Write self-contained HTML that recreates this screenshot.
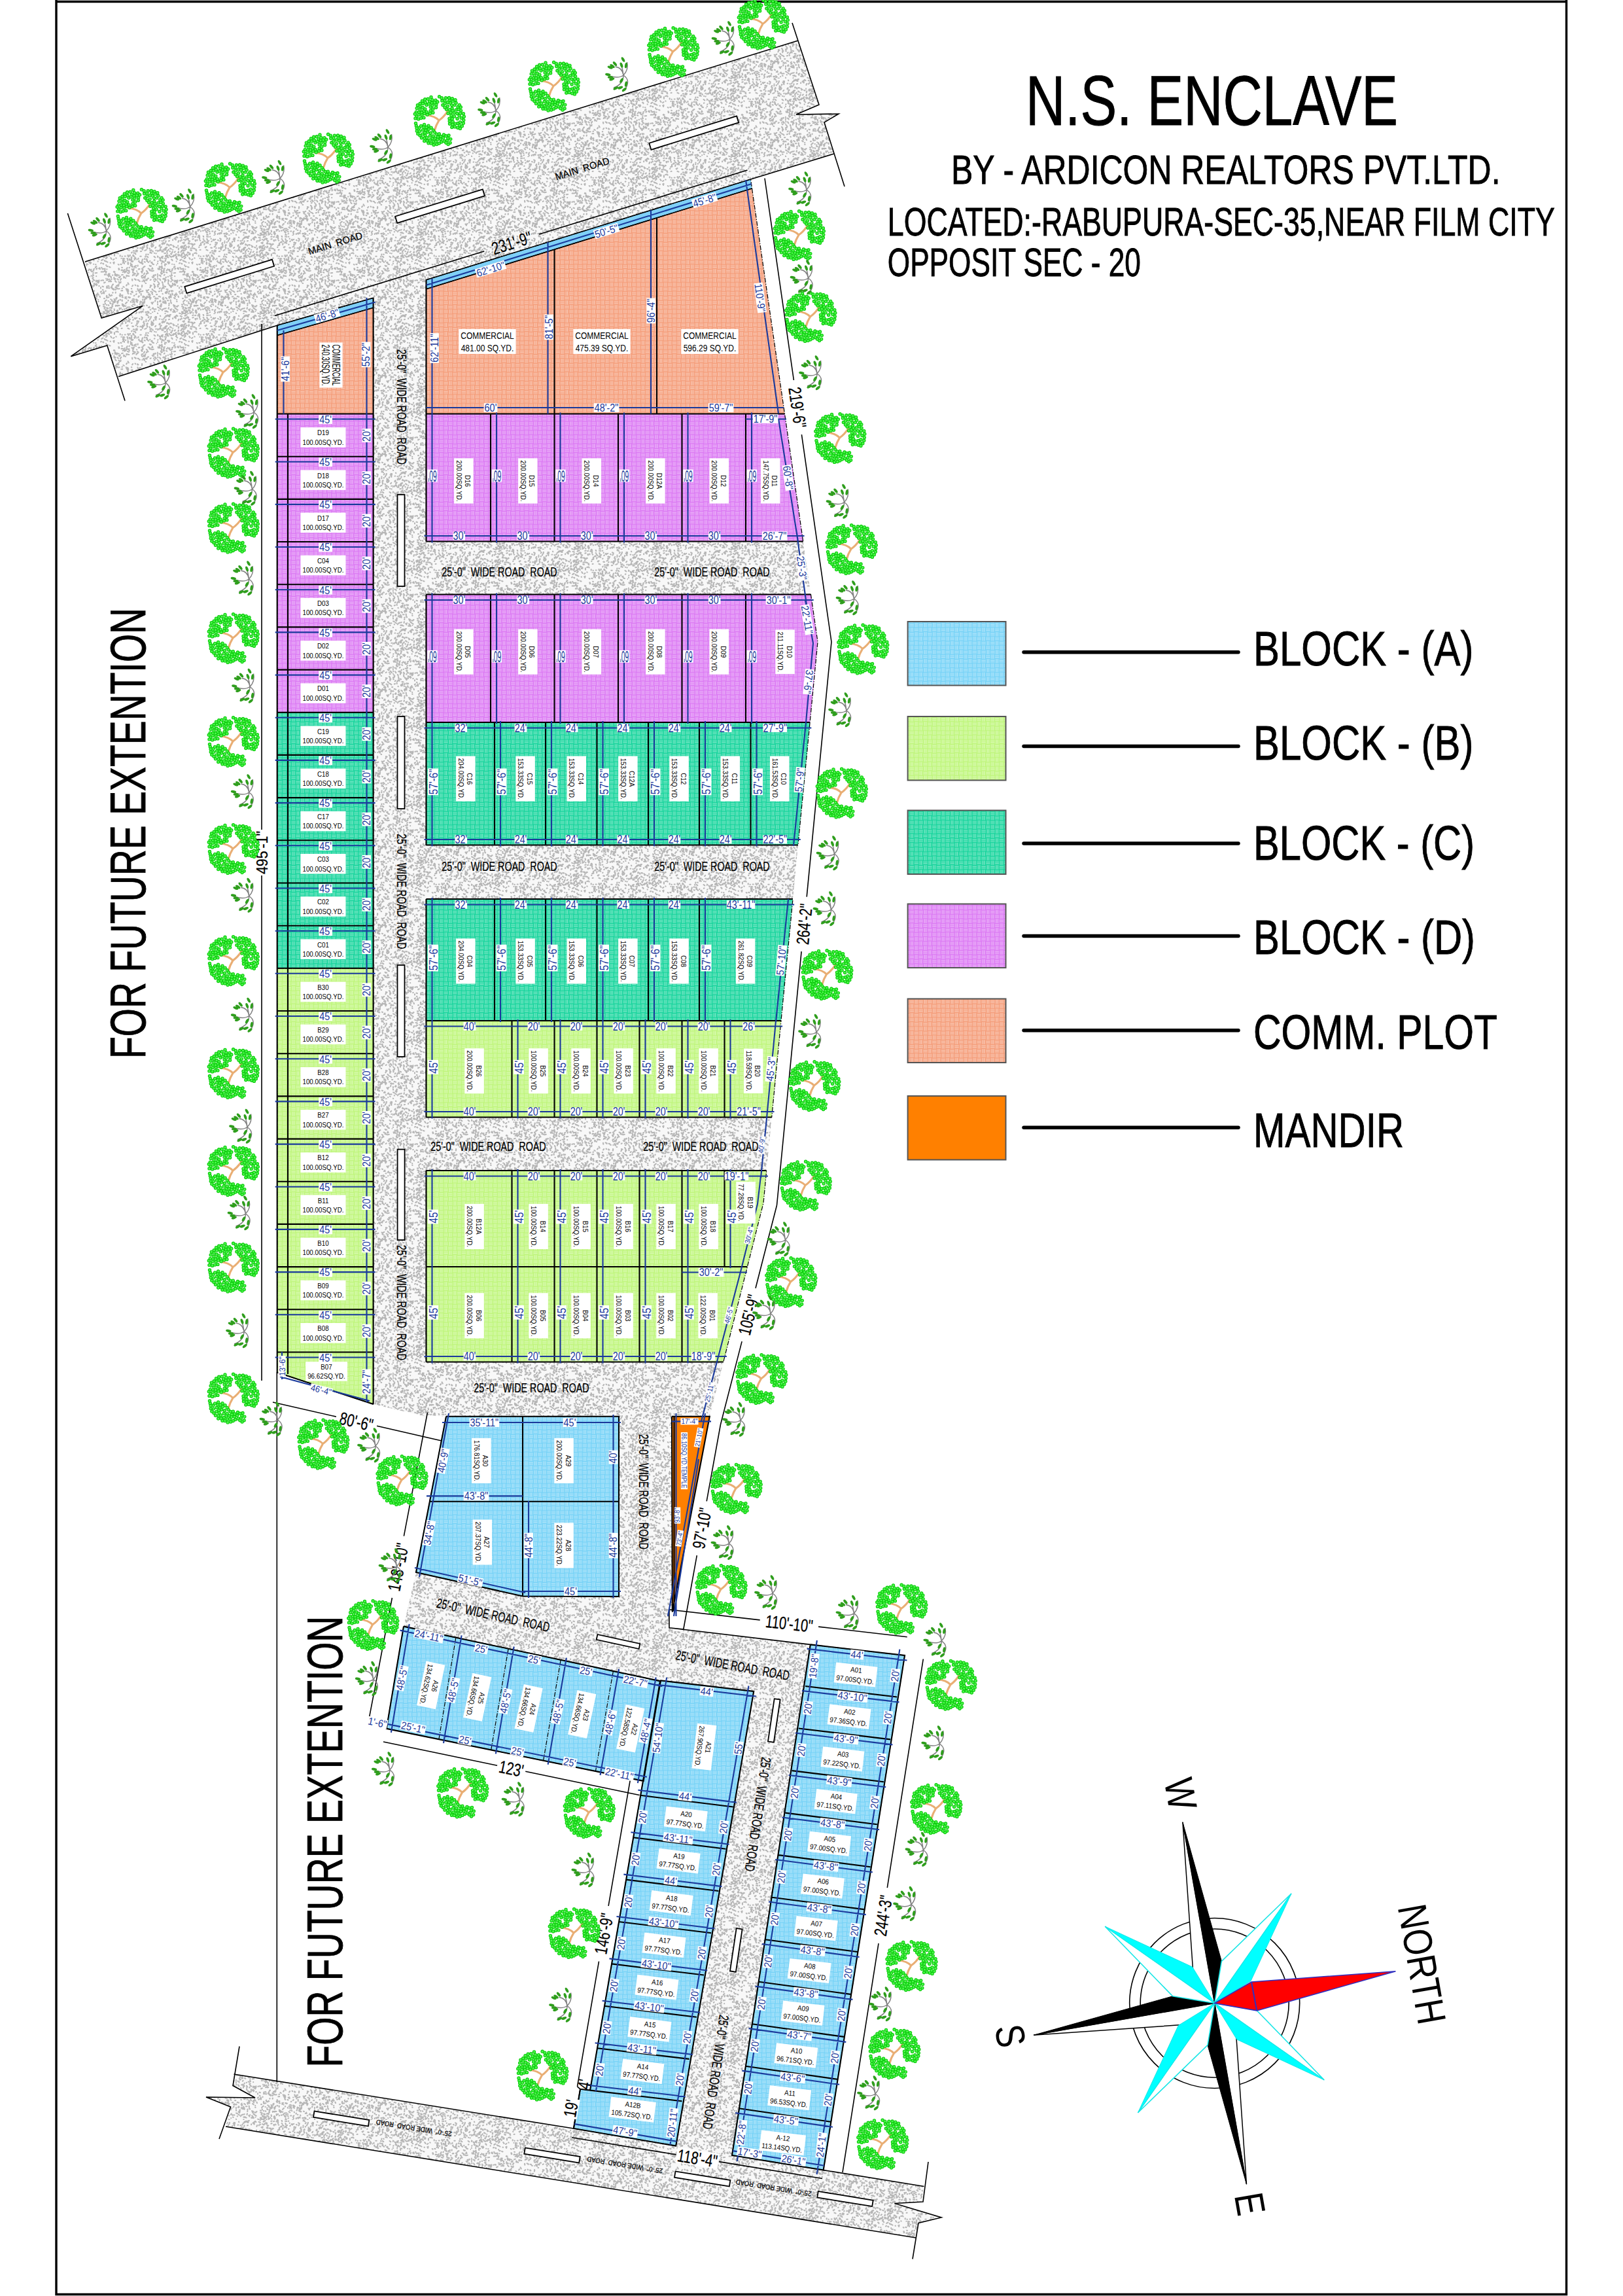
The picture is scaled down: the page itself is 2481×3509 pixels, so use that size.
<!DOCTYPE html>
<html><head><meta charset="utf-8"><title>N.S. ENCLAVE</title><style>html,body{margin:0;padding:0;background:#fff}svg{display:block}</style></head><body>
<svg width="2481" height="3509" viewBox="0 0 2481 3509" font-family="'Liberation Sans',sans-serif">
<style>.k{stroke:#000;stroke-width:2.1;fill:none}.t{stroke:#000;stroke-width:1.6;fill:none}.b{stroke:#1a3a9c;stroke-width:2.1;fill:none}.d{stroke:#000;stroke-width:1.2;fill:none;stroke-dasharray:7 2 1.5 2}text{white-space:pre}.bt{stroke:#000;stroke-width:.25}.lt{stroke:#000;stroke-width:.9}</style>
<defs>
<pattern id="rd" width="120" height="120" patternUnits="userSpaceOnUse"><rect width="120" height="120" fill="#f8f8f8"/><path d="M38.9 18.1l-0.1 0.2M64.3 43.9l1.2 0.2M4.5 52.0l0.2 0.0M50.9 99.2l0.5 0.2M75.3 113.7l-0.2 0.9M117.2 5.6l-0.6 0.3M17.3 14.1l1.1 1.6M21.7 69.8l-0.4 0.8M65.7 7.5l0.5 0.1M81.6 51.3l0.8 1.2M54.4 36.0l-1.3 1.0M29.3 68.9l-0.2 2.1M87.5 34.6l-0.3 0.0M50.2 90.9l1.0 0.5M4.7 80.2l-1.0 0.9M105.1 37.6l-0.8 1.2M69.6 54.7l-2.0 1.1M56.9 79.7l1.7 0.3M77.7 119.2l-0.6 0.4M46.3 80.2l1.1 0.1M20.2 14.1l1.8 0.3M15.5 29.7l0.7 2.0M9.7 53.9l-0.3 2.1M98.3 103.7l0.6 0.8M43.1 106.1l-0.4 0.0M21.1 27.8l0.9 0.8M70.7 31.5l1.0 0.0M44.3 68.0l-1.6 0.2M61.9 74.1l-0.1 0.1M107.9 93.6l-1.8 0.7M47.1 47.9l1.4 0.5M7.5 8.1l0.3 0.2M40.8 6.3l0.4 0.0M12.2 43.6l2.1 0.2M73.7 17.8l0.6 0.6M43.7 14.7l-2.1 1.1M55.9 58.1l0.2 0.1M41.1 31.8l-0.3 0.2M2.8 114.1l-0.0 0.4M65.2 3.2l-0.2 2.3M103.6 83.5l0.6 0.6M20.0 92.6l-0.2 1.9M39.6 26.8l-2.0 1.3M102.3 96.7l-1.5 1.0M27.2 62.1l0.0 0.1M3.4 33.5l1.1 1.2M114.8 53.7l-2.3 0.5M114.6 43.8l0.4 0.3M23.6 24.5l-0.8 2.0M100.9 57.5l-0.9 1.7M10.2 79.3l-1.8 0.5M90.0 57.4l1.6 1.0M39.9 96.1l-0.9 0.1M48.2 113.6l-0.3 0.3M15.2 18.1l-1.8 0.6M17.5 99.2l-1.6 0.1M42.0 65.8l0.0 0.0M116.5 78.0l-0.2 2.2M52.1 104.6l-0.4 0.3M30.2 35.2l1.0 1.0M31.1 50.3l2.0 0.9M42.5 55.0l-0.6 2.1M50.5 110.1l-0.0 1.3M62.8 2.2l0.1 0.4M0.5 95.9l1.0 0.6M87.0 66.8l0.6 1.1M66.7 94.1l1.3 0.4M29.8 33.2l-0.9 0.8M67.4 91.2l-1.0 0.3M73.5 60.7l-0.1 1.7M54.3 64.0l0.2 2.3M83.9 105.2l-0.6 0.1M67.1 113.2l-0.3 0.2M14.6 53.1l0.6 0.1M8.8 80.3l-1.7 1.4M18.5 85.9l-0.2 0.3M105.9 116.1l1.8 1.5M47.8 58.5l-2.0 0.1M19.4 51.8l-0.0 0.8M23.5 38.2l-0.0 0.0M66.5 52.9l0.8 0.0M74.9 61.5l2.3 0.5M94.6 116.6l0.6 0.2M4.8 93.5l0.2 0.2M50.7 109.4l-0.5 0.3M17.9 110.3l-0.4 1.6M10.7 6.9l-0.6 0.8M8.7 112.6l-0.8 1.8M10.0 102.7l2.0 0.4M54.5 40.7l-0.4 2.2M32.1 15.5l-0.0 0.6M13.1 19.4l0.5 0.1M37.4 36.6l-0.5 0.5M60.0 21.3l0.0 0.0M30.1 1.8l-0.9 1.0M22.7 57.0l-0.2 0.1M98.3 51.9l0.0 2.0M47.2 60.8l-1.3 2.0M41.1 99.9l-0.9 1.2M48.6 41.7l0.3 0.1M8.5 88.9l0.3 0.3M10.1 101.0l-1.5 0.6M33.8 29.1l0.7 0.9M18.9 53.5l1.6 1.7M116.7 65.6l1.7 1.6M37.1 42.8l0.9 0.0M57.0 60.3l1.0 0.7M0.6 31.7l0.9 0.3M5.0 2.7l0.3 0.5M70.3 63.5l-1.1 1.1M85.9 105.5l0.3 0.7M118.2 17.9l-1.0 1.2M5.3 100.2l-1.4 0.5M88.1 97.5l1.1 0.5M60.5 100.2l-1.6 1.1M70.1 107.1l-0.9 1.4M27.6 3.7l0.8 0.4M12.6 100.3l-0.3 1.5M75.1 81.7l0.0 0.0M95.7 89.8l-0.0 1.3M79.1 7.9l-0.4 0.4M8.9 31.9l-0.3 0.4M88.8 117.1l0.0 0.9M57.5 82.0l-1.1 1.0M77.1 9.3l0.5 0.3M89.2 36.5l-0.0 0.0M7.3 32.3l-0.9 1.4M81.1 34.9l-0.1 1.1M56.0 14.2l-0.5 0.2M117.4 112.4l1.1 0.1M98.4 116.2l0.1 0.6M25.2 113.5l1.1 0.9M17.0 62.9l-0.3 0.0M98.4 61.0l-1.6 0.6M27.8 107.7l0.0 0.1M0.4 59.0l0.1 0.7M16.9 41.3l1.1 1.7M0.2 90.1l-0.3 0.1M111.2 85.6l-0.7 0.2M44.7 47.1l-1.4 0.0M43.3 51.4l0.1 0.1M12.2 100.2l1.4 1.8M29.9 31.9l-0.0 0.5M44.8 114.7l-1.8 0.7M75.7 109.6l-1.3 0.2M86.3 5.9l-0.7 0.8M90.3 77.3l0.1 0.1M111.2 15.3l0.1 0.8M35.7 88.7l-0.6 0.0M78.7 36.1l-0.2 0.9M20.1 19.4l1.7 1.3M59.6 26.4l-2.3 0.7M54.0 16.8l0.2 0.1M41.0 10.9l0.5 0.4M68.4 106.5l-0.7 0.7M49.7 62.9l0.3 0.8M7.4 33.3l-0.3 0.0M60.4 75.6l-0.5 0.2M32.5 29.8l0.3 1.0M114.5 101.8l-0.0 0.0M3.9 85.1l-1.1 0.4M70.5 0.0l0.7 2.1M99.1 102.7l-0.6 0.1M13.1 18.5l-0.1 1.6M113.0 86.6l-0.8 1.6M54.9 66.2l1.9 0.2M27.9 110.4l-0.3 0.7M15.4 30.2l-0.7 1.5M13.5 8.4l-0.1 1.4M46.6 26.8l-0.0 0.0M36.2 55.3l-1.5 0.2M106.1 57.0l0.4 0.4M115.3 84.6l0.0 0.0M59.8 80.9l0.2 0.6M80.1 111.0l0.1 0.1M40.6 50.5l-0.3 0.4M95.6 88.7l-0.0 0.5M116.4 37.4l-0.5 0.3M26.6 91.3l1.4 1.8M59.5 22.5l0.8 0.6M79.8 113.9l0.8 0.4M25.6 116.9l0.1 0.1M7.2 47.2l-2.0 0.7M87.9 119.7l-0.8 0.2M22.3 112.3l-0.1 0.1M79.7 45.4l0.3 0.7M20.3 0.3l0.5 0.6M114.7 14.8l-0.5 0.1M42.8 98.6l-0.9 0.6M5.9 56.8l0.9 2.0M23.2 43.7l-0.1 0.0M49.3 97.4l-0.1 0.1M4.2 7.5l-0.6 0.2M89.7 107.8l0.3 0.6M114.9 74.0l1.2 1.3M38.0 33.1l1.8 0.0M110.0 76.1l-0.1 0.0M28.1 57.0l-2.3 0.3M46.4 30.1l0.3 1.2M111.4 22.0l-1.4 1.0M98.7 92.7l-0.3 0.7M38.3 43.4l-0.1 0.1M23.7 90.3l0.1 0.1M4.1 66.3l1.2 2.0M106.0 118.5l0.1 0.1M11.6 59.8l-0.7 0.8M28.1 50.0l-0.6 1.5M89.8 101.6l-0.1 0.3M100.9 35.3l-0.2 0.9M88.6 23.9l0.4 0.4M18.4 106.1l-0.2 0.8M47.5 119.1l-0.0 0.6M97.0 78.4l-0.2 0.0M57.0 98.3l-1.9 1.1M4.8 35.2l0.4 0.2M116.8 70.0l-0.9 0.2M103.9 53.9l1.3 1.4M113.5 12.7l-0.4 1.4M26.1 44.2l0.4 0.2M30.6 71.9l-0.2 0.4M1.4 39.3l-0.2 0.4M37.5 24.4l-1.1 0.8M7.6 12.2l0.4 1.2M76.7 10.9l1.5 0.8M49.2 34.0l1.3 1.9M37.5 68.0l0.4 0.9M103.7 119.6l0.2 0.4M87.4 24.4l2.2 0.0M50.9 98.4l0.6 2.0M55.3 19.5l1.3 0.1M76.9 109.2l1.4 0.4M44.5 60.5l0.6 0.3M62.5 111.1l1.1 0.4M96.6 116.0l0.2 0.2M113.2 117.1l0.0 0.1M111.1 46.5l-1.4 0.4M98.9 19.2l-0.4 0.3M48.5 101.6l-0.4 0.2M26.2 48.0l-0.1 0.9M14.8 29.6l-1.4 1.6M4.9 67.5l-0.1 0.1M100.6 14.1l-0.4 1.3M75.2 36.7l0.3 1.4M51.1 79.1l0.2 1.0M2.8 74.3l0.0 0.6M91.6 93.6l0.1 0.4M56.8 12.8l1.0 0.4M11.0 53.0l-0.0 0.1M76.4 9.9l-1.2 1.4M61.4 6.5l-0.0 0.9M114.1 16.3l-2.2 1.0M87.9 97.8l1.9 1.3M59.0 114.8l-0.4 0.1M94.6 111.7l0.8 0.2M90.7 19.1l-0.6 0.2M97.9 17.2l-0.0 2.2M25.0 31.5l-0.0 0.8M4.4 21.9l2.0 1.1M81.6 107.4l1.6 1.0M13.8 63.7l-0.4 0.8M104.8 66.6l-0.5 2.1M12.6 119.2l-0.4 0.9M95.7 31.8l-1.4 0.0M43.2 91.8l0.1 0.4M89.2 5.8l-0.5 0.3M76.7 118.1l-0.4 1.5M37.5 0.2l0.4 0.0M73.9 51.9l-0.1 2.1M15.8 27.3l-0.0 0.0M0.3 42.6l0.8 0.3M26.9 70.0l-0.1 0.5M74.9 57.0l2.0 0.9M29.2 17.9l1.5 0.5M104.6 93.9l0.2 0.6M1.4 77.4l-0.2 0.8M77.5 53.3l-1.7 0.3M29.8 108.4l1.3 0.2M48.7 28.5l1.8 0.3M1.5 66.1l-0.3 0.1M23.9 73.0l-0.0 1.5M97.6 21.0l0.4 0.6M5.8 106.7l-1.3 1.1M0.8 101.3l-0.8 0.8M89.0 54.3l0.2 0.2M27.9 4.7l0.9 1.6M83.4 101.4l-0.4 0.5M66.5 52.3l-1.0 0.8M31.8 77.0l-0.5 0.1M105.6 1.8l0.4 0.4M89.3 113.4l-0.5 0.6M105.6 39.4l1.6 1.5M75.7 83.1l-1.2 2.0M56.3 100.8l-1.2 1.7M52.5 87.0l-0.2 0.7M25.4 74.7l2.1 0.5M17.4 3.2l2.1 0.7M41.4 17.0l0.1 0.0M83.1 76.1l-1.0 1.4M7.9 70.9l0.8 1.8M98.3 107.0l2.0 0.4M109.7 113.3l0.5 0.2M13.4 4.1l-1.7 0.9M76.1 99.0l-0.3 0.6M12.0 11.7l-0.4 0.3M38.3 50.9l0.6 0.0M33.9 85.9l0.3 0.7M115.7 60.4l-1.3 0.7M3.7 49.6l0.4 1.8M41.6 84.6l-0.1 0.5M103.5 10.9l-0.3 0.2M0.2 24.2l-1.7 1.6M0.5 58.9l0.1 1.9M22.1 59.3l0.9 1.8M31.3 113.3l0.3 0.4M83.9 59.8l1.4 0.5M9.7 94.5l-1.1 1.5M75.4 42.7l0.3 0.9M106.8 10.3l-0.1 0.0M24.7 31.6l-1.1 0.4M45.5 106.1l0.8 0.7M63.8 90.5l-1.1 1.1M41.8 39.2l1.8 0.9M79.5 89.0l0.9 0.5M92.8 69.5l1.0 0.4M106.2 28.6l0.6 0.4M84.4 101.2l0.3 0.2M29.7 39.2l-0.0 0.4M39.4 22.7l-1.7 0.1M12.2 115.5l0.9 0.3M118.1 95.4l-0.7 0.8M23.5 76.6l0.5 0.2M46.6 4.1l0.6 1.8M83.2 60.1l-0.4 1.0M17.0 72.4l0.5 1.7M109.0 51.6l-0.4 1.7M50.5 27.4l-1.4 1.6M92.9 84.0l-1.5 0.7M77.0 54.5l0.8 1.3M11.7 50.3l-1.3 1.1M75.6 30.0l0.3 1.1M74.6 49.1l-1.2 1.9M22.0 78.5l-0.7 0.6M58.8 117.0l1.3 0.2M19.3 93.8l-1.2 0.2M12.1 68.9l-0.2 1.7M61.5 76.7l-1.1 0.6M49.2 113.8l1.3 1.0M47.1 91.5l2.2 0.9M42.7 6.8l0.6 0.7M1.6 50.2l0.4 1.6M42.3 31.8l1.4 1.2M112.8 63.2l1.5 1.2M47.0 25.4l1.7 0.7M97.1 76.1l0.1 1.3M27.1 115.7l0.7 1.4M98.2 97.9l0.1 0.7M65.8 15.0l-0.7 0.4M102.1 32.1l0.2 0.6M51.1 22.3l1.7 0.0M33.7 29.4l0.7 0.9M51.4 76.5l-0.4 0.8M111.4 102.5l2.0 0.4M108.7 94.1l1.8 0.9M76.0 1.8l2.3 0.1M78.7 30.0l0.3 0.1M28.0 93.2l0.2 0.3M108.5 95.0l1.8 1.1M73.0 93.8l-1.1 1.9M94.6 100.7l1.4 1.0M63.7 89.0l0.4 2.1M66.6 31.7l0.2 0.2M59.2 7.0l0.0 0.3M59.0 59.8l-0.3 2.1M0.8 100.9l0.1 1.3M79.8 100.9l0.4 0.9M115.3 9.0l-0.6 1.4M3.4 73.2l-1.2 1.9M39.7 117.8l-0.0 1.2M107.7 4.1l-0.9 1.2M40.6 103.4l0.5 1.0M63.1 92.5l0.8 0.6M50.7 66.5l-0.6 0.4M99.3 48.4l-0.0 0.7M60.8 117.0l-0.9 1.7M39.7 38.1l0.8 1.1M76.2 94.1l1.7 0.2M106.3 65.4l0.7 0.1M0.7 22.8l-1.4 0.4M79.0 94.7l-1.4 0.4M74.0 75.2l-0.8 1.2M81.7 25.5l-0.6 1.0M91.5 12.2l0.1 0.0M92.9 109.7l-0.4 0.8M98.7 94.4l-0.1 0.6M36.2 50.6l0.6 0.9M77.0 112.1l1.3 0.2M4.7 14.3l-1.1 0.8M110.2 53.6l0.9 0.0M71.0 112.5l-1.1 0.1M49.5 12.2l-0.2 0.5M18.2 1.9l1.6 0.0M14.6 116.0l2.0 0.6M15.5 2.1l-0.4 0.4M88.0 22.5l1.8 0.3M85.6 102.7l-0.1 0.2M75.4 85.1l0.3 2.2M30.5 115.7l-0.0 0.0M1.8 78.1l-0.2 0.1M37.3 87.5l1.8 1.0M58.4 7.2l0.6 1.3M52.6 81.2l1.7 0.8M43.6 77.4l-0.4 0.9M46.3 94.3l-1.9 0.3M68.0 35.1l2.3 0.4M84.4 99.3l0.7 1.3M117.3 99.8l-0.2 0.7M51.4 106.6l0.6 1.5M72.2 107.5l-0.6 0.4M0.2 31.6l0.3 1.4M97.9 106.5l2.0 0.3M97.4 104.1l-0.1 0.6M102.1 96.8l-1.2 1.8M41.6 10.2l-0.3 1.9M24.1 90.0l-0.5 0.1M72.8 81.3l0.1 0.5M30.6 90.1l-0.9 0.7M10.5 96.8l-0.4 0.4M69.6 107.6l-1.2 0.4M57.2 70.7l0.4 0.3M21.7 84.1l0.6 1.2M48.3 62.1l0.1 0.0M119.7 44.9l1.4 0.5M94.5 18.7l-0.2 0.8M62.3 2.5l2.4 0.3M103.9 58.4l-0.1 0.6M93.5 51.1l-1.8 0.3M98.3 115.6l0.1 0.1M24.1 21.7l0.1 0.0M66.9 104.5l0.3 2.3M109.2 7.7l-0.3 0.9M14.4 115.1l0.9 1.0M76.9 114.8l-0.5 0.8M53.8 19.2l-2.4 0.3M26.6 4.6l0.6 0.6M108.3 108.5l-0.1 0.1M94.4 85.2l-1.1 2.1M6.7 17.4l-1.6 1.6M81.2 35.9l-0.5 1.7M12.7 38.9l0.2 0.2M57.8 20.2l0.3 0.2M81.3 1.5l-0.3 0.4M4.3 111.3l1.7 1.4M104.0 106.6l1.0 0.5M11.6 111.5l-1.3 0.7M54.3 40.8l-1.0 0.6M75.4 17.1l0.1 0.1M85.6 66.4l1.9 0.9M32.0 49.4l0.6 0.3M100.7 40.1l1.0 0.6M38.2 108.4l2.2 0.8M6.8 107.4l-0.3 0.4M57.3 34.3l0.3 0.4M43.7 118.9l-2.2 0.0M11.7 34.7l-0.1 0.0M87.2 35.2l-0.0 0.0M96.8 40.9l0.0 0.0M99.9 63.2l0.9 0.6M109.4 26.2l-0.1 0.3M21.6 92.5l-0.3 0.4M9.5 10.5l-0.4 1.1M32.9 24.7l-0.6 1.6M97.4 70.0l0.1 0.1M87.9 49.0l-0.1 0.1M97.3 40.2l-1.8 1.0M59.2 1.9l-1.1 0.3M104.6 32.0l1.7 1.1M44.1 19.6l0.6 1.3M0.6 62.4l0.2 1.2M14.5 85.8l-1.7 1.1M38.5 85.3l0.7 1.7M7.3 104.7l-1.2 0.2M61.6 63.7l-0.0 0.0M116.1 26.8l0.2 0.1M30.1 98.1l0.2 0.0M83.9 23.4l1.4 0.1M69.2 62.7l-0.1 0.2M104.3 86.1l0.3 0.0M59.2 60.1l0.2 0.2M48.7 16.4l-0.6 2.0M17.7 68.7l-0.3 0.3M99.1 112.5l0.3 0.9M100.8 63.1l0.7 2.1M93.2 40.6l0.6 0.6M52.3 117.7l-1.8 1.3M97.8 101.7l1.2 0.2M114.9 112.1l0.7 0.7M75.9 43.7l-0.0 0.2M52.0 60.6l0.3 0.0M116.4 93.2l-1.5 0.3M97.1 106.1l-0.1 0.0M77.0 31.9l-0.3 0.6M65.1 110.9l-0.2 0.6M62.4 52.0l-0.7 0.1M36.6 77.7l1.3 0.5M114.7 61.7l0.7 0.8M64.1 17.8l0.3 0.1M35.2 48.8l0.4 0.5M10.5 65.6l-1.3 0.7M68.4 78.0l1.4 1.0M55.3 65.8l-0.4 1.1M37.3 29.1l0.9 0.8M46.0 70.3l0.8 0.0M103.4 28.6l-0.2 1.2M34.2 118.5l1.1 1.5M19.0 8.0l-1.0 0.4M7.4 46.5l0.3 1.7M13.1 27.0l-1.8 0.2M18.5 40.4l0.7 1.4M74.0 102.0l-1.1 0.7M88.7 89.2l-0.8 0.8M94.2 85.0l-0.3 0.1M104.5 0.5l-1.0 0.9M59.7 115.5l-0.2 1.0M94.0 104.7l-0.3 0.9M54.3 54.9l-0.5 0.5M46.9 66.6l0.3 0.7M94.4 101.9l0.0 1.1M22.1 36.5l1.2 0.6M69.8 10.6l-0.8 0.2M101.2 100.6l-0.5 0.1M51.2 109.3l0.1 0.0M67.8 59.7l-1.8 0.5M64.6 119.8l-0.1 1.2M82.2 46.7l0.6 1.3M42.1 113.7l-0.7 1.1M11.9 44.9l0.4 1.3M68.9 105.6l-1.2 0.1M52.8 75.0l-0.8 0.0M63.6 97.9l0.7 0.4M117.4 99.1l-0.0 0.3M107.3 82.8l-2.0 1.3M106.6 50.5l0.6 0.3M61.4 60.6l0.4 0.2M75.6 72.4l1.1 2.1M76.4 5.1l0.5 1.8M36.8 82.9l0.7 0.0M101.1 70.3l-0.2 0.4M59.7 66.4l1.0 1.2M63.8 119.7l-0.2 1.0M14.6 18.8l-0.2 0.2M12.0 20.5l-0.1 2.0M73.6 96.8l0.0 0.0M92.5 38.7l-0.5 0.7M20.3 32.0l2.1 0.7M69.9 41.9l0.1 0.9M6.6 106.9l-0.6 2.2M52.8 74.4l0.1 0.1M111.7 102.6l1.2 1.8M97.9 36.4l-0.7 2.2M59.5 114.0l0.7 0.6M86.2 26.6l1.2 1.7M58.1 95.1l0.3 0.3M43.0 22.4l-0.7 0.1M67.4 13.8l-0.1 0.9M48.4 7.9l1.8 0.7M42.1 29.4l0.6 0.4M28.5 4.2l-0.4 0.7M18.7 84.7l0.6 0.2M100.2 15.3l0.4 2.0M96.6 19.1l0.8 1.6M45.2 115.0l1.8 1.4M60.6 27.3l0.0 0.3M84.8 31.3l-1.3 0.4M44.2 29.6l-0.2 0.5M104.7 14.7l-0.1 1.3M32.4 92.6l0.6 1.5M68.1 37.3l0.1 0.2M21.2 102.1l0.8 1.3M13.1 67.4l0.5 1.1M35.6 7.9l0.3 0.5M15.1 86.0l0.6 0.8M109.1 93.0l-1.9 0.7M15.9 33.2l1.6 0.2M79.6 42.2l0.4 1.5M83.9 29.8l-0.7 0.4M75.5 21.8l2.0 0.8M88.1 85.5l0.1 0.0M19.4 23.8l0.5 0.7M4.7 37.3l-0.2 0.4M100.7 68.4l-0.4 0.5M52.2 82.1l0.0 0.0M100.1 93.2l0.1 0.1M102.5 72.9l0.6 0.1M13.3 95.0l1.7 1.3M89.9 10.3l-0.5 0.8M89.7 99.4l0.1 0.2M113.6 50.9l-1.6 0.4M88.6 99.6l-0.4 1.0M6.5 83.8l0.3 1.2M111.4 15.3l-0.1 0.1M84.3 96.7l0.9 1.0M116.3 76.5l-0.1 0.6M7.1 42.9l0.1 0.5M37.3 16.4l-1.0 1.3M28.5 29.0l-0.1 1.1M112.3 42.2l1.3 1.7M17.0 67.6l1.0 1.7M65.8 91.3l1.4 0.8M71.8 55.3l-1.5 1.3M13.7 34.7l0.2 0.4M7.2 33.7l1.4 1.0M53.8 13.6l0.6 1.0M43.6 20.2l0.0 0.0M119.1 90.1l1.7 0.4M117.6 67.6l1.1 0.4M52.1 22.8l-0.0 0.0M110.3 77.3l-0.9 2.1M78.3 30.2l0.2 0.2M3.3 92.9l-0.6 0.3M22.3 76.6l-2.0 1.0M20.2 94.2l-1.5 0.9M39.2 22.1l-0.7 0.4M44.2 66.1l0.8 1.8M28.7 5.0l-0.3 1.5M98.4 84.7l-2.2 0.7M59.3 59.9l0.6 0.3M69.7 9.6l-0.2 0.3M53.2 116.4l0.1 0.0M52.7 22.9l-0.0 0.0M100.9 102.6l-0.8 0.6M34.0 79.4l-0.0 1.0M40.6 52.6l-1.0 1.7M108.5 19.7l0.6 0.9M67.6 41.8l0.2 0.1M38.8 55.3l-2.2 0.2M103.9 116.9l-1.5 0.2M97.3 7.2l-0.8 1.2M35.6 68.5l-1.1 0.2M77.7 35.9l1.0 1.9M3.3 22.7l-0.6 0.9M10.2 79.3l0.5 1.3M50.0 63.6l-0.2 0.9M13.7 21.7l-1.2 0.4M13.5 103.5l0.2 0.2M63.7 30.2l0.0 1.3M27.2 68.7l1.2 0.4M70.6 9.6l0.1 0.2M52.7 103.6l-0.3 1.7M90.8 13.8l-1.7 0.1M12.3 99.6l0.1 0.4M115.2 67.6l-0.2 0.2M93.1 6.9l0.7 0.6M1.8 71.3l0.6 0.4M84.9 51.1l-1.4 0.5M104.7 67.6l-2.0 0.5M20.2 89.5l0.9 1.6M81.7 99.1l0.8 0.3M88.5 113.8l-0.1 0.1M72.5 12.0l-0.3 1.9M13.6 111.0l-0.3 0.5M23.2 53.6l-1.2 0.7M13.6 2.5l1.8 0.7M22.2 66.5l1.0 1.3M45.7 17.3l-1.2 0.5M82.7 97.0l-0.0 0.0M41.1 18.1l-0.0 2.1M96.1 4.3l1.7 1.1M81.5 47.1l0.0 0.4M101.4 47.2l-1.4 0.6M9.1 39.5l1.7 1.3M70.7 5.2l0.7 0.4M56.1 69.2l0.3 0.8M0.7 69.5l0.0 0.0M55.1 118.4l0.3 0.0M80.5 32.7l0.8 0.9M31.4 68.3l-0.2 2.3M119.1 4.1l-0.4 1.8M104.7 92.9l-0.6 1.4M43.5 33.8l-1.7 1.3M112.6 81.8l1.1 1.5M88.7 61.1l-0.3 0.8M66.1 48.7l0.8 0.2M38.8 118.6l0.1 0.9M29.2 28.2l0.1 0.3M0.9 104.5l0.2 1.1M68.2 36.3l0.1 0.1M36.2 37.0l-0.9 1.0M112.5 40.9l-1.4 0.3M9.6 21.4l-0.6 2.3M42.8 92.9l0.5 2.0M8.1 58.1l-0.6 0.2M30.9 2.8l0.6 0.3M84.5 26.2l0.1 0.5M72.3 103.7l-0.2 0.4M88.1 115.6l-0.1 0.2M97.1 105.1l0.2 0.3M22.6 64.4l-1.4 0.6M110.7 25.5l0.9 1.5M77.9 48.6l-0.4 0.7M6.9 49.7l1.5 0.2M40.1 59.3l-0.2 0.6M55.6 1.6l-1.3 0.3M118.5 6.7l-0.6 1.6M39.5 11.2l0.3 0.2M92.1 10.8l-0.8 0.6M64.6 70.6l-0.3 1.6M72.2 39.7l-0.4 0.4M85.4 91.6l-0.6 0.5M92.7 117.3l0.1 0.7M62.8 112.9l0.0 0.0M57.1 78.6l-0.7 0.6M118.7 27.4l-0.2 0.1M3.4 16.1l1.2 0.2M66.6 21.8l-0.9 0.2M17.9 21.3l-1.5 1.6M19.4 3.5l-0.4 0.4M117.9 59.9l-0.3 0.8M96.1 55.2l1.1 1.8M12.9 88.0l1.5 0.3M48.2 103.7l1.3 0.3M49.2 110.3l-1.5 0.3M26.9 30.2l0.7 0.8M27.8 24.4l-1.1 1.1M35.8 119.3l1.1 0.9M18.8 103.6l-0.6 0.3M90.2 98.7l0.5 0.6M58.3 106.9l1.4 0.8M71.7 54.4l-0.5 2.1M25.2 106.0l0.8 1.7M103.6 21.9l-2.2 1.0M35.7 2.9l2.2 0.8M1.1 109.4l1.6 0.8M11.7 20.2l-0.1 0.2M40.7 110.2l-1.3 1.6M117.6 3.9l1.4 1.3M82.7 4.5l-0.0 0.6M51.7 12.6l2.4 0.1M38.0 105.4l1.1 0.4M16.3 51.4l1.4 0.9M17.8 88.6l-0.0 0.3M42.4 59.6l-0.8 0.2M25.8 116.1l-1.6 0.6M32.8 21.3l0.1 0.1M5.2 61.1l0.4 1.3M43.5 1.3l-0.9 1.3M65.3 65.9l-1.3 1.9M104.9 86.1l0.2 0.7M50.3 116.8l0.3 0.9M49.2 17.2l-0.0 0.0M72.9 111.2l1.0 1.1M45.2 28.9l0.2 0.2M101.2 94.1l-0.1 0.0M83.3 38.9l-0.6 1.2M37.9 116.6l1.8 0.0M102.4 61.2l-0.7 2.3M28.1 75.5l-0.6 0.7M85.5 47.2l-0.1 1.5M81.3 38.7l-0.5 1.2M26.8 73.5l1.5 1.6M56.8 86.6l-0.1 1.1M26.5 17.1l-1.2 0.3M62.9 63.3l-0.5 0.3M20.7 98.6l0.2 1.5M99.3 107.3l-0.1 0.0M45.8 99.9l-0.2 0.2M18.5 30.2l0.8 0.3M96.4 62.6l0.0 0.2M47.5 119.6l-0.6 0.9M57.4 95.8l-0.3 0.2M81.6 44.0l-0.0 0.6M44.5 40.8l0.0 0.0M24.1 68.5l0.4 0.1M86.2 33.0l0.3 0.5M100.1 11.0l-0.9 1.9M24.2 50.8l-1.2 0.9M44.6 5.3l0.2 0.9M85.5 35.4l0.4 1.5M97.3 42.3l0.5 1.3M111.0 23.0l-1.7 0.2M44.7 79.9l0.1 0.1M90.7 45.5l-0.1 1.2M108.2 90.8l1.4 0.1M55.5 55.5l-0.9 0.5M56.8 106.8l0.2 1.2M61.4 99.0l-0.9 1.5M48.2 4.9l-0.7 1.1M92.3 92.4l0.5 0.2M9.3 98.1l0.2 0.1M90.4 67.7l1.6 0.3M85.3 57.9l1.6 0.3M50.2 70.1l-2.0 0.0M104.6 17.5l0.6 1.1M0.7 118.6l0.4 0.5M37.6 30.6l-1.2 0.6M61.3 50.4l0.7 0.1M104.0 96.2l-0.6 0.3M24.2 6.3l-0.1 0.9M55.7 58.7l-0.2 0.8M96.2 24.0l-1.3 0.3M6.1 37.7l-0.1 1.0M67.8 38.8l1.2 1.4M35.0 85.3l-1.2 0.8M54.6 112.2l0.4 2.1M6.9 52.0l-0.0 0.1M103.5 8.6l-0.1 0.4M110.7 67.3l-1.0 0.7M80.9 81.0l0.3 0.4M100.6 17.5l-0.5 0.1M12.1 11.4l-1.8 1.4M49.8 79.1l1.5 1.6M82.3 18.6l1.6 0.3M5.0 100.3l0.3 0.4M69.8 38.2l-0.1 0.4M109.4 38.9l-0.3 0.2M95.9 117.6l0.0 0.1M45.6 76.9l1.0 0.8M11.2 55.7l-0.7 0.8M81.5 13.7l-0.3 0.2M110.8 119.5l-1.2 0.2M34.9 41.8l-0.8 0.8M111.6 11.2l0.1 2.1M71.7 64.9l0.3 0.1M32.5 107.2l-0.5 0.3M111.0 3.9l-0.7 2.2M41.3 113.3l-0.1 0.1M40.0 54.0l1.3 1.2M21.5 94.5l0.1 0.1M67.1 11.5l-0.3 1.9M71.5 55.4l1.2 0.1M11.7 77.6l1.3 0.6M42.3 45.0l-0.2 0.3M20.4 113.0l1.0 1.7M104.8 57.6l0.2 0.1M105.5 14.0l0.0 1.3M14.1 56.1l1.1 0.6M60.8 44.0l0.8 0.6M24.4 15.3l1.5 1.4M60.2 106.9l2.3 0.1M58.6 94.9l-0.4 1.6M27.5 90.0l0.6 0.3M3.7 47.2l-0.0 0.7M106.9 10.1l-0.1 0.5M71.4 94.1l-0.1 0.1M29.5 71.9l-0.1 0.0M74.2 83.0l-0.7 0.5M97.3 55.4l-0.0 0.0M112.8 49.4l0.1 0.2M29.4 88.1l-0.2 0.3M41.3 16.8l0.4 0.3M39.7 117.1l-1.9 0.0M57.6 59.7l-1.7 1.4M90.2 76.4l1.2 0.9M101.5 94.4l1.6 0.5M41.9 19.5l-1.6 0.2M89.5 16.2l-1.9 1.2M108.6 89.4l-1.7 1.0M70.8 52.2l-1.6 1.0M104.5 35.9l-1.3 0.2M113.5 13.9l-1.9 0.2M30.2 100.6l0.4 0.3M54.9 28.4l0.1 2.2M82.2 85.2l0.6 1.8M95.2 81.9l-1.9 0.4M48.7 10.5l-0.9 1.8M40.8 71.4l-1.7 0.9M0.5 58.7l0.3 0.0M97.5 50.2l-0.4 1.0M40.3 25.6l0.9 1.8M74.3 35.1l0.6 0.2M84.1 53.0l-0.9 1.7M14.5 82.0l2.0 0.3M22.1 32.6l-0.9 0.1M26.9 106.8l-0.7 2.0M47.3 60.0l-1.2 0.2M118.6 22.7l-0.3 0.2M63.3 0.0l1.9 1.2M54.5 97.1l0.6 0.6M12.1 66.3l-1.1 0.5M45.2 111.4l-1.5 0.5M9.1 74.9l0.4 2.3M43.4 79.3l-0.4 0.8M62.7 81.2l-1.1 0.3M43.6 117.1l2.0 0.4M82.0 66.9l0.3 1.8M106.9 87.5l-0.1 0.1M39.0 16.4l-2.1 0.3M17.3 70.5l-0.0 0.1M47.1 89.7l-0.3 0.6M91.5 34.9l-0.1 1.0M117.4 77.9l-1.3 0.9M45.7 115.6l-1.0 1.3M33.3 19.4l-0.5 1.9M95.2 41.7l1.1 0.5M105.3 19.5l-0.3 0.3M37.4 6.4l0.5 0.7M116.0 115.5l0.6 0.4M113.2 23.7l0.6 0.9M13.0 31.2l0.3 0.9M115.6 32.0l1.7 1.3M54.0 100.5l-0.8 1.7M37.8 18.2l-0.8 0.8M67.0 80.5l-0.5 0.5M43.5 110.1l-0.1 0.7M75.6 31.2l-0.1 0.1M99.2 68.0l1.0 2.0M31.9 29.2l1.3 0.3M90.4 81.4l0.5 1.9M13.4 36.8l-1.0 2.1M76.1 83.0l-0.7 0.6M112.8 89.1l0.4 0.8M96.7 42.0l1.7 1.2M63.8 62.5l-1.1 1.9M16.0 40.6l1.0 0.2M60.3 102.2l-0.7 1.2M48.4 68.8l1.3 1.5M94.6 100.6l1.4 0.7M90.5 60.1l-2.0 0.7M89.2 98.5l-1.0 1.9M15.8 84.5l-0.9 1.2M33.0 8.1l-0.6 1.9M32.8 25.6l0.2 0.1M81.1 117.0l-0.7 0.5M83.9 8.7l-0.7 0.4M0.4 75.5l0.6 0.3M7.1 53.5l-0.3 1.9M4.8 99.3l0.5 0.2M75.5 40.8l0.7 1.2M26.1 95.2l1.6 1.2M97.0 64.4l1.9 0.2M3.4 60.6l0.0 0.1M75.6 86.9l-0.3 0.9M61.5 70.7l1.6 1.4M119.5 96.5l-0.8 0.1M118.4 8.6l0.0 0.3M54.5 81.9l-0.7 0.9M41.0 22.8l0.2 0.6M23.3 88.3l-0.1 1.1M23.7 84.4l0.5 0.4M67.2 84.1l-1.8 0.2M113.8 110.4l-1.1 1.3M7.5 24.7l2.1 0.1M86.6 75.6l0.6 0.6M19.6 75.9l-0.7 0.0M5.3 21.0l0.9 1.9M96.5 54.6l0.2 0.1M18.5 93.3l0.2 2.4M109.4 95.4l0.1 2.0M15.4 13.1l-0.2 1.2M25.1 30.2l2.2 0.1M85.2 113.4l-1.0 0.1M87.9 46.1l-1.7 1.1M16.1 1.5l1.1 0.9M45.5 1.1l-1.6 1.0M55.6 5.2l-1.2 0.4M8.5 38.8l-0.8 2.0M58.1 76.7l0.5 0.4M108.7 45.9l1.3 0.5M15.1 24.0l0.2 1.4M76.4 84.8l0.0 0.2M86.9 6.5l0.1 1.0M80.7 85.6l1.1 1.1M83.0 56.6l2.0 0.9M71.9 7.5l1.7 1.6M27.4 47.1l-1.6 1.2M76.1 89.0l0.2 0.0M117.1 96.3l0.1 0.0M28.9 111.7l1.2 1.0M111.6 76.6l-0.6 0.2M18.4 2.2l-0.2 0.2M116.8 85.2l1.6 1.1M19.5 61.5l1.8 0.6M106.8 110.0l2.0 0.0M66.7 98.6l-0.0 1.5M71.3 95.9l0.1 0.0M65.5 34.9l0.0 0.0" stroke="#b6b6b6" stroke-width="2.1" stroke-linecap="round" fill="none"/></pattern>
<pattern id="hw" width="13.70" height="13.70" patternUnits="userSpaceOnUse"><path d="M0.30 2.20h6.25M0.30 4.60h6.25M9.05 0.30v6.25M11.45 0.30v6.25M2.20 7.15v6.25M4.60 7.15v6.25M7.15 9.05h6.25M7.15 11.45h6.25" stroke="#fff" stroke-opacity="0.55" stroke-width="1" fill="none"/></pattern>
<g id="tr"><path d="M-8.4 15Q-6 6-1.5-1Q-8-8-21-9M-1.5-1Q6-6 12-15.5" stroke="#e9ae74" stroke-width="3.2" fill="none" stroke-linecap="round"/><g fill="#4cf64c" stroke="#0acc0a" stroke-width="1.1"><circle cx="-22.8" cy="-33.2" r="2.15"/><circle cx="-15.9" cy="-30.1" r="2.15"/><circle cx="-26.1" cy="-26.6" r="2.15"/><circle cx="-11.8" cy="-32.3" r="2.15"/><circle cx="-14.3" cy="-15.7" r="2.15"/><circle cx="-24.7" cy="-15.3" r="2.15"/><circle cx="-13.5" cy="-36.6" r="2.15"/><circle cx="-32.9" cy="-3.1" r="2.15"/><circle cx="-30.3" cy="-26.7" r="2.15"/><circle cx="-12.2" cy="-27.6" r="2.15"/><circle cx="-30.4" cy="-22.6" r="2.15"/><circle cx="-27.5" cy="-9.4" r="2.15"/><circle cx="-10.6" cy="-18.2" r="2.15"/><circle cx="-35.6" cy="-7.4" r="2.15"/><circle cx="-20.2" cy="-13.8" r="2.15"/><circle cx="-29.0" cy="-4.4" r="2.15"/><circle cx="-35.3" cy="-19.6" r="2.15"/><circle cx="-14.4" cy="-21.4" r="2.15"/><circle cx="-5.7" cy="-25.1" r="2.15"/><circle cx="-6.6" cy="-31.9" r="2.15"/><circle cx="-26.3" cy="-20.5" r="2.15"/><circle cx="-5.9" cy="-20.8" r="2.15"/><circle cx="-32.0" cy="-13.4" r="2.15"/><circle cx="-24.6" cy="-5.1" r="2.15"/><circle cx="-37.5" cy="-4.1" r="2.15"/><circle cx="-14.9" cy="-11.7" r="2.15"/><circle cx="-32.3" cy="-9.6" r="2.15"/><circle cx="-22.1" cy="-28.2" r="2.15"/><circle cx="-18.3" cy="-33.7" r="2.15"/><circle cx="-20.5" cy="-24.4" r="2.15"/><circle cx="-27.0" cy="-30.8" r="2.15"/><circle cx="-23.7" cy="-11.4" r="2.15"/><circle cx="-10.6" cy="-12.8" r="2.15"/><circle cx="-34.1" cy="-24.3" r="2.15"/><circle cx="-17.1" cy="-26.1" r="2.15"/><circle cx="-19.3" cy="-9.7" r="2.15"/><circle cx="-36.2" cy="-13.9" r="2.15"/><circle cx="-11.4" cy="-24.0" r="2.15"/><circle cx="-30.5" cy="-17.2" r="2.15"/><circle cx="-8.2" cy="-28.3" r="2.15"/><circle cx="-38.2" cy="-10.7" r="2.15"/><circle cx="-28.0" cy="-13.2" r="2.15"/><circle cx="-22.6" cy="-18.4" r="2.15"/><circle cx="-3.7" cy="-29.2" r="2.15"/><circle cx="22.4" cy="-24.4" r="2.15"/><circle cx="33.8" cy="7.7" r="2.15"/><circle cx="18.3" cy="9.5" r="2.15"/><circle cx="27.2" cy="3.5" r="2.15"/><circle cx="14.4" cy="-31.7" r="2.15"/><circle cx="19.3" cy="5.1" r="2.15"/><circle cx="14.7" cy="0.1" r="2.15"/><circle cx="30.9" cy="1.6" r="2.15"/><circle cx="29.6" cy="-8.2" r="2.15"/><circle cx="4.4" cy="-24.5" r="2.15"/><circle cx="24.6" cy="-27.7" r="2.15"/><circle cx="35.8" cy="-11.3" r="2.15"/><circle cx="11.9" cy="-28.6" r="2.15"/><circle cx="10.1" cy="-17.8" r="2.15"/><circle cx="27.2" cy="10.2" r="2.15"/><circle cx="24.7" cy="-17.1" r="2.15"/><circle cx="32.1" cy="-15.9" r="2.15"/><circle cx="17.9" cy="-24.4" r="2.15"/><circle cx="32.8" cy="-4.6" r="2.15"/><circle cx="18.8" cy="-34.4" r="2.15"/><circle cx="18.7" cy="-3.5" r="2.15"/><circle cx="17.3" cy="-8.6" r="2.15"/><circle cx="11.9" cy="-22.8" r="2.15"/><circle cx="12.5" cy="-11.8" r="2.15"/><circle cx="19.7" cy="-30.2" r="2.15"/><circle cx="28.4" cy="-17.8" r="2.15"/><circle cx="7.5" cy="-20.8" r="2.15"/><circle cx="26.3" cy="-11.5" r="2.15"/><circle cx="36.8" cy="-6.8" r="2.15"/><circle cx="18.6" cy="-19.5" r="2.15"/><circle cx="8.9" cy="-35.2" r="2.15"/><circle cx="21.6" cy="-12.4" r="2.15"/><circle cx="2.8" cy="-35.3" r="2.15"/><circle cx="36.3" cy="-1.4" r="2.15"/><circle cx="26.6" cy="-3.5" r="2.15"/><circle cx="35.8" cy="3.3" r="2.15"/><circle cx="16.4" cy="-13.1" r="2.15"/><circle cx="27.5" cy="-21.6" r="2.15"/><circle cx="7.5" cy="-26.8" r="2.15"/><circle cx="14.5" cy="-3.8" r="2.15"/><circle cx="22.8" cy="8.9" r="2.15"/><circle cx="19.7" cy="0.9" r="2.15"/><circle cx="22.0" cy="-7.1" r="2.15"/><circle cx="15.9" cy="-27.7" r="2.15"/><circle cx="3.3" cy="-31.0" r="2.15"/><circle cx="23.5" cy="4.1" r="2.15"/><circle cx="31.8" cy="-21.3" r="2.15"/><circle cx="23.5" cy="-32.3" r="2.15"/><circle cx="7.4" cy="-31.7" r="2.15"/><circle cx="15.0" cy="4.3" r="2.15"/><circle cx="29.9" cy="6.7" r="2.15"/><circle cx="29.7" cy="-24.6" r="2.15"/><circle cx="31.2" cy="-11.8" r="2.15"/><circle cx="14.6" cy="-17.3" r="2.15"/><circle cx="30.9" cy="11.4" r="2.15"/><circle cx="14.0" cy="-35.5" r="2.15"/><circle cx="19.6" cy="-15.9" r="2.15"/><circle cx="-0.9" cy="-37.2" r="2.15"/><circle cx="-23.7" cy="26.2" r="2.15"/><circle cx="-21.6" cy="14.3" r="2.15"/><circle cx="10.9" cy="29.7" r="2.15"/><circle cx="-16.8" cy="12.3" r="2.15"/><circle cx="-9.4" cy="36.4" r="2.15"/><circle cx="0.9" cy="27.5" r="2.15"/><circle cx="-15.3" cy="22.8" r="2.15"/><circle cx="5.9" cy="21.0" r="2.15"/><circle cx="-24.5" cy="9.4" r="2.15"/><circle cx="-19.5" cy="30.3" r="2.15"/><circle cx="12.3" cy="26.0" r="2.15"/><circle cx="-10.0" cy="31.4" r="2.15"/><circle cx="2.3" cy="32.0" r="2.15"/><circle cx="-35.2" cy="15.2" r="2.15"/><circle cx="-14.0" cy="18.3" r="2.15"/><circle cx="6.6" cy="30.7" r="2.15"/><circle cx="-26.2" cy="13.8" r="2.15"/><circle cx="-31.5" cy="10.3" r="2.15"/><circle cx="-6.1" cy="31.2" r="2.15"/><circle cx="-26.6" cy="19.9" r="2.15"/><circle cx="-30.6" cy="22.0" r="2.15"/><circle cx="16.3" cy="27.6" r="2.15"/><circle cx="-7.3" cy="26.3" r="2.15"/><circle cx="-36.2" cy="7.2" r="2.15"/><circle cx="-17.5" cy="7.2" r="2.15"/><circle cx="-11.5" cy="26.6" r="2.15"/><circle cx="15.6" cy="33.2" r="2.15"/><circle cx="-1.2" cy="34.0" r="2.15"/><circle cx="-1.2" cy="19.7" r="2.15"/><circle cx="12.6" cy="35.6" r="2.15"/><circle cx="-10.3" cy="13.9" r="2.15"/><circle cx="-17.5" cy="33.8" r="2.15"/><circle cx="-31.2" cy="15.6" r="2.15"/><circle cx="-23.9" cy="5.4" r="2.15"/><circle cx="-18.8" cy="17.0" r="2.15"/><circle cx="1.2" cy="23.5" r="2.15"/><circle cx="-22.5" cy="21.8" r="2.15"/><circle cx="-28.0" cy="25.8" r="2.15"/><circle cx="-8.2" cy="17.1" r="2.15"/><circle cx="-22.9" cy="17.8" r="2.15"/><circle cx="-15.1" cy="29.0" r="2.15"/><circle cx="5.1" cy="25.8" r="2.15"/><circle cx="-3.1" cy="24.3" r="2.15"/><circle cx="-20.7" cy="9.5" r="2.15"/><circle cx="-3.5" cy="28.1" r="2.15"/><circle cx="-10.3" cy="22.9" r="2.15"/><circle cx="13.5" cy="22.0" r="2.15"/><circle cx="-5.3" cy="20.0" r="2.15"/><circle cx="-23.8" cy="30.6" r="2.15"/><circle cx="-19.9" cy="25.4" r="2.15"/><circle cx="-13.6" cy="34.1" r="2.15"/><circle cx="-35.4" cy="10.9" r="2.15"/><circle cx="-13.4" cy="10.2" r="2.15"/><circle cx="-33.7" cy="19.6" r="2.15"/><circle cx="9.4" cy="33.2" r="2.15"/><circle cx="-28.9" cy="7.4" r="2.15"/><circle cx="-4.8" cy="35.6" r="2.15"/><circle cx="9.4" cy="22.8" r="2.15"/><circle cx="-37.0" cy="3.5" r="2.15"/></g></g>
<g id="pl"><path d="M8 0Q6-12-4.5-13M8 0Q16-8 13.5-20M8 0Q0 6-16.5 0M8 0Q20 8 10 22M8 0Q8 14-7 19M8 0Q7-8 5-15" stroke="#808080" stroke-width="1.5" fill="none"/><g fill="#2f9e1d"><ellipse cx="-12.3" cy="-12.0" rx="4.2" ry="2" transform="rotate(200 -12.3 -12.0)"/><ellipse cx="-5.0" cy="-17.5" rx="4.2" ry="2" transform="rotate(230 -5.0 -17.5)"/><ellipse cx="5.0" cy="-15.5" rx="4.2" ry="2" transform="rotate(250 5.0 -15.5)"/><ellipse cx="7.5" cy="-24.0" rx="4.2" ry="2" transform="rotate(240 7.5 -24.0)"/><ellipse cx="12.0" cy="-15.0" rx="4.2" ry="2" transform="rotate(280 12.0 -15.0)"/><ellipse cx="-15.7" cy="-1.0" rx="4.2" ry="2" transform="rotate(190 -15.7 -1.0)"/><ellipse cx="-9.7" cy="6.0" rx="4.2" ry="2" transform="rotate(160 -9.7 6.0)"/><ellipse cx="5.0" cy="8.0" rx="4.2" ry="2" transform="rotate(120 5.0 8.0)"/><ellipse cx="-3.7" cy="19.8" rx="4.2" ry="2" transform="rotate(150 -3.7 19.8)"/><ellipse cx="12.0" cy="13.5" rx="4.2" ry="2" transform="rotate(100 12.0 13.5)"/><ellipse cx="9.3" cy="22.0" rx="4.2" ry="2" transform="rotate(140 9.3 22.0)"/><ellipse cx="3.2" cy="19.0" rx="4.2" ry="2" transform="rotate(160 3.2 19.0)"/><ellipse cx="-9.0" cy="-14.0" rx="4.2" ry="2" transform="rotate(215 -9.0 -14.0)"/><ellipse cx="-12.0" cy="3.0" rx="4.2" ry="2" transform="rotate(175 -12.0 3.0)"/></g></g>
</defs>
<rect width="2481" height="3509" fill="#fff"/>
<path d="M86 0V3506.5H2394.5V0M86 2.5H2394.5" stroke="#000" stroke-width="3.4" fill="none"/>
<path fill="url(#rd)" d="M130 400L1220 62L1252 160L1217 175L1282 174L1260 187L1275 235L1147.5 274L652.8 427.4L570.5 455.3L424.7 497L181 575.5L163.8 528L108.3 544.7L218 467.6L155.2 486ZM570.6 452.3L651.5 424.8L651.5 2165L570.6 2146ZM650.5 827.5L1227.7 827.5L1239.5 908.5L650.5 908.5ZM650.5 1291.5L1219.9 1291.5L1212 1374L650.5 1374ZM650.5 1707.5L1179.7 1707.5L1171.8 1789L650.5 1789ZM570.6 2081.5L1105.8 2081.5L1084.8 2164.7L682 2164.7L652.6 2163L570.6 2146ZM946 2160L1027 2160L1027.8 2463.5L1023 2463L1023 2487.8L1238.8 2513.4L1117 3306L1031 3292L1152.2 2585L1009.5 2568.8L617 2485.6L636 2403L799 2439.5L946 2440ZM357.5 3170L1412.5 3341.5L1411 3365L1367.5 3367.5L1439 3389L1404 3397.5L1400 3420L345 3250L352.5 3220L315 3205L390 3206L356 3187.5Z"/>
<polygon points="423.7,632.5 423.7,512.5 570.6,470.3 570.6,632.5" fill="#f5a17f"/>
<polygon points="423.7,512.5 423.7,497.3 570.6,455.3 570.6,470.3" fill="#7fd0f7"/>
<polygon points="423.7,632.5 570.6,632.5 570.6,1088.8 423.7,1088.8" fill="#dd7ff4"/>
<polygon points="423.7,1088.8 570.6,1088.8 570.6,1479.8 423.7,1479.8" fill="#20d6a0"/>
<polygon points="423.7,1479.8 570.6,1479.8 570.6,2146 423.7,2097.5" fill="#c1f680"/>
<polygon points="651.5,632.5 651.5,441.8 1149.5,288 1199.5,632.5" fill="#f5a17f"/>
<polygon points="651.5,441.8 651.5,427.8 1147.5,274 1149.5,288" fill="#7fd0f7"/>
<polygon points="651.5,632.5 1199.5,632.5 1227.7,827.5 651.5,827.5" fill="#dd7ff4"/>
<polygon points="651.5,908.5 1239.5,908.5 1250,981 1238.1,1104 651.5,1104" fill="#dd7ff4"/>
<polygon points="651.5,1104 1238.1,1104 1219.9,1291.5 651.5,1291.5" fill="#20d6a0"/>
<polygon points="651.5,1374 1212,1374 1194,1560 651.5,1560" fill="#20d6a0"/>
<polygon points="651.5,1560 1194,1560 1179.7,1707.5 651.5,1707.5" fill="#c1f680"/>
<polygon points="651.5,1789 1171.8,1789 1167,1838.5 1105.8,2081.5 651.5,2081.5" fill="#c1f680"/>
<polygon points="1027,2164.7 1084.8,2164.7 1027.8,2463.5" fill="#ff8000"/>
<polygon points="682,2164.7 946,2164.7 946,2440 799,2439.5 636,2403" fill="#7cd4f7"/>
<polygon points="617,2485.6 1009.8,2569.4 983.6,2721.9 590.8,2641.8" fill="#7cd4f7"/>
<polygon points="1009.3,2568.3 1152.2,2585 1033.2,3279.6 876.9,3253 887,3192.8 902,3194.6" fill="#7cd4f7"/>
<polygon points="1238.8,2513.4 1383,2530 1258.7,3316.6 1119,3294" fill="#7cd4f7"/>
<path fill="url(#hw)" d="M423.7 632.5L423.7 512.5L570.6 470.3L570.6 632.5ZM423.7 632.5L570.6 632.5L570.6 1088.8L423.7 1088.8ZM423.7 1088.8L570.6 1088.8L570.6 1479.8L423.7 1479.8ZM423.7 1479.8L570.6 1479.8L570.6 2146L423.7 2097.5ZM651.5 632.5L651.5 441.8L1149.5 288L1199.5 632.5ZM651.5 632.5L1199.5 632.5L1227.7 827.5L651.5 827.5ZM651.5 908.5L1239.5 908.5L1250 981L1238.1 1104L651.5 1104ZM651.5 1104L1238.1 1104L1219.9 1291.5L651.5 1291.5ZM651.5 1374L1212 1374L1194 1560L651.5 1560ZM651.5 1560L1194 1560L1179.7 1707.5L651.5 1707.5ZM651.5 1789L1171.8 1789L1167 1838.5L1105.8 2081.5L651.5 2081.5ZM682 2164.7L946 2164.7L946 2440L799 2439.5L636 2403ZM617 2485.6L1009.8 2569.4L983.6 2721.9L590.8 2641.8ZM1009.3 2568.3L1152.2 2585L1033.2 3279.6L876.9 3253L887 3192.8L902 3194.6ZM1238.8 2513.4L1383 2530L1258.7 3316.6L1119 3294Z"/>
<path class="d" d="M423.7 632.5L423.7 512.5L570.6 470.3L570.6 632.5L423.7 632.5M423.7 512.5L423.7 497.3L570.6 455.3L570.6 470.3L423.7 512.5M423.7 632.5L570.6 632.5L570.6 1088.8L423.7 1088.8L423.7 632.5M423.7 1088.8L570.6 1088.8L570.6 1479.8L423.7 1479.8L423.7 1088.8M423.7 1479.8L570.6 1479.8L570.6 2146L423.7 2097.5L423.7 1479.8M651.5 632.5L651.5 441.8L1149.5 288L1199.5 632.5L651.5 632.5M651.5 441.8L651.5 427.8L1147.5 274L1149.5 288L651.5 441.8M651.5 632.5L1199.5 632.5L1227.7 827.5L651.5 827.5L651.5 632.5M651.5 908.5L1239.5 908.5L1250 981L1238.1 1104L651.5 1104L651.5 908.5M651.5 1104L1238.1 1104L1219.9 1291.5L651.5 1291.5L651.5 1104M651.5 1374L1212 1374L1194 1560L651.5 1560L651.5 1374M651.5 1560L1194 1560L1179.7 1707.5L651.5 1707.5L651.5 1560M651.5 1789L1171.8 1789L1167 1838.5L1105.8 2081.5L651.5 2081.5L651.5 1789M682 2164.7L946 2164.7L946 2440L799 2439.5L636 2403L682 2164.7M617 2485.6L1009.8 2569.4L983.6 2721.9L590.8 2641.8L617 2485.6M1009.3 2568.3L1152.2 2585L1033.2 3279.6L876.9 3253L887 3192.8L902 3194.6L1009.3 2568.3M1238.8 2513.4L1383 2530L1258.7 3316.6L1119 3294L1238.8 2513.4M696.9 2502.6L670.9 2658.1M777.1 2519.7L750.7 2674.4M857.2 2536.9L830.6 2690.7M937.4 2554L910.4 2707"/>
<path class="t" d="M103.4 326L155.2 486L218 467.6L108.3 544.7L163.8 528L191 612.5M1211 35L1252 160L1217 175L1282 174L1260 187L1291 285M130 400L1220 62M181 575.5L424.7 497L570.6 455.3M651.5 427.8L1147.5 274L1275 235M366 3127.5L356 3187.5L390 3206L315 3205L352.5 3220L335 3269M1419 3304L1411 3365L1367.5 3367.5L1439 3389L1404 3397.5L1395 3452.5M357.5 3170L876.9 3253M1258.7 3316.6L1412.5 3341.5M345 3250L1400 3420M423.7 512.5L570.6 470.3M423.7 497.3L570.6 455.3M651.5 441.8L1149.5 288M651.5 427.8L1147.5 274M420 482.5L740 384M824 358L1142.5 260M1169 272.5L1213.4 581M1225.4 664.2L1271 981M1271 981L1233.2 1370.6M1225.1 1454.2L1187.5 1842M1187.5 1842L1155 1968.7M1134.1 2050.1L1101.5 2177M1101.5 2177L1080.2 2294.4M1065.3 2377.1L1044.8 2490M400 495L400 1268M400 1338L400 2110M423.3 2097L423.3 3182M417 2143L513.8 2165.1M576.1 2179.3L674 2201.7M653.5 2158.5L617.4 2347.7M599.4 2442L562.8 2633.6M586 2662L760.1 2698.2M803.2 2707.2L977.5 2743.5M963.6 2718.8L930.1 2912.9M915.5 2997.7L882.5 3188.8M1411.3 2535.5L1356.3 2885.2M1343 2970.1L1288 3320M874 3266.7L1033.6 3292.9M1098.8 3303.6L1257 3329.5M1023 2460L1161.7 2475.9M1251.1 2486.1L1386.7 2501.7M1023 2460L1023 2487.8L1044.8 2490M1023 2487.8L1238.8 2513.4M882.5 3188.8L887 3192.8M887 3192.8L876.9 3253"/>
<path class="k" d="M423.7 497.3L423.7 2097.5M570.6 455.3L570.6 2146M440 632.5L440 2100M423.7 632.5L570.6 632.5M423.7 697.7L570.6 697.7M423.7 762.9L570.6 762.9M423.7 828L570.6 828M423.7 893.2L570.6 893.2M423.7 958.4L570.6 958.4M423.7 1023.6L570.6 1023.6M423.7 1088.8L570.6 1088.8M423.7 1153.9L570.6 1153.9M423.7 1219.1L570.6 1219.1M423.7 1284.3L570.6 1284.3M423.7 1349.5L570.6 1349.5M423.7 1414.7L570.6 1414.7M423.7 1479.8L570.6 1479.8M423.7 1545L570.6 1545M423.7 1610.2L570.6 1610.2M423.7 1675.4L570.6 1675.4M423.7 1740.6L570.6 1740.6M423.7 1805.7L570.6 1805.7M423.7 1870.9L570.6 1870.9M423.7 1936.1L570.6 1936.1M423.7 2001.3L570.6 2001.3M423.7 2066.5L570.6 2066.5M423.7 2097.5L570.6 2146M651.5 427.8L651.5 632.5M651.5 632.5L1199.5 632.5M847.5 381L847.5 632.5M1004 332.5L1004 632.5M651.5 632.5L1199.5 632.5M651.5 827.5L1227.7 827.5M651.5 632.5L651.5 827.5M750 632.5L750 827.5M847.5 632.5L847.5 827.5M945 632.5L945 827.5M1042.5 632.5L1042.5 827.5M1140 632.5L1140 827.5M651.5 908.5L1239.5 908.5M651.5 1104L1238.1 1104M651.5 908.5L651.5 1104M750 908.5L750 1104M847.5 908.5L847.5 1104M945 908.5L945 1104M1042.5 908.5L1042.5 1104M1140 908.5L1140 1104M651.5 1104L1238.1 1104M651.5 1291.5L1219.9 1291.5M651.5 1104L651.5 1291.5M756 1104L756 1291.5M834 1104L834 1291.5M912.5 1104L912.5 1291.5M991 1104L991 1291.5M1069 1104L1069 1291.5M1147.5 1104L1147.5 1291.5M651.5 1374L1212 1374M651.5 1560L1194 1560M651.5 1374L651.5 1560M756 1374L756 1560M834 1374L834 1560M912.5 1374L912.5 1560M991 1374L991 1560M1069 1374L1069 1560M651.5 1560L1194 1560M651.5 1707.5L1179.7 1707.5M651.5 1560L651.5 1707.5M782.5 1560L782.5 1707.5M847.5 1560L847.5 1707.5M912.5 1560L912.5 1707.5M977.5 1560L977.5 1707.5M1042.5 1560L1042.5 1707.5M1107.5 1560L1107.5 1707.5M651.5 1789L1171.8 1789M651.5 1936L1142.4 1936M651.5 1789L651.5 1936M782.5 1789L782.5 1936M847.5 1789L847.5 1936M912.5 1789L912.5 1936M977.5 1789L977.5 1936M1042.5 1789L1042.5 1936M1107.5 1789L1107.5 1936M651.5 1936L1142.4 1936M651.5 2081.5L1105.8 2081.5M651.5 1936L651.5 2081.5M782.5 1936L782.5 2081.5M847.5 1936L847.5 2081.5M912.5 1936L912.5 2081.5M977.5 1936L977.5 2081.5M1042.5 1936L1042.5 2081.5M682 2164.7L946 2164.7L946 2440L799 2439.5L636 2403L682 2164.7M657 2294.7L946 2294.7M799 2164.7L799 2440M617 2485.6L1009.8 2569.4L983.6 2721.9L590.8 2641.8L617 2485.6M1009.3 2568.3L1152.2 2585L1033.2 3279.6L876.9 3253L887 3192.8L902 3194.6L1009.3 2568.3M978.7 2743.8L1120.7 2761.5M978.7 2743.8L1120.7 2761.5M967.7 2808.2L1109.5 2825.7M956.8 2872.6L1098.4 2890M945.8 2937L1087.2 2954.2M934.9 3001.4L1076 3018.5M923.9 3065.8L1064.9 3082.7M912.9 3130.2L1053.7 3146.9M902 3194.6L1042.5 3211.2M1238.8 2513.4L1383 2530L1258.7 3316.6L1119 3294L1238.8 2513.4M1231 2577L1371.2 2593.5M1220.8 2641.5L1361.1 2658.4M1210.7 2706.1L1350.9 2723.3M1200.5 2770.6L1340.8 2788.3M1190.4 2835.1L1330.6 2853.2M1180.2 2899.7L1320.5 2918.1M1170 2964.2L1310.4 2983M1159.9 3028.7L1300.2 3047.9M1149.7 3093.2L1290.1 3112.9M1139.6 3157.8L1279.9 3177.8M1129.4 3222.3L1269.8 3242.7M1027 2164.7L1084.8 2164.7L1027.8 2463.5L1027 2164.7M1030.5 2164.7L1030.5 2463"/>
<path class="b" d="M560.5 455L560.5 2143M433.5 505L433.5 632.5M420.7 640.5L573.6 640.5M420.7 705.7L573.6 705.7M420.7 770.9L573.6 770.9M420.7 836L573.6 836M420.7 901.2L573.6 901.2M420.7 966.4L573.6 966.4M420.7 1031.6L573.6 1031.6M420.7 1096.8L573.6 1096.8M420.7 1161.9L573.6 1161.9M420.7 1227.1L573.6 1227.1M420.7 1292.3L573.6 1292.3M420.7 1357.5L573.6 1357.5M420.7 1422.7L573.6 1422.7M420.7 1487.8L573.6 1487.8M420.7 1553L573.6 1553M420.7 1618.2L573.6 1618.2M420.7 1683.4L573.6 1683.4M420.7 1748.6L573.6 1748.6M420.7 1813.7L573.6 1813.7M420.7 1878.9L573.6 1878.9M420.7 1944.1L573.6 1944.1M420.7 2009.3L573.6 2009.3M420.7 2074.5L573.6 2074.5M428 2104L565 2141M431 2066L431 2108M423.7 505L573.6 461.8M651.5 435.8L1149 281M660.5 425.8L660.5 632.5M837.5 370.1L837.5 632.5M995 321.3L995 632.5M1140 275L1190 632M651.5 623L1198.1 623M660.5 630.5L660.5 829.5M759 630.5L759 829.5M856.5 630.5L856.5 829.5M954 630.5L954 829.5M1051.5 630.5L1051.5 829.5M1149 630.5L1149 829.5M648.5 819L1229.5 819M1140 640.5L1202 640.5M1190 640L1220 828M1218 815L1233 925M660.5 906.5L660.5 1106M759 906.5L759 1106M856.5 906.5L856.5 1106M954 906.5L954 1106M1051.5 906.5L1051.5 1106M1149 906.5L1149 1106M648.5 917L1243.7 917M1231 917L1243 983L1232 1104M660.5 1102L660.5 1293.5M765 1102L765 1293.5M843 1102L843 1293.5M921.5 1102L921.5 1293.5M1000 1102L1000 1293.5M1078 1102L1078 1293.5M1156.5 1102L1156.5 1293.5M648.5 1112.5L1240.3 1112.5M648.5 1283L1223.8 1283M1232 1104L1213 1293M660.5 1372L660.5 1562M765 1372L765 1562M843 1372L843 1562M921.5 1372L921.5 1562M1000 1372L1000 1562M1078 1372L1078 1562M648.5 1382.5L1214.1 1382.5M1205 1374L1186 1562M660.5 1558L660.5 1709.5M791.5 1558L791.5 1709.5M856.5 1558L856.5 1709.5M921.5 1558L921.5 1709.5M986.5 1558L986.5 1709.5M1051.5 1558L1051.5 1709.5M1116.5 1558L1116.5 1709.5M648.5 1568.5L1196.1 1568.5M648.5 1699L1183.5 1699M1186 1560L1172 1709M1172 1709L1163 1800M660.5 1787L660.5 1938M791.5 1787L791.5 1938M856.5 1787L856.5 1938M921.5 1787L921.5 1938M986.5 1787L986.5 1938M1051.5 1787L1051.5 1938M1116.5 1787L1116.5 1938M648.5 1797.5L1174 1797.5M1163 1797L1158 1840L1133 1940M660.5 1934L660.5 2083.5M791.5 1934L791.5 2083.5M856.5 1934L856.5 2083.5M921.5 1934L921.5 2083.5M986.5 1934L986.5 2083.5M1051.5 1934L1051.5 2083.5M648.5 2073L1110.9 2073M1042.5 1944.5L1142 1944.5M1133 1940L1095 2085M1095 2085L1072 2172M676 2174L949 2174M686 2160L641 2410M652 2286.4L799 2286.4M808 2294L808 2442M937.5 2162L937.5 2442M799 2432L949 2432M634 2396L803 2434M705.6 2499.3L678 2664.1M785.7 2516.5L757.8 2680.4M865.9 2533.6L837.6 2696.7M946.1 2550.8L917.5 2713M625.7 2482.2L597.9 2647.8M1002.7 2563.5L974.9 2725.1M611.6 2491.6L1012.3 2577.1M588.3 2634.1L988.9 2715.8M1004.2 2574.8L1155.7 2592.5M1019.2 2563.6L910.9 3196.1M1144.5 2576.5L1024.3 3278.1M975.4 2735.8L1125.9 2754.6M964.4 2800.2L1114.7 2818.8M953.4 2864.6L1103.5 2883.1M942.5 2929L1092.3 2947.3M931.5 2993.4L1081.2 3011.5M920.6 3057.8L1070 3075.8M909.6 3122.3L1058.8 3140M898.6 3186.7L1047.6 3204.2M878.1 3246.1L1034.4 3272.7M1233.7 2519.9L1386.5 2537.5M1126.7 3303.2L1248.9 2507M1375.4 2520.7L1248.6 3323.1M1225.9 2584L1374.5 2601.4M1215.7 2648.5L1364.4 2666.4M1205.6 2713L1354.2 2731.3M1195.4 2777.5L1344.1 2796.2M1185.2 2842L1333.9 2861.2M1175 2906.5L1323.7 2926.1M1164.8 2971L1313.6 2991M1154.7 3035.6L1303.4 3055.9M1144.5 3100.1L1293.3 3120.9M1134.3 3164.6L1283.1 3185.8M1124.1 3229.1L1272.9 3250.7M1120.1 3287.1L1259.8 3309.7M1033.5 2160L1033.5 2470M1027 2172.4L1087 2172.4M1078 2160L1021 2470M1068 2230L1030 2470"/>
<rect x="280.7" y="417.2" width="140" height="10.5" transform="rotate(-17.2 350.7 422.5)" fill="#fff" stroke="#000" stroke-width="1.8"/>
<rect x="602.5" y="309.8" width="140" height="10.5" transform="rotate(-17.2 672.5 315)" fill="#fff" stroke="#000" stroke-width="1.8"/>
<rect x="990.7" y="197.8" width="140" height="10.5" transform="rotate(-17.2 1060.7 203)" fill="#fff" stroke="#000" stroke-width="1.8"/>
<rect x="543" y="820.5" width="140" height="11" transform="rotate(90 613 826)" fill="#fff" stroke="#000" stroke-width="1.8"/>
<rect x="542.5" y="1160" width="141" height="11" transform="rotate(90 613 1165.5)" fill="#fff" stroke="#000" stroke-width="1.8"/>
<rect x="543" y="1539.5" width="140" height="11" transform="rotate(90 613 1545)" fill="#fff" stroke="#000" stroke-width="1.8"/>
<rect x="543.8" y="1820.2" width="138.5" height="11" transform="rotate(90 613 1825.8)" fill="#fff" stroke="#000" stroke-width="1.8"/>
<rect x="911.8" y="2505" width="66.5" height="8" transform="rotate(12.3 945 2509)" fill="#fff" stroke="#000" stroke-width="1.8"/>
<rect x="1150.3" y="2625" width="66" height="9" transform="rotate(98.5 1183.3 2629.5)" fill="#fff" stroke="#000" stroke-width="1.8"/>
<rect x="1092.3" y="2975.9" width="66" height="9" transform="rotate(98.5 1125.3 2980.4)" fill="#fff" stroke="#000" stroke-width="1.8"/>
<rect x="479.2" y="3233.2" width="85" height="9.5" transform="rotate(9.2 521.7 3238)" fill="#fff" stroke="#000" stroke-width="1.8"/>
<rect x="801.5" y="3289.2" width="85" height="9.5" transform="rotate(9.2 844 3294)" fill="#fff" stroke="#000" stroke-width="1.8"/>
<rect x="1031.2" y="3325.2" width="85" height="9.5" transform="rotate(9.2 1073.7 3330)" fill="#fff" stroke="#000" stroke-width="1.8"/>
<rect x="1249.5" y="3355.8" width="85" height="9.5" transform="rotate(9.2 1292 3360.5)" fill="#fff" stroke="#000" stroke-width="1.8"/>
<g transform="translate(494 668.5)"><rect x="-34.6" y="-15.3" width="69.1" height="30.5" fill="#fff"/><text transform="scale(0.890 1)" y="-3.2" font-size="11" text-anchor="middle">D19</text><text transform="scale(0.890 1)" y="11.3" font-size="11" text-anchor="middle">100.00SQ.YD.</text></g>
<g transform="translate(497.6 641)"><rect x="-10.4" y="-6.8" width="20.8" height="13.7" fill="#fff"/><text transform="scale(0.900 1)" y="5.8" font-size="16" fill="#1a3a9c" text-anchor="middle">45'</text></g>
<g transform="translate(560.3 665.5) rotate(-90)"><rect x="-10.4" y="-6.8" width="20.8" height="13.7" fill="#fff"/><text transform="scale(0.900 1)" y="5.8" font-size="16" fill="#1a3a9c" text-anchor="middle">20'</text></g>
<g transform="translate(494 733.7)"><rect x="-34.6" y="-15.3" width="69.1" height="30.5" fill="#fff"/><text transform="scale(0.890 1)" y="-3.2" font-size="11" text-anchor="middle">D18</text><text transform="scale(0.890 1)" y="11.3" font-size="11" text-anchor="middle">100.00SQ.YD.</text></g>
<g transform="translate(497.6 706.2)"><rect x="-10.4" y="-6.8" width="20.8" height="13.7" fill="#fff"/><text transform="scale(0.900 1)" y="5.8" font-size="16" fill="#1a3a9c" text-anchor="middle">45'</text></g>
<g transform="translate(560.3 730.7) rotate(-90)"><rect x="-10.4" y="-6.8" width="20.8" height="13.7" fill="#fff"/><text transform="scale(0.900 1)" y="5.8" font-size="16" fill="#1a3a9c" text-anchor="middle">20'</text></g>
<g transform="translate(494 798.9)"><rect x="-34.6" y="-15.3" width="69.1" height="30.5" fill="#fff"/><text transform="scale(0.890 1)" y="-3.2" font-size="11" text-anchor="middle">D17</text><text transform="scale(0.890 1)" y="11.3" font-size="11" text-anchor="middle">100.00SQ.YD.</text></g>
<g transform="translate(497.6 771.4)"><rect x="-10.4" y="-6.8" width="20.8" height="13.7" fill="#fff"/><text transform="scale(0.900 1)" y="5.8" font-size="16" fill="#1a3a9c" text-anchor="middle">45'</text></g>
<g transform="translate(560.3 795.9) rotate(-90)"><rect x="-10.4" y="-6.8" width="20.8" height="13.7" fill="#fff"/><text transform="scale(0.900 1)" y="5.8" font-size="16" fill="#1a3a9c" text-anchor="middle">20'</text></g>
<g transform="translate(494 864)"><rect x="-34.6" y="-15.3" width="69.1" height="30.5" fill="#fff"/><text transform="scale(0.890 1)" y="-3.2" font-size="11" text-anchor="middle">C04</text><text transform="scale(0.890 1)" y="11.3" font-size="11" text-anchor="middle">100.00SQ.YD.</text></g>
<g transform="translate(497.6 836.5)"><rect x="-10.4" y="-6.8" width="20.8" height="13.7" fill="#fff"/><text transform="scale(0.900 1)" y="5.8" font-size="16" fill="#1a3a9c" text-anchor="middle">45'</text></g>
<g transform="translate(560.3 861) rotate(-90)"><rect x="-10.4" y="-6.8" width="20.8" height="13.7" fill="#fff"/><text transform="scale(0.900 1)" y="5.8" font-size="16" fill="#1a3a9c" text-anchor="middle">20'</text></g>
<g transform="translate(494 929.2)"><rect x="-34.6" y="-15.3" width="69.1" height="30.5" fill="#fff"/><text transform="scale(0.890 1)" y="-3.2" font-size="11" text-anchor="middle">D03</text><text transform="scale(0.890 1)" y="11.3" font-size="11" text-anchor="middle">100.00SQ.YD.</text></g>
<g transform="translate(497.6 901.7)"><rect x="-10.4" y="-6.8" width="20.8" height="13.7" fill="#fff"/><text transform="scale(0.900 1)" y="5.8" font-size="16" fill="#1a3a9c" text-anchor="middle">45'</text></g>
<g transform="translate(560.3 926.2) rotate(-90)"><rect x="-10.4" y="-6.8" width="20.8" height="13.7" fill="#fff"/><text transform="scale(0.900 1)" y="5.8" font-size="16" fill="#1a3a9c" text-anchor="middle">20'</text></g>
<g transform="translate(494 994.4)"><rect x="-34.6" y="-15.3" width="69.1" height="30.5" fill="#fff"/><text transform="scale(0.890 1)" y="-3.2" font-size="11" text-anchor="middle">D02</text><text transform="scale(0.890 1)" y="11.3" font-size="11" text-anchor="middle">100.00SQ.YD.</text></g>
<g transform="translate(497.6 966.9)"><rect x="-10.4" y="-6.8" width="20.8" height="13.7" fill="#fff"/><text transform="scale(0.900 1)" y="5.8" font-size="16" fill="#1a3a9c" text-anchor="middle">45'</text></g>
<g transform="translate(560.3 991.4) rotate(-90)"><rect x="-10.4" y="-6.8" width="20.8" height="13.7" fill="#fff"/><text transform="scale(0.900 1)" y="5.8" font-size="16" fill="#1a3a9c" text-anchor="middle">20'</text></g>
<g transform="translate(494 1059.6)"><rect x="-34.6" y="-15.3" width="69.1" height="30.5" fill="#fff"/><text transform="scale(0.890 1)" y="-3.2" font-size="11" text-anchor="middle">D01</text><text transform="scale(0.890 1)" y="11.3" font-size="11" text-anchor="middle">100.00SQ.YD.</text></g>
<g transform="translate(497.6 1032.1)"><rect x="-10.4" y="-6.8" width="20.8" height="13.7" fill="#fff"/><text transform="scale(0.900 1)" y="5.8" font-size="16" fill="#1a3a9c" text-anchor="middle">45'</text></g>
<g transform="translate(560.3 1056.6) rotate(-90)"><rect x="-10.4" y="-6.8" width="20.8" height="13.7" fill="#fff"/><text transform="scale(0.900 1)" y="5.8" font-size="16" fill="#1a3a9c" text-anchor="middle">20'</text></g>
<g transform="translate(494 1124.8)"><rect x="-34.6" y="-15.3" width="69.1" height="30.5" fill="#fff"/><text transform="scale(0.890 1)" y="-3.2" font-size="11" text-anchor="middle">C19</text><text transform="scale(0.890 1)" y="11.3" font-size="11" text-anchor="middle">100.00SQ.YD.</text></g>
<g transform="translate(497.6 1097.3)"><rect x="-10.4" y="-6.8" width="20.8" height="13.7" fill="#fff"/><text transform="scale(0.900 1)" y="5.8" font-size="16" fill="#1a3a9c" text-anchor="middle">45'</text></g>
<g transform="translate(560.3 1121.8) rotate(-90)"><rect x="-10.4" y="-6.8" width="20.8" height="13.7" fill="#fff"/><text transform="scale(0.900 1)" y="5.8" font-size="16" fill="#1a3a9c" text-anchor="middle">20'</text></g>
<g transform="translate(494 1189.9)"><rect x="-34.6" y="-15.3" width="69.1" height="30.5" fill="#fff"/><text transform="scale(0.890 1)" y="-3.2" font-size="11" text-anchor="middle">C18</text><text transform="scale(0.890 1)" y="11.3" font-size="11" text-anchor="middle">100.00SQ.YD.</text></g>
<g transform="translate(497.6 1162.4)"><rect x="-10.4" y="-6.8" width="20.8" height="13.7" fill="#fff"/><text transform="scale(0.900 1)" y="5.8" font-size="16" fill="#1a3a9c" text-anchor="middle">45'</text></g>
<g transform="translate(560.3 1186.9) rotate(-90)"><rect x="-10.4" y="-6.8" width="20.8" height="13.7" fill="#fff"/><text transform="scale(0.900 1)" y="5.8" font-size="16" fill="#1a3a9c" text-anchor="middle">20'</text></g>
<g transform="translate(494 1255.1)"><rect x="-34.6" y="-15.3" width="69.1" height="30.5" fill="#fff"/><text transform="scale(0.890 1)" y="-3.2" font-size="11" text-anchor="middle">C17</text><text transform="scale(0.890 1)" y="11.3" font-size="11" text-anchor="middle">100.00SQ.YD.</text></g>
<g transform="translate(497.6 1227.6)"><rect x="-10.4" y="-6.8" width="20.8" height="13.7" fill="#fff"/><text transform="scale(0.900 1)" y="5.8" font-size="16" fill="#1a3a9c" text-anchor="middle">45'</text></g>
<g transform="translate(560.3 1252.1) rotate(-90)"><rect x="-10.4" y="-6.8" width="20.8" height="13.7" fill="#fff"/><text transform="scale(0.900 1)" y="5.8" font-size="16" fill="#1a3a9c" text-anchor="middle">20'</text></g>
<g transform="translate(494 1320.3)"><rect x="-34.6" y="-15.3" width="69.1" height="30.5" fill="#fff"/><text transform="scale(0.890 1)" y="-3.2" font-size="11" text-anchor="middle">C03</text><text transform="scale(0.890 1)" y="11.3" font-size="11" text-anchor="middle">100.00SQ.YD.</text></g>
<g transform="translate(497.6 1292.8)"><rect x="-10.4" y="-6.8" width="20.8" height="13.7" fill="#fff"/><text transform="scale(0.900 1)" y="5.8" font-size="16" fill="#1a3a9c" text-anchor="middle">45'</text></g>
<g transform="translate(560.3 1317.3) rotate(-90)"><rect x="-10.4" y="-6.8" width="20.8" height="13.7" fill="#fff"/><text transform="scale(0.900 1)" y="5.8" font-size="16" fill="#1a3a9c" text-anchor="middle">20'</text></g>
<g transform="translate(494 1385.5)"><rect x="-34.6" y="-15.3" width="69.1" height="30.5" fill="#fff"/><text transform="scale(0.890 1)" y="-3.2" font-size="11" text-anchor="middle">C02</text><text transform="scale(0.890 1)" y="11.3" font-size="11" text-anchor="middle">100.00SQ.YD.</text></g>
<g transform="translate(497.6 1358)"><rect x="-10.4" y="-6.8" width="20.8" height="13.7" fill="#fff"/><text transform="scale(0.900 1)" y="5.8" font-size="16" fill="#1a3a9c" text-anchor="middle">45'</text></g>
<g transform="translate(560.3 1382.5) rotate(-90)"><rect x="-10.4" y="-6.8" width="20.8" height="13.7" fill="#fff"/><text transform="scale(0.900 1)" y="5.8" font-size="16" fill="#1a3a9c" text-anchor="middle">20'</text></g>
<g transform="translate(494 1450.7)"><rect x="-34.6" y="-15.3" width="69.1" height="30.5" fill="#fff"/><text transform="scale(0.890 1)" y="-3.2" font-size="11" text-anchor="middle">C01</text><text transform="scale(0.890 1)" y="11.3" font-size="11" text-anchor="middle">100.00SQ.YD.</text></g>
<g transform="translate(497.6 1423.2)"><rect x="-10.4" y="-6.8" width="20.8" height="13.7" fill="#fff"/><text transform="scale(0.900 1)" y="5.8" font-size="16" fill="#1a3a9c" text-anchor="middle">45'</text></g>
<g transform="translate(560.3 1447.7) rotate(-90)"><rect x="-10.4" y="-6.8" width="20.8" height="13.7" fill="#fff"/><text transform="scale(0.900 1)" y="5.8" font-size="16" fill="#1a3a9c" text-anchor="middle">20'</text></g>
<g transform="translate(494 1515.8)"><rect x="-34.6" y="-15.3" width="69.1" height="30.5" fill="#fff"/><text transform="scale(0.890 1)" y="-3.2" font-size="11" text-anchor="middle">B30</text><text transform="scale(0.890 1)" y="11.3" font-size="11" text-anchor="middle">100.00SQ.YD.</text></g>
<g transform="translate(497.6 1488.3)"><rect x="-10.4" y="-6.8" width="20.8" height="13.7" fill="#fff"/><text transform="scale(0.900 1)" y="5.8" font-size="16" fill="#1a3a9c" text-anchor="middle">45'</text></g>
<g transform="translate(560.3 1512.8) rotate(-90)"><rect x="-10.4" y="-6.8" width="20.8" height="13.7" fill="#fff"/><text transform="scale(0.900 1)" y="5.8" font-size="16" fill="#1a3a9c" text-anchor="middle">20'</text></g>
<g transform="translate(494 1581)"><rect x="-34.6" y="-15.3" width="69.1" height="30.5" fill="#fff"/><text transform="scale(0.890 1)" y="-3.2" font-size="11" text-anchor="middle">B29</text><text transform="scale(0.890 1)" y="11.3" font-size="11" text-anchor="middle">100.00SQ.YD.</text></g>
<g transform="translate(497.6 1553.5)"><rect x="-10.4" y="-6.8" width="20.8" height="13.7" fill="#fff"/><text transform="scale(0.900 1)" y="5.8" font-size="16" fill="#1a3a9c" text-anchor="middle">45'</text></g>
<g transform="translate(560.3 1578) rotate(-90)"><rect x="-10.4" y="-6.8" width="20.8" height="13.7" fill="#fff"/><text transform="scale(0.900 1)" y="5.8" font-size="16" fill="#1a3a9c" text-anchor="middle">20'</text></g>
<g transform="translate(494 1646.2)"><rect x="-34.6" y="-15.3" width="69.1" height="30.5" fill="#fff"/><text transform="scale(0.890 1)" y="-3.2" font-size="11" text-anchor="middle">B28</text><text transform="scale(0.890 1)" y="11.3" font-size="11" text-anchor="middle">100.00SQ.YD.</text></g>
<g transform="translate(497.6 1618.7)"><rect x="-10.4" y="-6.8" width="20.8" height="13.7" fill="#fff"/><text transform="scale(0.900 1)" y="5.8" font-size="16" fill="#1a3a9c" text-anchor="middle">45'</text></g>
<g transform="translate(560.3 1643.2) rotate(-90)"><rect x="-10.4" y="-6.8" width="20.8" height="13.7" fill="#fff"/><text transform="scale(0.900 1)" y="5.8" font-size="16" fill="#1a3a9c" text-anchor="middle">20'</text></g>
<g transform="translate(494 1711.4)"><rect x="-34.6" y="-15.3" width="69.1" height="30.5" fill="#fff"/><text transform="scale(0.890 1)" y="-3.2" font-size="11" text-anchor="middle">B27</text><text transform="scale(0.890 1)" y="11.3" font-size="11" text-anchor="middle">100.00SQ.YD.</text></g>
<g transform="translate(497.6 1683.9)"><rect x="-10.4" y="-6.8" width="20.8" height="13.7" fill="#fff"/><text transform="scale(0.900 1)" y="5.8" font-size="16" fill="#1a3a9c" text-anchor="middle">45'</text></g>
<g transform="translate(560.3 1708.4) rotate(-90)"><rect x="-10.4" y="-6.8" width="20.8" height="13.7" fill="#fff"/><text transform="scale(0.900 1)" y="5.8" font-size="16" fill="#1a3a9c" text-anchor="middle">20'</text></g>
<g transform="translate(494 1776.6)"><rect x="-34.6" y="-15.3" width="69.1" height="30.5" fill="#fff"/><text transform="scale(0.890 1)" y="-3.2" font-size="11" text-anchor="middle">B12</text><text transform="scale(0.890 1)" y="11.3" font-size="11" text-anchor="middle">100.00SQ.YD.</text></g>
<g transform="translate(497.6 1749.1)"><rect x="-10.4" y="-6.8" width="20.8" height="13.7" fill="#fff"/><text transform="scale(0.900 1)" y="5.8" font-size="16" fill="#1a3a9c" text-anchor="middle">45'</text></g>
<g transform="translate(560.3 1773.6) rotate(-90)"><rect x="-10.4" y="-6.8" width="20.8" height="13.7" fill="#fff"/><text transform="scale(0.900 1)" y="5.8" font-size="16" fill="#1a3a9c" text-anchor="middle">20'</text></g>
<g transform="translate(494 1841.7)"><rect x="-34.6" y="-15.3" width="69.1" height="30.5" fill="#fff"/><text transform="scale(0.890 1)" y="-3.2" font-size="11" text-anchor="middle">B11</text><text transform="scale(0.890 1)" y="11.3" font-size="11" text-anchor="middle">100.00SQ.YD.</text></g>
<g transform="translate(497.6 1814.2)"><rect x="-10.4" y="-6.8" width="20.8" height="13.7" fill="#fff"/><text transform="scale(0.900 1)" y="5.8" font-size="16" fill="#1a3a9c" text-anchor="middle">45'</text></g>
<g transform="translate(560.3 1838.7) rotate(-90)"><rect x="-10.4" y="-6.8" width="20.8" height="13.7" fill="#fff"/><text transform="scale(0.900 1)" y="5.8" font-size="16" fill="#1a3a9c" text-anchor="middle">20'</text></g>
<g transform="translate(494 1906.9)"><rect x="-34.6" y="-15.3" width="69.1" height="30.5" fill="#fff"/><text transform="scale(0.890 1)" y="-3.2" font-size="11" text-anchor="middle">B10</text><text transform="scale(0.890 1)" y="11.3" font-size="11" text-anchor="middle">100.00SQ.YD.</text></g>
<g transform="translate(497.6 1879.4)"><rect x="-10.4" y="-6.8" width="20.8" height="13.7" fill="#fff"/><text transform="scale(0.900 1)" y="5.8" font-size="16" fill="#1a3a9c" text-anchor="middle">45'</text></g>
<g transform="translate(560.3 1903.9) rotate(-90)"><rect x="-10.4" y="-6.8" width="20.8" height="13.7" fill="#fff"/><text transform="scale(0.900 1)" y="5.8" font-size="16" fill="#1a3a9c" text-anchor="middle">20'</text></g>
<g transform="translate(494 1972.1)"><rect x="-34.6" y="-15.3" width="69.1" height="30.5" fill="#fff"/><text transform="scale(0.890 1)" y="-3.2" font-size="11" text-anchor="middle">B09</text><text transform="scale(0.890 1)" y="11.3" font-size="11" text-anchor="middle">100.00SQ.YD.</text></g>
<g transform="translate(497.6 1944.6)"><rect x="-10.4" y="-6.8" width="20.8" height="13.7" fill="#fff"/><text transform="scale(0.900 1)" y="5.8" font-size="16" fill="#1a3a9c" text-anchor="middle">45'</text></g>
<g transform="translate(560.3 1969.1) rotate(-90)"><rect x="-10.4" y="-6.8" width="20.8" height="13.7" fill="#fff"/><text transform="scale(0.900 1)" y="5.8" font-size="16" fill="#1a3a9c" text-anchor="middle">20'</text></g>
<g transform="translate(494 2037.3)"><rect x="-34.6" y="-15.3" width="69.1" height="30.5" fill="#fff"/><text transform="scale(0.890 1)" y="-3.2" font-size="11" text-anchor="middle">B08</text><text transform="scale(0.890 1)" y="11.3" font-size="11" text-anchor="middle">100.00SQ.YD.</text></g>
<g transform="translate(497.6 2009.8)"><rect x="-10.4" y="-6.8" width="20.8" height="13.7" fill="#fff"/><text transform="scale(0.900 1)" y="5.8" font-size="16" fill="#1a3a9c" text-anchor="middle">45'</text></g>
<g transform="translate(560.3 2034.3) rotate(-90)"><rect x="-10.4" y="-6.8" width="20.8" height="13.7" fill="#fff"/><text transform="scale(0.900 1)" y="5.8" font-size="16" fill="#1a3a9c" text-anchor="middle">20'</text></g>
<g transform="translate(497.6 2075)"><rect x="-10.4" y="-6.8" width="20.8" height="13.7" fill="#fff"/><text transform="scale(0.900 1)" y="5.8" font-size="16" fill="#1a3a9c" text-anchor="middle">45'</text></g>
<g transform="translate(499 2096)"><rect x="-31.8" y="-14.8" width="63.7" height="29.5" fill="#fff"/><text transform="scale(0.890 1)" y="-2.7" font-size="11" text-anchor="middle">B07</text><text transform="scale(0.890 1)" y="10.8" font-size="11" text-anchor="middle">96.62SQ.YD.</text></g>
<g transform="translate(560.3 2112) rotate(-90)"><rect x="-19.3" y="-6.8" width="38.7" height="13.7" fill="#fff"/><text transform="scale(0.900 1)" y="5.8" font-size="16" fill="#1a3a9c" text-anchor="middle">24'-7&quot;</text></g>
<g transform="translate(491 2124) rotate(14)"><rect x="-17" y="-6.1" width="34.1" height="12.2" fill="#fff"/><text transform="scale(0.900 1)" y="5.1" font-size="14" fill="#1a3a9c" text-anchor="middle">46'-4&quot;</text></g>
<g transform="translate(431 2088) rotate(-90)"><rect x="-15.9" y="-5.7" width="31.8" height="11.5" fill="#fff"/><text transform="scale(0.900 1)" y="4.7" font-size="13" fill="#1a3a9c" text-anchor="middle">13'-6&quot;</text></g>
<g transform="translate(506 558) rotate(90)"><rect x="-34.5" y="-17.6" width="69" height="35.2" fill="#fff"/><text transform="scale(0.563 1)" y="-1.6" font-size="16.5" text-anchor="middle">COMMERCIAL</text><text transform="scale(0.592 1)" y="13.6" font-size="16.5" text-anchor="middle">240.30SQ.YD.</text></g>
<g transform="translate(436 564) rotate(-90)"><rect x="-19.3" y="-6.8" width="38.7" height="13.7" fill="#fff"/><text transform="scale(0.900 1)" y="5.8" font-size="16" fill="#1a3a9c" text-anchor="middle">41'-6&quot;</text></g>
<g transform="translate(559.5 542) rotate(-90)"><rect x="-19.3" y="-6.8" width="38.7" height="13.7" fill="#fff"/><text transform="scale(0.900 1)" y="5.8" font-size="16" fill="#1a3a9c" text-anchor="middle">55'-2&quot;</text></g>
<g transform="translate(500 482) rotate(-17.2)"><rect x="-19.3" y="-6.8" width="38.7" height="13.7" fill="#fff"/><text transform="scale(0.900 1)" y="5.8" font-size="16" fill="#1a3a9c" text-anchor="middle">46'-8&quot;</text></g>
<g transform="translate(745 522)"><rect x="-43.7" y="-19" width="87.3" height="37.9" fill="#fff"/><text transform="scale(0.800 1)" y="-4" font-size="15" text-anchor="middle">COMMERCIAL</text><text transform="scale(0.800 1)" y="15" font-size="15" text-anchor="middle">481.00 SQ.YD.</text></g>
<g transform="translate(920 522)"><rect x="-43.7" y="-19" width="87.3" height="37.9" fill="#fff"/><text transform="scale(0.800 1)" y="-4" font-size="15" text-anchor="middle">COMMERCIAL</text><text transform="scale(0.800 1)" y="15" font-size="15" text-anchor="middle">475.39 SQ.YD.</text></g>
<g transform="translate(1085 522)"><rect x="-43.7" y="-19" width="87.3" height="37.9" fill="#fff"/><text transform="scale(0.800 1)" y="-4" font-size="15" text-anchor="middle">COMMERCIAL</text><text transform="scale(0.800 1)" y="15" font-size="15" text-anchor="middle">596.29 SQ.YD.</text></g>
<g transform="translate(750 411) rotate(-17.2)"><rect x="-23.3" y="-6.8" width="46.7" height="13.7" fill="#fff"/><text transform="scale(0.900 1)" y="5.8" font-size="16" fill="#1a3a9c" text-anchor="middle">62'-10&quot;</text></g>
<g transform="translate(927 353) rotate(-17.2)"><rect x="-19.3" y="-6.8" width="38.7" height="13.7" fill="#fff"/><text transform="scale(0.900 1)" y="5.8" font-size="16" fill="#1a3a9c" text-anchor="middle">50'-5&quot;</text></g>
<g transform="translate(1077 306) rotate(-17.2)"><rect x="-19.3" y="-6.8" width="38.7" height="13.7" fill="#fff"/><text transform="scale(0.900 1)" y="5.8" font-size="16" fill="#1a3a9c" text-anchor="middle">45'-8&quot;</text></g>
<g transform="translate(839 500) rotate(-90)"><rect x="-19.3" y="-6.8" width="38.7" height="13.7" fill="#fff"/><text transform="scale(0.900 1)" y="5.8" font-size="16" fill="#1a3a9c" text-anchor="middle">81'-5&quot;</text></g>
<g transform="translate(995 475) rotate(-90)"><rect x="-19.3" y="-6.8" width="38.7" height="13.7" fill="#fff"/><text transform="scale(0.900 1)" y="5.8" font-size="16" fill="#1a3a9c" text-anchor="middle">96'-4&quot;</text></g>
<g transform="translate(1162 455) rotate(82)"><rect x="-22.8" y="-6.8" width="45.6" height="13.7" fill="#fff"/><text transform="scale(0.900 1)" y="5.8" font-size="16" fill="#1a3a9c" text-anchor="middle">110'-9&quot;</text></g>
<g transform="translate(664 532) rotate(-90)"><rect x="-22.8" y="-6.8" width="45.6" height="13.7" fill="#fff"/><text transform="scale(0.900 1)" y="5.8" font-size="16" fill="#1a3a9c" text-anchor="middle">62'-11&quot;</text></g>
<g transform="translate(750 623)"><rect x="-10.4" y="-6.8" width="20.8" height="13.7" fill="#fff"/><text transform="scale(0.900 1)" y="5.8" font-size="16" fill="#1a3a9c" text-anchor="middle">60'</text></g>
<g transform="translate(927 623)"><rect x="-19.3" y="-6.8" width="38.7" height="13.7" fill="#fff"/><text transform="scale(0.900 1)" y="5.8" font-size="16" fill="#1a3a9c" text-anchor="middle">48'-2&quot;</text></g>
<g transform="translate(1102 623)"><rect x="-19.3" y="-6.8" width="38.7" height="13.7" fill="#fff"/><text transform="scale(0.900 1)" y="5.8" font-size="16" fill="#1a3a9c" text-anchor="middle">59'-7&quot;</text></g>
<g transform="translate(782 371) rotate(-17.2)"><text transform="scale(0.750 1)" y="9.8" font-size="27" fill="#000" text-anchor="middle">231'-9&quot;</text></g>
<g transform="translate(708.8 735) rotate(90)"><rect x="-34.6" y="-14.8" width="69.1" height="29.5" fill="#fff"/><text transform="scale(0.890 1)" y="-2.7" font-size="11" text-anchor="middle">D16</text><text transform="scale(0.890 1)" y="10.8" font-size="11" text-anchor="middle">200.00SQ.YD.</text></g>
<g transform="translate(701.8 819)"><rect x="-9.4" y="-6.4" width="18.7" height="12.8" fill="#fff"/><text transform="scale(0.820 1)" y="6.4" font-size="17.5" fill="#1a3a9c" text-anchor="middle">30'</text></g>
<g transform="translate(661 727) rotate(180)"><rect x="-7.7" y="-9.4" width="15.5" height="18.8" fill="#fff"/><text transform="scale(0.450 1)" y="8.4" font-size="23" fill="#1a3a9c" text-anchor="middle">60'</text></g>
<g transform="translate(806.8 735) rotate(90)"><rect x="-34.6" y="-14.8" width="69.1" height="29.5" fill="#fff"/><text transform="scale(0.890 1)" y="-2.7" font-size="11" text-anchor="middle">D15</text><text transform="scale(0.890 1)" y="10.8" font-size="11" text-anchor="middle">200.00SQ.YD.</text></g>
<g transform="translate(799.8 819)"><rect x="-9.4" y="-6.4" width="18.7" height="12.8" fill="#fff"/><text transform="scale(0.820 1)" y="6.4" font-size="17.5" fill="#1a3a9c" text-anchor="middle">30'</text></g>
<g transform="translate(759.5 727) rotate(180)"><rect x="-7.7" y="-9.4" width="15.5" height="18.8" fill="#fff"/><text transform="scale(0.450 1)" y="8.4" font-size="23" fill="#1a3a9c" text-anchor="middle">60'</text></g>
<g transform="translate(904.2 735) rotate(90)"><rect x="-34.6" y="-14.8" width="69.1" height="29.5" fill="#fff"/><text transform="scale(0.890 1)" y="-2.7" font-size="11" text-anchor="middle">D14</text><text transform="scale(0.890 1)" y="10.8" font-size="11" text-anchor="middle">200.00SQ.YD.</text></g>
<g transform="translate(897.2 819)"><rect x="-9.4" y="-6.4" width="18.7" height="12.8" fill="#fff"/><text transform="scale(0.820 1)" y="6.4" font-size="17.5" fill="#1a3a9c" text-anchor="middle">30'</text></g>
<g transform="translate(857 727) rotate(180)"><rect x="-7.7" y="-9.4" width="15.5" height="18.8" fill="#fff"/><text transform="scale(0.450 1)" y="8.4" font-size="23" fill="#1a3a9c" text-anchor="middle">60'</text></g>
<g transform="translate(1001.8 735) rotate(90)"><rect x="-34.6" y="-14.8" width="69.1" height="29.5" fill="#fff"/><text transform="scale(0.890 1)" y="-2.7" font-size="11" text-anchor="middle">D12A</text><text transform="scale(0.890 1)" y="10.8" font-size="11" text-anchor="middle">200.00SQ.YD.</text></g>
<g transform="translate(994.8 819)"><rect x="-9.4" y="-6.4" width="18.7" height="12.8" fill="#fff"/><text transform="scale(0.820 1)" y="6.4" font-size="17.5" fill="#1a3a9c" text-anchor="middle">30'</text></g>
<g transform="translate(954.5 727) rotate(180)"><rect x="-7.7" y="-9.4" width="15.5" height="18.8" fill="#fff"/><text transform="scale(0.450 1)" y="8.4" font-size="23" fill="#1a3a9c" text-anchor="middle">60'</text></g>
<g transform="translate(1099.2 735) rotate(90)"><rect x="-34.6" y="-14.8" width="69.1" height="29.5" fill="#fff"/><text transform="scale(0.890 1)" y="-2.7" font-size="11" text-anchor="middle">D12</text><text transform="scale(0.890 1)" y="10.8" font-size="11" text-anchor="middle">200.00SQ.YD.</text></g>
<g transform="translate(1092.2 819)"><rect x="-9.4" y="-6.4" width="18.7" height="12.8" fill="#fff"/><text transform="scale(0.820 1)" y="6.4" font-size="17.5" fill="#1a3a9c" text-anchor="middle">30'</text></g>
<g transform="translate(1052 727) rotate(180)"><rect x="-7.7" y="-9.4" width="15.5" height="18.8" fill="#fff"/><text transform="scale(0.450 1)" y="8.4" font-size="23" fill="#1a3a9c" text-anchor="middle">60'</text></g>
<g transform="translate(1177.7 735) rotate(90)"><rect x="-34.6" y="-14.8" width="69.1" height="29.5" fill="#fff"/><text transform="scale(0.890 1)" y="-2.7" font-size="11" text-anchor="middle">D11</text><text transform="scale(0.890 1)" y="10.8" font-size="11" text-anchor="middle">147.75SQ.YD.</text></g>
<g transform="translate(1149.5 727) rotate(180)"><rect x="-7.7" y="-9.4" width="15.5" height="18.8" fill="#fff"/><text transform="scale(0.450 1)" y="8.4" font-size="23" fill="#1a3a9c" text-anchor="middle">60'</text></g>
<g transform="translate(1170 640)"><rect x="-19.3" y="-6.8" width="38.7" height="13.7" fill="#fff"/><text transform="scale(0.900 1)" y="5.8" font-size="16" fill="#1a3a9c" text-anchor="middle">17'-9&quot;</text></g>
<g transform="translate(1184 819)"><rect x="-19.3" y="-6.8" width="38.7" height="13.7" fill="#fff"/><text transform="scale(0.900 1)" y="5.8" font-size="16" fill="#1a3a9c" text-anchor="middle">26'-7&quot;</text></g>
<g transform="translate(1205 730) rotate(82)"><rect x="-19.3" y="-6.8" width="38.7" height="13.7" fill="#fff"/><text transform="scale(0.900 1)" y="5.8" font-size="16" fill="#1a3a9c" text-anchor="middle">60'-8&quot;</text></g>
<g transform="translate(1226 868) rotate(82)"><rect x="-19.3" y="-6.8" width="38.7" height="13.7" fill="#fff"/><text transform="scale(0.900 1)" y="5.8" font-size="16" fill="#1a3a9c" text-anchor="middle">25'-3&quot;</text></g>
<g transform="translate(708.8 996.2) rotate(90)"><rect x="-34.6" y="-14.8" width="69.1" height="29.5" fill="#fff"/><text transform="scale(0.890 1)" y="-2.7" font-size="11" text-anchor="middle">D05</text><text transform="scale(0.890 1)" y="10.8" font-size="11" text-anchor="middle">200.00SQ.YD.</text></g>
<g transform="translate(701.8 917)"><rect x="-9.4" y="-6.4" width="18.7" height="12.8" fill="#fff"/><text transform="scale(0.820 1)" y="6.4" font-size="17.5" fill="#1a3a9c" text-anchor="middle">30'</text></g>
<g transform="translate(661 1003.2) rotate(180)"><rect x="-7.7" y="-9.4" width="15.5" height="18.8" fill="#fff"/><text transform="scale(0.450 1)" y="8.4" font-size="23" fill="#1a3a9c" text-anchor="middle">60'</text></g>
<g transform="translate(806.8 996.2) rotate(90)"><rect x="-34.6" y="-14.8" width="69.1" height="29.5" fill="#fff"/><text transform="scale(0.890 1)" y="-2.7" font-size="11" text-anchor="middle">D06</text><text transform="scale(0.890 1)" y="10.8" font-size="11" text-anchor="middle">200.00SQ.YD.</text></g>
<g transform="translate(799.8 917)"><rect x="-9.4" y="-6.4" width="18.7" height="12.8" fill="#fff"/><text transform="scale(0.820 1)" y="6.4" font-size="17.5" fill="#1a3a9c" text-anchor="middle">30'</text></g>
<g transform="translate(759.5 1003.2) rotate(180)"><rect x="-7.7" y="-9.4" width="15.5" height="18.8" fill="#fff"/><text transform="scale(0.450 1)" y="8.4" font-size="23" fill="#1a3a9c" text-anchor="middle">60'</text></g>
<g transform="translate(904.2 996.2) rotate(90)"><rect x="-34.6" y="-14.8" width="69.1" height="29.5" fill="#fff"/><text transform="scale(0.890 1)" y="-2.7" font-size="11" text-anchor="middle">D07</text><text transform="scale(0.890 1)" y="10.8" font-size="11" text-anchor="middle">200.00SQ.YD.</text></g>
<g transform="translate(897.2 917)"><rect x="-9.4" y="-6.4" width="18.7" height="12.8" fill="#fff"/><text transform="scale(0.820 1)" y="6.4" font-size="17.5" fill="#1a3a9c" text-anchor="middle">30'</text></g>
<g transform="translate(857 1003.2) rotate(180)"><rect x="-7.7" y="-9.4" width="15.5" height="18.8" fill="#fff"/><text transform="scale(0.450 1)" y="8.4" font-size="23" fill="#1a3a9c" text-anchor="middle">60'</text></g>
<g transform="translate(1001.8 996.2) rotate(90)"><rect x="-34.6" y="-14.8" width="69.1" height="29.5" fill="#fff"/><text transform="scale(0.890 1)" y="-2.7" font-size="11" text-anchor="middle">D08</text><text transform="scale(0.890 1)" y="10.8" font-size="11" text-anchor="middle">200.00SQ.YD.</text></g>
<g transform="translate(994.8 917)"><rect x="-9.4" y="-6.4" width="18.7" height="12.8" fill="#fff"/><text transform="scale(0.820 1)" y="6.4" font-size="17.5" fill="#1a3a9c" text-anchor="middle">30'</text></g>
<g transform="translate(954.5 1003.2) rotate(180)"><rect x="-7.7" y="-9.4" width="15.5" height="18.8" fill="#fff"/><text transform="scale(0.450 1)" y="8.4" font-size="23" fill="#1a3a9c" text-anchor="middle">60'</text></g>
<g transform="translate(1099.2 996.2) rotate(90)"><rect x="-34.6" y="-14.8" width="69.1" height="29.5" fill="#fff"/><text transform="scale(0.890 1)" y="-2.7" font-size="11" text-anchor="middle">D09</text><text transform="scale(0.890 1)" y="10.8" font-size="11" text-anchor="middle">200.00SQ.YD.</text></g>
<g transform="translate(1092.2 917)"><rect x="-9.4" y="-6.4" width="18.7" height="12.8" fill="#fff"/><text transform="scale(0.820 1)" y="6.4" font-size="17.5" fill="#1a3a9c" text-anchor="middle">30'</text></g>
<g transform="translate(1052 1003.2) rotate(180)"><rect x="-7.7" y="-9.4" width="15.5" height="18.8" fill="#fff"/><text transform="scale(0.450 1)" y="8.4" font-size="23" fill="#1a3a9c" text-anchor="middle">60'</text></g>
<g transform="translate(1200 996.2) rotate(90)"><rect x="-33.8" y="-14.8" width="67.7" height="29.5" fill="#fff"/><text transform="scale(0.890 1)" y="-2.7" font-size="11" text-anchor="middle">D10</text><text transform="scale(0.890 1)" y="10.8" font-size="11" text-anchor="middle">211.11SQ.YD.</text></g>
<g transform="translate(1149.5 1003.2) rotate(180)"><rect x="-7.7" y="-9.4" width="15.5" height="18.8" fill="#fff"/><text transform="scale(0.450 1)" y="8.4" font-size="23" fill="#1a3a9c" text-anchor="middle">60'</text></g>
<g transform="translate(1190 917)"><rect x="-19.3" y="-6.8" width="38.7" height="13.7" fill="#fff"/><text transform="scale(0.900 1)" y="5.8" font-size="16" fill="#1a3a9c" text-anchor="middle">30'-1&quot;</text></g>
<g transform="translate(1234 947) rotate(80)"><rect x="-22.8" y="-6.8" width="45.6" height="13.7" fill="#fff"/><text transform="scale(0.900 1)" y="5.8" font-size="16" fill="#1a3a9c" text-anchor="middle">22'-11&quot;</text></g>
<g transform="translate(1236 1042) rotate(96)"><rect x="-19.3" y="-6.8" width="38.7" height="13.7" fill="#fff"/><text transform="scale(0.900 1)" y="5.8" font-size="16" fill="#1a3a9c" text-anchor="middle">37'-6&quot;</text></g>
<g transform="translate(711.8 1190.2) rotate(90)"><rect x="-34.6" y="-14.8" width="69.1" height="29.5" fill="#fff"/><text transform="scale(0.890 1)" y="-2.7" font-size="11" text-anchor="middle">C16</text><text transform="scale(0.890 1)" y="10.8" font-size="11" text-anchor="middle">204.00SQ.YD.</text></g>
<g transform="translate(704.8 1112.5)"><rect x="-9.4" y="-6.4" width="18.7" height="12.8" fill="#fff"/><text transform="scale(0.820 1)" y="6.4" font-size="17.5" fill="#1a3a9c" text-anchor="middle">32'</text></g>
<g transform="translate(704.8 1283)"><rect x="-9.4" y="-6.4" width="18.7" height="12.8" fill="#fff"/><text transform="scale(0.820 1)" y="6.4" font-size="17.5" fill="#1a3a9c" text-anchor="middle">32'</text></g>
<g transform="translate(662 1194.8) rotate(-90)"><rect x="-20.4" y="-7.9" width="40.7" height="15.9" fill="#fff"/><text transform="scale(0.800 1)" y="6.9" font-size="19" fill="#1a3a9c" text-anchor="middle">57'-6&quot;</text></g>
<g transform="translate(803 1190.2) rotate(90)"><rect x="-34.6" y="-14.8" width="69.1" height="29.5" fill="#fff"/><text transform="scale(0.890 1)" y="-2.7" font-size="11" text-anchor="middle">C15</text><text transform="scale(0.890 1)" y="10.8" font-size="11" text-anchor="middle">153.33SQ.YD.</text></g>
<g transform="translate(796 1112.5)"><rect x="-9.4" y="-6.4" width="18.7" height="12.8" fill="#fff"/><text transform="scale(0.820 1)" y="6.4" font-size="17.5" fill="#1a3a9c" text-anchor="middle">24'</text></g>
<g transform="translate(796 1283)"><rect x="-9.4" y="-6.4" width="18.7" height="12.8" fill="#fff"/><text transform="scale(0.820 1)" y="6.4" font-size="17.5" fill="#1a3a9c" text-anchor="middle">24'</text></g>
<g transform="translate(766.5 1194.8) rotate(-90)"><rect x="-20.4" y="-7.9" width="40.7" height="15.9" fill="#fff"/><text transform="scale(0.800 1)" y="6.9" font-size="19" fill="#1a3a9c" text-anchor="middle">57'-6&quot;</text></g>
<g transform="translate(881.2 1190.2) rotate(90)"><rect x="-34.6" y="-14.8" width="69.1" height="29.5" fill="#fff"/><text transform="scale(0.890 1)" y="-2.7" font-size="11" text-anchor="middle">C14</text><text transform="scale(0.890 1)" y="10.8" font-size="11" text-anchor="middle">153.33SQ.YD.</text></g>
<g transform="translate(874.2 1112.5)"><rect x="-9.4" y="-6.4" width="18.7" height="12.8" fill="#fff"/><text transform="scale(0.820 1)" y="6.4" font-size="17.5" fill="#1a3a9c" text-anchor="middle">24'</text></g>
<g transform="translate(874.2 1283)"><rect x="-9.4" y="-6.4" width="18.7" height="12.8" fill="#fff"/><text transform="scale(0.820 1)" y="6.4" font-size="17.5" fill="#1a3a9c" text-anchor="middle">24'</text></g>
<g transform="translate(844.5 1194.8) rotate(-90)"><rect x="-20.4" y="-7.9" width="40.7" height="15.9" fill="#fff"/><text transform="scale(0.800 1)" y="6.9" font-size="19" fill="#1a3a9c" text-anchor="middle">57'-6&quot;</text></g>
<g transform="translate(959.8 1190.2) rotate(90)"><rect x="-34.6" y="-14.8" width="69.1" height="29.5" fill="#fff"/><text transform="scale(0.890 1)" y="-2.7" font-size="11" text-anchor="middle">C12A</text><text transform="scale(0.890 1)" y="10.8" font-size="11" text-anchor="middle">153.33SQ.YD.</text></g>
<g transform="translate(952.8 1112.5)"><rect x="-9.4" y="-6.4" width="18.7" height="12.8" fill="#fff"/><text transform="scale(0.820 1)" y="6.4" font-size="17.5" fill="#1a3a9c" text-anchor="middle">24'</text></g>
<g transform="translate(952.8 1283)"><rect x="-9.4" y="-6.4" width="18.7" height="12.8" fill="#fff"/><text transform="scale(0.820 1)" y="6.4" font-size="17.5" fill="#1a3a9c" text-anchor="middle">24'</text></g>
<g transform="translate(923 1194.8) rotate(-90)"><rect x="-20.4" y="-7.9" width="40.7" height="15.9" fill="#fff"/><text transform="scale(0.800 1)" y="6.9" font-size="19" fill="#1a3a9c" text-anchor="middle">57'-6&quot;</text></g>
<g transform="translate(1038 1190.2) rotate(90)"><rect x="-34.6" y="-14.8" width="69.1" height="29.5" fill="#fff"/><text transform="scale(0.890 1)" y="-2.7" font-size="11" text-anchor="middle">C12</text><text transform="scale(0.890 1)" y="10.8" font-size="11" text-anchor="middle">153.33SQ.YD.</text></g>
<g transform="translate(1031 1112.5)"><rect x="-9.4" y="-6.4" width="18.7" height="12.8" fill="#fff"/><text transform="scale(0.820 1)" y="6.4" font-size="17.5" fill="#1a3a9c" text-anchor="middle">24'</text></g>
<g transform="translate(1031 1283)"><rect x="-9.4" y="-6.4" width="18.7" height="12.8" fill="#fff"/><text transform="scale(0.820 1)" y="6.4" font-size="17.5" fill="#1a3a9c" text-anchor="middle">24'</text></g>
<g transform="translate(1001.5 1194.8) rotate(-90)"><rect x="-20.4" y="-7.9" width="40.7" height="15.9" fill="#fff"/><text transform="scale(0.800 1)" y="6.9" font-size="19" fill="#1a3a9c" text-anchor="middle">57'-6&quot;</text></g>
<g transform="translate(1116.2 1190.2) rotate(90)"><rect x="-34.6" y="-14.8" width="69.1" height="29.5" fill="#fff"/><text transform="scale(0.890 1)" y="-2.7" font-size="11" text-anchor="middle">C11</text><text transform="scale(0.890 1)" y="10.8" font-size="11" text-anchor="middle">153.33SQ.YD.</text></g>
<g transform="translate(1109.2 1112.5)"><rect x="-9.4" y="-6.4" width="18.7" height="12.8" fill="#fff"/><text transform="scale(0.820 1)" y="6.4" font-size="17.5" fill="#1a3a9c" text-anchor="middle">24'</text></g>
<g transform="translate(1109.2 1283)"><rect x="-9.4" y="-6.4" width="18.7" height="12.8" fill="#fff"/><text transform="scale(0.820 1)" y="6.4" font-size="17.5" fill="#1a3a9c" text-anchor="middle">24'</text></g>
<g transform="translate(1079.5 1194.8) rotate(-90)"><rect x="-20.4" y="-7.9" width="40.7" height="15.9" fill="#fff"/><text transform="scale(0.800 1)" y="6.9" font-size="19" fill="#1a3a9c" text-anchor="middle">57'-6&quot;</text></g>
<g transform="translate(1191.7 1190.2) rotate(90)"><rect x="-34.6" y="-14.8" width="69.1" height="29.5" fill="#fff"/><text transform="scale(0.890 1)" y="-2.7" font-size="11" text-anchor="middle">C10</text><text transform="scale(0.890 1)" y="10.8" font-size="11" text-anchor="middle">161.53SQ.YD.</text></g>
<g transform="translate(1184.7 1112.5)"><rect x="-18.3" y="-6.4" width="36.6" height="12.8" fill="#fff"/><text transform="scale(0.820 1)" y="6.4" font-size="17.5" fill="#1a3a9c" text-anchor="middle">27'-9&quot;</text></g>
<g transform="translate(1184.7 1283)"><rect x="-18.3" y="-6.4" width="36.6" height="12.8" fill="#fff"/><text transform="scale(0.820 1)" y="6.4" font-size="17.5" fill="#1a3a9c" text-anchor="middle">22'-5&quot;</text></g>
<g transform="translate(1158 1194.8) rotate(-90)"><rect x="-20.4" y="-7.9" width="40.7" height="15.9" fill="#fff"/><text transform="scale(0.800 1)" y="6.9" font-size="19" fill="#1a3a9c" text-anchor="middle">57'-6&quot;</text></g>
<g transform="translate(1222 1192) rotate(-84.5)"><rect x="-19.3" y="-6.8" width="38.7" height="13.7" fill="#fff"/><text transform="scale(0.900 1)" y="5.8" font-size="16" fill="#1a3a9c" text-anchor="middle">57'-9&quot;</text></g>
<g transform="translate(711.8 1469) rotate(90)"><rect x="-34.6" y="-14.8" width="69.1" height="29.5" fill="#fff"/><text transform="scale(0.890 1)" y="-2.7" font-size="11" text-anchor="middle">C04</text><text transform="scale(0.890 1)" y="10.8" font-size="11" text-anchor="middle">204.00SQ.YD.</text></g>
<g transform="translate(704.8 1382.5)"><rect x="-9.4" y="-6.4" width="18.7" height="12.8" fill="#fff"/><text transform="scale(0.820 1)" y="6.4" font-size="17.5" fill="#1a3a9c" text-anchor="middle">32'</text></g>
<g transform="translate(662 1464) rotate(-90)"><rect x="-20.4" y="-7.9" width="40.7" height="15.9" fill="#fff"/><text transform="scale(0.800 1)" y="6.9" font-size="19" fill="#1a3a9c" text-anchor="middle">57'-6&quot;</text></g>
<g transform="translate(803 1469) rotate(90)"><rect x="-34.6" y="-14.8" width="69.1" height="29.5" fill="#fff"/><text transform="scale(0.890 1)" y="-2.7" font-size="11" text-anchor="middle">C05</text><text transform="scale(0.890 1)" y="10.8" font-size="11" text-anchor="middle">153.33SQ.YD.</text></g>
<g transform="translate(796 1382.5)"><rect x="-9.4" y="-6.4" width="18.7" height="12.8" fill="#fff"/><text transform="scale(0.820 1)" y="6.4" font-size="17.5" fill="#1a3a9c" text-anchor="middle">24'</text></g>
<g transform="translate(766.5 1464) rotate(-90)"><rect x="-20.4" y="-7.9" width="40.7" height="15.9" fill="#fff"/><text transform="scale(0.800 1)" y="6.9" font-size="19" fill="#1a3a9c" text-anchor="middle">57'-6&quot;</text></g>
<g transform="translate(881.2 1469) rotate(90)"><rect x="-34.6" y="-14.8" width="69.1" height="29.5" fill="#fff"/><text transform="scale(0.890 1)" y="-2.7" font-size="11" text-anchor="middle">C06</text><text transform="scale(0.890 1)" y="10.8" font-size="11" text-anchor="middle">153.33SQ.YD.</text></g>
<g transform="translate(874.2 1382.5)"><rect x="-9.4" y="-6.4" width="18.7" height="12.8" fill="#fff"/><text transform="scale(0.820 1)" y="6.4" font-size="17.5" fill="#1a3a9c" text-anchor="middle">24'</text></g>
<g transform="translate(844.5 1464) rotate(-90)"><rect x="-20.4" y="-7.9" width="40.7" height="15.9" fill="#fff"/><text transform="scale(0.800 1)" y="6.9" font-size="19" fill="#1a3a9c" text-anchor="middle">57'-6&quot;</text></g>
<g transform="translate(959.8 1469) rotate(90)"><rect x="-34.6" y="-14.8" width="69.1" height="29.5" fill="#fff"/><text transform="scale(0.890 1)" y="-2.7" font-size="11" text-anchor="middle">C07</text><text transform="scale(0.890 1)" y="10.8" font-size="11" text-anchor="middle">153.33SQ.YD.</text></g>
<g transform="translate(952.8 1382.5)"><rect x="-9.4" y="-6.4" width="18.7" height="12.8" fill="#fff"/><text transform="scale(0.820 1)" y="6.4" font-size="17.5" fill="#1a3a9c" text-anchor="middle">24'</text></g>
<g transform="translate(923 1464) rotate(-90)"><rect x="-20.4" y="-7.9" width="40.7" height="15.9" fill="#fff"/><text transform="scale(0.800 1)" y="6.9" font-size="19" fill="#1a3a9c" text-anchor="middle">57'-6&quot;</text></g>
<g transform="translate(1038 1469) rotate(90)"><rect x="-34.6" y="-14.8" width="69.1" height="29.5" fill="#fff"/><text transform="scale(0.890 1)" y="-2.7" font-size="11" text-anchor="middle">C08</text><text transform="scale(0.890 1)" y="10.8" font-size="11" text-anchor="middle">153.33SQ.YD.</text></g>
<g transform="translate(1031 1382.5)"><rect x="-9.4" y="-6.4" width="18.7" height="12.8" fill="#fff"/><text transform="scale(0.820 1)" y="6.4" font-size="17.5" fill="#1a3a9c" text-anchor="middle">24'</text></g>
<g transform="translate(1001.5 1464) rotate(-90)"><rect x="-20.4" y="-7.9" width="40.7" height="15.9" fill="#fff"/><text transform="scale(0.800 1)" y="6.9" font-size="19" fill="#1a3a9c" text-anchor="middle">57'-6&quot;</text></g>
<g transform="translate(1139.5 1469) rotate(90)"><rect x="-34.6" y="-14.8" width="69.1" height="29.5" fill="#fff"/><text transform="scale(0.890 1)" y="-2.7" font-size="11" text-anchor="middle">C09</text><text transform="scale(0.890 1)" y="10.8" font-size="11" text-anchor="middle">261.82SQ.YD.</text></g>
<g transform="translate(1132.5 1382.5)"><rect x="-21.7" y="-6.4" width="43.5" height="12.8" fill="#fff"/><text transform="scale(0.820 1)" y="6.4" font-size="17.5" fill="#1a3a9c" text-anchor="middle">43'-11&quot;</text></g>
<g transform="translate(1079.5 1464) rotate(-90)"><rect x="-20.4" y="-7.9" width="40.7" height="15.9" fill="#fff"/><text transform="scale(0.800 1)" y="6.9" font-size="19" fill="#1a3a9c" text-anchor="middle">57'-6&quot;</text></g>
<g transform="translate(1194 1468) rotate(-84.5)"><rect x="-23.3" y="-6.8" width="46.7" height="13.7" fill="#fff"/><text transform="scale(0.900 1)" y="5.8" font-size="16" fill="#1a3a9c" text-anchor="middle">57'-10&quot;</text></g>
<g transform="translate(725 1636.8) rotate(90)"><rect x="-34.6" y="-14.8" width="69.1" height="29.5" fill="#fff"/><text transform="scale(0.890 1)" y="-2.7" font-size="11" text-anchor="middle">B26</text><text transform="scale(0.890 1)" y="10.8" font-size="11" text-anchor="middle">200.00SQ.YD.</text></g>
<g transform="translate(718 1568.5)"><rect x="-9.4" y="-6.4" width="18.7" height="12.8" fill="#fff"/><text transform="scale(0.820 1)" y="6.4" font-size="17.5" fill="#1a3a9c" text-anchor="middle">40'</text></g>
<g transform="translate(718 1699)"><rect x="-9.4" y="-6.4" width="18.7" height="12.8" fill="#fff"/><text transform="scale(0.820 1)" y="6.4" font-size="17.5" fill="#1a3a9c" text-anchor="middle">40'</text></g>
<g transform="translate(662 1630.8) rotate(-90)"><rect x="-10.9" y="-7.9" width="21.8" height="15.9" fill="#fff"/><text transform="scale(0.800 1)" y="6.9" font-size="19" fill="#1a3a9c" text-anchor="middle">45'</text></g>
<g transform="translate(823 1636.8) rotate(90)"><rect x="-34.6" y="-14.8" width="69.1" height="29.5" fill="#fff"/><text transform="scale(0.890 1)" y="-2.7" font-size="11" text-anchor="middle">B25</text><text transform="scale(0.890 1)" y="10.8" font-size="11" text-anchor="middle">100.00SQ.YD.</text></g>
<g transform="translate(816 1568.5)"><rect x="-9.4" y="-6.4" width="18.7" height="12.8" fill="#fff"/><text transform="scale(0.820 1)" y="6.4" font-size="17.5" fill="#1a3a9c" text-anchor="middle">20'</text></g>
<g transform="translate(816 1699)"><rect x="-9.4" y="-6.4" width="18.7" height="12.8" fill="#fff"/><text transform="scale(0.820 1)" y="6.4" font-size="17.5" fill="#1a3a9c" text-anchor="middle">20'</text></g>
<g transform="translate(793 1630.8) rotate(-90)"><rect x="-10.9" y="-7.9" width="21.8" height="15.9" fill="#fff"/><text transform="scale(0.800 1)" y="6.9" font-size="19" fill="#1a3a9c" text-anchor="middle">45'</text></g>
<g transform="translate(888 1636.8) rotate(90)"><rect x="-34.6" y="-14.8" width="69.1" height="29.5" fill="#fff"/><text transform="scale(0.890 1)" y="-2.7" font-size="11" text-anchor="middle">B24</text><text transform="scale(0.890 1)" y="10.8" font-size="11" text-anchor="middle">100.00SQ.YD.</text></g>
<g transform="translate(881 1568.5)"><rect x="-9.4" y="-6.4" width="18.7" height="12.8" fill="#fff"/><text transform="scale(0.820 1)" y="6.4" font-size="17.5" fill="#1a3a9c" text-anchor="middle">20'</text></g>
<g transform="translate(881 1699)"><rect x="-9.4" y="-6.4" width="18.7" height="12.8" fill="#fff"/><text transform="scale(0.820 1)" y="6.4" font-size="17.5" fill="#1a3a9c" text-anchor="middle">20'</text></g>
<g transform="translate(858 1630.8) rotate(-90)"><rect x="-10.9" y="-7.9" width="21.8" height="15.9" fill="#fff"/><text transform="scale(0.800 1)" y="6.9" font-size="19" fill="#1a3a9c" text-anchor="middle">45'</text></g>
<g transform="translate(953 1636.8) rotate(90)"><rect x="-34.6" y="-14.8" width="69.1" height="29.5" fill="#fff"/><text transform="scale(0.890 1)" y="-2.7" font-size="11" text-anchor="middle">B23</text><text transform="scale(0.890 1)" y="10.8" font-size="11" text-anchor="middle">100.00SQ.YD.</text></g>
<g transform="translate(946 1568.5)"><rect x="-9.4" y="-6.4" width="18.7" height="12.8" fill="#fff"/><text transform="scale(0.820 1)" y="6.4" font-size="17.5" fill="#1a3a9c" text-anchor="middle">20'</text></g>
<g transform="translate(946 1699)"><rect x="-9.4" y="-6.4" width="18.7" height="12.8" fill="#fff"/><text transform="scale(0.820 1)" y="6.4" font-size="17.5" fill="#1a3a9c" text-anchor="middle">20'</text></g>
<g transform="translate(923 1630.8) rotate(-90)"><rect x="-10.9" y="-7.9" width="21.8" height="15.9" fill="#fff"/><text transform="scale(0.800 1)" y="6.9" font-size="19" fill="#1a3a9c" text-anchor="middle">45'</text></g>
<g transform="translate(1018 1636.8) rotate(90)"><rect x="-34.6" y="-14.8" width="69.1" height="29.5" fill="#fff"/><text transform="scale(0.890 1)" y="-2.7" font-size="11" text-anchor="middle">B22</text><text transform="scale(0.890 1)" y="10.8" font-size="11" text-anchor="middle">100.00SQ.YD.</text></g>
<g transform="translate(1011 1568.5)"><rect x="-9.4" y="-6.4" width="18.7" height="12.8" fill="#fff"/><text transform="scale(0.820 1)" y="6.4" font-size="17.5" fill="#1a3a9c" text-anchor="middle">20'</text></g>
<g transform="translate(1011 1699)"><rect x="-9.4" y="-6.4" width="18.7" height="12.8" fill="#fff"/><text transform="scale(0.820 1)" y="6.4" font-size="17.5" fill="#1a3a9c" text-anchor="middle">20'</text></g>
<g transform="translate(988 1630.8) rotate(-90)"><rect x="-10.9" y="-7.9" width="21.8" height="15.9" fill="#fff"/><text transform="scale(0.800 1)" y="6.9" font-size="19" fill="#1a3a9c" text-anchor="middle">45'</text></g>
<g transform="translate(1083 1636.8) rotate(90)"><rect x="-34.6" y="-14.8" width="69.1" height="29.5" fill="#fff"/><text transform="scale(0.890 1)" y="-2.7" font-size="11" text-anchor="middle">B21</text><text transform="scale(0.890 1)" y="10.8" font-size="11" text-anchor="middle">100.00SQ.YD.</text></g>
<g transform="translate(1076 1568.5)"><rect x="-9.4" y="-6.4" width="18.7" height="12.8" fill="#fff"/><text transform="scale(0.820 1)" y="6.4" font-size="17.5" fill="#1a3a9c" text-anchor="middle">20'</text></g>
<g transform="translate(1076 1699)"><rect x="-9.4" y="-6.4" width="18.7" height="12.8" fill="#fff"/><text transform="scale(0.820 1)" y="6.4" font-size="17.5" fill="#1a3a9c" text-anchor="middle">20'</text></g>
<g transform="translate(1053 1630.8) rotate(-90)"><rect x="-10.9" y="-7.9" width="21.8" height="15.9" fill="#fff"/><text transform="scale(0.800 1)" y="6.9" font-size="19" fill="#1a3a9c" text-anchor="middle">45'</text></g>
<g transform="translate(1151.6 1636.8) rotate(90)"><rect x="-34.2" y="-14.8" width="68.4" height="29.5" fill="#fff"/><text transform="scale(0.890 1)" y="-2.7" font-size="11" text-anchor="middle">B20</text><text transform="scale(0.890 1)" y="10.8" font-size="11" text-anchor="middle">118.59SQ.YD.</text></g>
<g transform="translate(1144.6 1568.5)"><rect x="-9.4" y="-6.4" width="18.7" height="12.8" fill="#fff"/><text transform="scale(0.820 1)" y="6.4" font-size="17.5" fill="#1a3a9c" text-anchor="middle">26'</text></g>
<g transform="translate(1144.6 1699)"><rect x="-18.3" y="-6.4" width="36.6" height="12.8" fill="#fff"/><text transform="scale(0.820 1)" y="6.4" font-size="17.5" fill="#1a3a9c" text-anchor="middle">21'-5&quot;</text></g>
<g transform="translate(1118 1630.8) rotate(-90)"><rect x="-10.9" y="-7.9" width="21.8" height="15.9" fill="#fff"/><text transform="scale(0.800 1)" y="6.9" font-size="19" fill="#1a3a9c" text-anchor="middle">45'</text></g>
<g transform="translate(1178 1634) rotate(-84.5)"><rect x="-19.3" y="-6.8" width="38.7" height="13.7" fill="#fff"/><text transform="scale(0.900 1)" y="5.8" font-size="16" fill="#1a3a9c" text-anchor="middle">45'-3&quot;</text></g>
<g transform="translate(1164 1750) rotate(-84.5)"><rect x="-13.6" y="-5" width="27.2" height="10" fill="#fff"/><text transform="scale(0.900 1)" y="4" font-size="11" fill="#1a3a9c" text-anchor="middle">40'-9&quot;</text></g>
<g transform="translate(725 1874.5) rotate(90)"><rect x="-34.6" y="-14.8" width="69.1" height="29.5" fill="#fff"/><text transform="scale(0.890 1)" y="-2.7" font-size="11" text-anchor="middle">B12A</text><text transform="scale(0.890 1)" y="10.8" font-size="11" text-anchor="middle">200.00SQ.YD.</text></g>
<g transform="translate(718 1797.5)"><rect x="-9.4" y="-6.4" width="18.7" height="12.8" fill="#fff"/><text transform="scale(0.820 1)" y="6.4" font-size="17.5" fill="#1a3a9c" text-anchor="middle">40'</text></g>
<g transform="translate(662 1859.5) rotate(-90)"><rect x="-10.9" y="-7.9" width="21.8" height="15.9" fill="#fff"/><text transform="scale(0.800 1)" y="6.9" font-size="19" fill="#1a3a9c" text-anchor="middle">45'</text></g>
<g transform="translate(823 1874.5) rotate(90)"><rect x="-34.6" y="-14.8" width="69.1" height="29.5" fill="#fff"/><text transform="scale(0.890 1)" y="-2.7" font-size="11" text-anchor="middle">B14</text><text transform="scale(0.890 1)" y="10.8" font-size="11" text-anchor="middle">100.00SQ.YD.</text></g>
<g transform="translate(816 1797.5)"><rect x="-9.4" y="-6.4" width="18.7" height="12.8" fill="#fff"/><text transform="scale(0.820 1)" y="6.4" font-size="17.5" fill="#1a3a9c" text-anchor="middle">20'</text></g>
<g transform="translate(793 1859.5) rotate(-90)"><rect x="-10.9" y="-7.9" width="21.8" height="15.9" fill="#fff"/><text transform="scale(0.800 1)" y="6.9" font-size="19" fill="#1a3a9c" text-anchor="middle">45'</text></g>
<g transform="translate(888 1874.5) rotate(90)"><rect x="-34.6" y="-14.8" width="69.1" height="29.5" fill="#fff"/><text transform="scale(0.890 1)" y="-2.7" font-size="11" text-anchor="middle">B15</text><text transform="scale(0.890 1)" y="10.8" font-size="11" text-anchor="middle">100.00SQ.YD.</text></g>
<g transform="translate(881 1797.5)"><rect x="-9.4" y="-6.4" width="18.7" height="12.8" fill="#fff"/><text transform="scale(0.820 1)" y="6.4" font-size="17.5" fill="#1a3a9c" text-anchor="middle">20'</text></g>
<g transform="translate(858 1859.5) rotate(-90)"><rect x="-10.9" y="-7.9" width="21.8" height="15.9" fill="#fff"/><text transform="scale(0.800 1)" y="6.9" font-size="19" fill="#1a3a9c" text-anchor="middle">45'</text></g>
<g transform="translate(953 1874.5) rotate(90)"><rect x="-34.6" y="-14.8" width="69.1" height="29.5" fill="#fff"/><text transform="scale(0.890 1)" y="-2.7" font-size="11" text-anchor="middle">B16</text><text transform="scale(0.890 1)" y="10.8" font-size="11" text-anchor="middle">100.00SQ.YD.</text></g>
<g transform="translate(946 1797.5)"><rect x="-9.4" y="-6.4" width="18.7" height="12.8" fill="#fff"/><text transform="scale(0.820 1)" y="6.4" font-size="17.5" fill="#1a3a9c" text-anchor="middle">20'</text></g>
<g transform="translate(923 1859.5) rotate(-90)"><rect x="-10.9" y="-7.9" width="21.8" height="15.9" fill="#fff"/><text transform="scale(0.800 1)" y="6.9" font-size="19" fill="#1a3a9c" text-anchor="middle">45'</text></g>
<g transform="translate(1018 1874.5) rotate(90)"><rect x="-34.6" y="-14.8" width="69.1" height="29.5" fill="#fff"/><text transform="scale(0.890 1)" y="-2.7" font-size="11" text-anchor="middle">B17</text><text transform="scale(0.890 1)" y="10.8" font-size="11" text-anchor="middle">100.00SQ.YD.</text></g>
<g transform="translate(1011 1797.5)"><rect x="-9.4" y="-6.4" width="18.7" height="12.8" fill="#fff"/><text transform="scale(0.820 1)" y="6.4" font-size="17.5" fill="#1a3a9c" text-anchor="middle">20'</text></g>
<g transform="translate(988 1859.5) rotate(-90)"><rect x="-10.9" y="-7.9" width="21.8" height="15.9" fill="#fff"/><text transform="scale(0.800 1)" y="6.9" font-size="19" fill="#1a3a9c" text-anchor="middle">45'</text></g>
<g transform="translate(1083 1874.5) rotate(90)"><rect x="-34.6" y="-14.8" width="69.1" height="29.5" fill="#fff"/><text transform="scale(0.890 1)" y="-2.7" font-size="11" text-anchor="middle">B18</text><text transform="scale(0.890 1)" y="10.8" font-size="11" text-anchor="middle">100.00SQ.YD.</text></g>
<g transform="translate(1076 1797.5)"><rect x="-9.4" y="-6.4" width="18.7" height="12.8" fill="#fff"/><text transform="scale(0.820 1)" y="6.4" font-size="17.5" fill="#1a3a9c" text-anchor="middle">20'</text></g>
<g transform="translate(1053 1859.5) rotate(-90)"><rect x="-10.9" y="-7.9" width="21.8" height="15.9" fill="#fff"/><text transform="scale(0.800 1)" y="6.9" font-size="19" fill="#1a3a9c" text-anchor="middle">45'</text></g>
<g transform="translate(1140 1838) rotate(90)"><rect x="-31.8" y="-14.8" width="63.7" height="29.5" fill="#fff"/><text transform="scale(0.890 1)" y="-2.7" font-size="11" text-anchor="middle">B19</text><text transform="scale(0.890 1)" y="10.8" font-size="11" text-anchor="middle">77.28SQ.YD.</text></g>
<g transform="translate(1126 1797.5)"><rect x="-18.3" y="-6.4" width="36.6" height="12.8" fill="#fff"/><text transform="scale(0.820 1)" y="6.4" font-size="17.5" fill="#1a3a9c" text-anchor="middle">19'-1&quot;</text></g>
<g transform="translate(1118 1859.5) rotate(-90)"><rect x="-10.9" y="-7.9" width="21.8" height="15.9" fill="#fff"/><text transform="scale(0.800 1)" y="6.9" font-size="19" fill="#1a3a9c" text-anchor="middle">45'</text></g>
<g transform="translate(1145 1888) rotate(-76)"><rect x="-13.6" y="-5" width="27.2" height="10" fill="#fff"/><text transform="scale(0.900 1)" y="4" font-size="11" fill="#1a3a9c" text-anchor="middle">30'-4&quot;</text></g>
<g transform="translate(725 2010.8) rotate(90)"><rect x="-34.6" y="-14.8" width="69.1" height="29.5" fill="#fff"/><text transform="scale(0.890 1)" y="-2.7" font-size="11" text-anchor="middle">B06</text><text transform="scale(0.890 1)" y="10.8" font-size="11" text-anchor="middle">200.00SQ.YD.</text></g>
<g transform="translate(718 2073)"><rect x="-9.4" y="-6.4" width="18.7" height="12.8" fill="#fff"/><text transform="scale(0.820 1)" y="6.4" font-size="17.5" fill="#1a3a9c" text-anchor="middle">40'</text></g>
<g transform="translate(662 2005.8) rotate(-90)"><rect x="-10.9" y="-7.9" width="21.8" height="15.9" fill="#fff"/><text transform="scale(0.800 1)" y="6.9" font-size="19" fill="#1a3a9c" text-anchor="middle">45'</text></g>
<g transform="translate(823 2010.8) rotate(90)"><rect x="-34.6" y="-14.8" width="69.1" height="29.5" fill="#fff"/><text transform="scale(0.890 1)" y="-2.7" font-size="11" text-anchor="middle">B05</text><text transform="scale(0.890 1)" y="10.8" font-size="11" text-anchor="middle">100.00SQ.YD.</text></g>
<g transform="translate(816 2073)"><rect x="-9.4" y="-6.4" width="18.7" height="12.8" fill="#fff"/><text transform="scale(0.820 1)" y="6.4" font-size="17.5" fill="#1a3a9c" text-anchor="middle">20'</text></g>
<g transform="translate(793 2005.8) rotate(-90)"><rect x="-10.9" y="-7.9" width="21.8" height="15.9" fill="#fff"/><text transform="scale(0.800 1)" y="6.9" font-size="19" fill="#1a3a9c" text-anchor="middle">45'</text></g>
<g transform="translate(888 2010.8) rotate(90)"><rect x="-34.6" y="-14.8" width="69.1" height="29.5" fill="#fff"/><text transform="scale(0.890 1)" y="-2.7" font-size="11" text-anchor="middle">B04</text><text transform="scale(0.890 1)" y="10.8" font-size="11" text-anchor="middle">100.00SQ.YD.</text></g>
<g transform="translate(881 2073)"><rect x="-9.4" y="-6.4" width="18.7" height="12.8" fill="#fff"/><text transform="scale(0.820 1)" y="6.4" font-size="17.5" fill="#1a3a9c" text-anchor="middle">20'</text></g>
<g transform="translate(858 2005.8) rotate(-90)"><rect x="-10.9" y="-7.9" width="21.8" height="15.9" fill="#fff"/><text transform="scale(0.800 1)" y="6.9" font-size="19" fill="#1a3a9c" text-anchor="middle">45'</text></g>
<g transform="translate(953 2010.8) rotate(90)"><rect x="-34.6" y="-14.8" width="69.1" height="29.5" fill="#fff"/><text transform="scale(0.890 1)" y="-2.7" font-size="11" text-anchor="middle">B03</text><text transform="scale(0.890 1)" y="10.8" font-size="11" text-anchor="middle">100.00SQ.YD.</text></g>
<g transform="translate(946 2073)"><rect x="-9.4" y="-6.4" width="18.7" height="12.8" fill="#fff"/><text transform="scale(0.820 1)" y="6.4" font-size="17.5" fill="#1a3a9c" text-anchor="middle">20'</text></g>
<g transform="translate(923 2005.8) rotate(-90)"><rect x="-10.9" y="-7.9" width="21.8" height="15.9" fill="#fff"/><text transform="scale(0.800 1)" y="6.9" font-size="19" fill="#1a3a9c" text-anchor="middle">45'</text></g>
<g transform="translate(1018 2010.8) rotate(90)"><rect x="-34.6" y="-14.8" width="69.1" height="29.5" fill="#fff"/><text transform="scale(0.890 1)" y="-2.7" font-size="11" text-anchor="middle">B02</text><text transform="scale(0.890 1)" y="10.8" font-size="11" text-anchor="middle">100.00SQ.YD.</text></g>
<g transform="translate(1011 2073)"><rect x="-9.4" y="-6.4" width="18.7" height="12.8" fill="#fff"/><text transform="scale(0.820 1)" y="6.4" font-size="17.5" fill="#1a3a9c" text-anchor="middle">20'</text></g>
<g transform="translate(988 2005.8) rotate(-90)"><rect x="-10.9" y="-7.9" width="21.8" height="15.9" fill="#fff"/><text transform="scale(0.800 1)" y="6.9" font-size="19" fill="#1a3a9c" text-anchor="middle">45'</text></g>
<g transform="translate(1082.1 2010.8) rotate(90)"><rect x="-34.6" y="-14.8" width="69.1" height="29.5" fill="#fff"/><text transform="scale(0.890 1)" y="-2.7" font-size="11" text-anchor="middle">B01</text><text transform="scale(0.890 1)" y="10.8" font-size="11" text-anchor="middle">122.00SQ.YD.</text></g>
<g transform="translate(1075.1 2073)"><rect x="-18.3" y="-6.4" width="36.6" height="12.8" fill="#fff"/><text transform="scale(0.820 1)" y="6.4" font-size="17.5" fill="#1a3a9c" text-anchor="middle">18'-9&quot;</text></g>
<g transform="translate(1053 2005.8) rotate(-90)"><rect x="-10.9" y="-7.9" width="21.8" height="15.9" fill="#fff"/><text transform="scale(0.800 1)" y="6.9" font-size="19" fill="#1a3a9c" text-anchor="middle">45'</text></g>
<g transform="translate(1087 1944.5)"><rect x="-19.3" y="-6.8" width="38.7" height="13.7" fill="#fff"/><text transform="scale(0.900 1)" y="5.8" font-size="16" fill="#1a3a9c" text-anchor="middle">30'-2&quot;</text></g>
<g transform="translate(1114 2010) rotate(-76)"><rect x="-13.6" y="-5" width="27.2" height="10" fill="#fff"/><text transform="scale(0.900 1)" y="4" font-size="11" fill="#1a3a9c" text-anchor="middle">46'-5&quot;</text></g>
<g transform="translate(1084 2128) rotate(-76)"><rect x="-16" y="-5" width="32" height="10" fill="#fff"/><text transform="scale(0.900 1)" y="4" font-size="11" fill="#1a3a9c" text-anchor="middle">25'-11&quot;</text></g>
<g transform="translate(735.8 2232.5) rotate(90)"><rect x="-34.6" y="-14.8" width="69.1" height="29.5" fill="#fff"/><text transform="scale(0.890 1)" y="-2.7" font-size="11" text-anchor="middle">A30</text><text transform="scale(0.890 1)" y="10.8" font-size="11" text-anchor="middle">176.81SQ.YD.</text></g>
<g transform="translate(862 2232.5) rotate(90)"><rect x="-34.6" y="-14.8" width="69.1" height="29.5" fill="#fff"/><text transform="scale(0.890 1)" y="-2.7" font-size="11" text-anchor="middle">A29</text><text transform="scale(0.890 1)" y="10.8" font-size="11" text-anchor="middle">200.00SQ.YD.</text></g>
<g transform="translate(737.3 2357) rotate(90)"><rect x="-34.6" y="-14.8" width="69.1" height="29.5" fill="#fff"/><text transform="scale(0.890 1)" y="-2.7" font-size="11" text-anchor="middle">A27</text><text transform="scale(0.890 1)" y="10.8" font-size="11" text-anchor="middle">207.37SQ.YD.</text></g>
<g transform="translate(862 2362) rotate(90)"><rect x="-34.6" y="-14.8" width="69.1" height="29.5" fill="#fff"/><text transform="scale(0.890 1)" y="-2.7" font-size="11" text-anchor="middle">A28</text><text transform="scale(0.890 1)" y="10.8" font-size="11" text-anchor="middle">223.22SQ.YD.</text></g>
<g transform="translate(740.4 2174)"><rect x="-22.8" y="-6.8" width="45.6" height="13.7" fill="#fff"/><text transform="scale(0.900 1)" y="5.8" font-size="16" fill="#1a3a9c" text-anchor="middle">35'-11&quot;</text></g>
<g transform="translate(871 2174)"><rect x="-10.4" y="-6.8" width="20.8" height="13.7" fill="#fff"/><text transform="scale(0.900 1)" y="5.8" font-size="16" fill="#1a3a9c" text-anchor="middle">45'</text></g>
<g transform="translate(677 2232.5) rotate(-79)"><rect x="-19.3" y="-6.8" width="38.7" height="13.7" fill="#fff"/><text transform="scale(0.900 1)" y="5.8" font-size="16" fill="#1a3a9c" text-anchor="middle">40'-9&quot;</text></g>
<g transform="translate(655.7 2343) rotate(-79)"><rect x="-19.3" y="-6.8" width="38.7" height="13.7" fill="#fff"/><text transform="scale(0.900 1)" y="5.8" font-size="16" fill="#1a3a9c" text-anchor="middle">34'-8&quot;</text></g>
<g transform="translate(728 2286.4)"><rect x="-19.3" y="-6.8" width="38.7" height="13.7" fill="#fff"/><text transform="scale(0.900 1)" y="5.8" font-size="16" fill="#1a3a9c" text-anchor="middle">43'-8&quot;</text></g>
<g transform="translate(808 2362) rotate(-90)"><rect x="-19.3" y="-6.8" width="38.7" height="13.7" fill="#fff"/><text transform="scale(0.900 1)" y="5.8" font-size="16" fill="#1a3a9c" text-anchor="middle">44'-8&quot;</text></g>
<g transform="translate(937.5 2362) rotate(-90)"><rect x="-19.3" y="-6.8" width="38.7" height="13.7" fill="#fff"/><text transform="scale(0.900 1)" y="5.8" font-size="16" fill="#1a3a9c" text-anchor="middle">44'-8&quot;</text></g>
<g transform="translate(937.5 2227) rotate(-90)"><rect x="-10.4" y="-6.8" width="20.8" height="13.7" fill="#fff"/><text transform="scale(0.900 1)" y="5.8" font-size="16" fill="#1a3a9c" text-anchor="middle">40'</text></g>
<g transform="translate(872.5 2432)"><rect x="-10.4" y="-6.8" width="20.8" height="13.7" fill="#fff"/><text transform="scale(0.900 1)" y="5.8" font-size="16" fill="#1a3a9c" text-anchor="middle">45'</text></g>
<g transform="translate(719 2415) rotate(13)"><rect x="-19.3" y="-6.8" width="38.7" height="13.7" fill="#fff"/><text transform="scale(0.900 1)" y="5.8" font-size="16" fill="#1a3a9c" text-anchor="middle">51'-5&quot;</text></g>
<g transform="translate(658.6 2575.5) rotate(102)"><rect x="-34.6" y="-14.8" width="69.1" height="29.5" fill="#fff"/><text transform="scale(0.890 1)" y="-2.7" font-size="11" text-anchor="middle">A26</text><text transform="scale(0.890 1)" y="10.8" font-size="11" text-anchor="middle">134.62SQ.YD.</text></g>
<g transform="translate(729.5 2594) rotate(102)"><rect x="-34.6" y="-14.8" width="69.1" height="29.5" fill="#fff"/><text transform="scale(0.890 1)" y="-2.7" font-size="11" text-anchor="middle">A25</text><text transform="scale(0.890 1)" y="10.8" font-size="11" text-anchor="middle">134.66SQ.YD.</text></g>
<g transform="translate(808 2611) rotate(102)"><rect x="-34.6" y="-14.8" width="69.1" height="29.5" fill="#fff"/><text transform="scale(0.890 1)" y="-2.7" font-size="11" text-anchor="middle">A24</text><text transform="scale(0.890 1)" y="10.8" font-size="11" text-anchor="middle">134.66SQ.YD.</text></g>
<g transform="translate(889.7 2620) rotate(102)"><rect x="-34.6" y="-14.8" width="69.1" height="29.5" fill="#fff"/><text transform="scale(0.890 1)" y="-2.7" font-size="11" text-anchor="middle">A23</text><text transform="scale(0.890 1)" y="10.8" font-size="11" text-anchor="middle">134.66SQ.YD.</text></g>
<g transform="translate(963.6 2641.8) rotate(102)"><rect x="-34.6" y="-14.8" width="69.1" height="29.5" fill="#fff"/><text transform="scale(0.890 1)" y="-2.7" font-size="11" text-anchor="middle">A22</text><text transform="scale(0.890 1)" y="10.8" font-size="11" text-anchor="middle">122.58SQ.YD.</text></g>
<g transform="translate(655.5 2500) rotate(12)"><rect x="-22.8" y="-6.8" width="45.6" height="13.7" fill="#fff"/><text transform="scale(0.900 1)" y="5.8" font-size="16" fill="#1a3a9c" text-anchor="middle">24'-11&quot;</text></g>
<g transform="translate(735.6 2519.5) rotate(12)"><rect x="-10.4" y="-6.8" width="20.8" height="13.7" fill="#fff"/><text transform="scale(0.900 1)" y="5.8" font-size="16" fill="#1a3a9c" text-anchor="middle">25'</text></g>
<g transform="translate(816.6 2536) rotate(12)"><rect x="-10.4" y="-6.8" width="20.8" height="13.7" fill="#fff"/><text transform="scale(0.900 1)" y="5.8" font-size="16" fill="#1a3a9c" text-anchor="middle">25'</text></g>
<g transform="translate(895.8 2553.4) rotate(12)"><rect x="-10.4" y="-6.8" width="20.8" height="13.7" fill="#fff"/><text transform="scale(0.900 1)" y="5.8" font-size="16" fill="#1a3a9c" text-anchor="middle">25'</text></g>
<g transform="translate(971.3 2569.4) rotate(12)"><rect x="-19.3" y="-6.8" width="38.7" height="13.7" fill="#fff"/><text transform="scale(0.900 1)" y="5.8" font-size="16" fill="#1a3a9c" text-anchor="middle">22'-7&quot;</text></g>
<g transform="translate(631.5 2640) rotate(12)"><rect x="-19.3" y="-6.8" width="38.7" height="13.7" fill="#fff"/><text transform="scale(0.900 1)" y="5.8" font-size="16" fill="#1a3a9c" text-anchor="middle">25'-1&quot;</text></g>
<g transform="translate(711 2659.3) rotate(12)"><rect x="-10.4" y="-6.8" width="20.8" height="13.7" fill="#fff"/><text transform="scale(0.900 1)" y="5.8" font-size="16" fill="#1a3a9c" text-anchor="middle">25'</text></g>
<g transform="translate(791 2676.6) rotate(12)"><rect x="-10.4" y="-6.8" width="20.8" height="13.7" fill="#fff"/><text transform="scale(0.900 1)" y="5.8" font-size="16" fill="#1a3a9c" text-anchor="middle">25'</text></g>
<g transform="translate(871 2693) rotate(12)"><rect x="-10.4" y="-6.8" width="20.8" height="13.7" fill="#fff"/><text transform="scale(0.900 1)" y="5.8" font-size="16" fill="#1a3a9c" text-anchor="middle">25'</text></g>
<g transform="translate(946.7 2711) rotate(12)"><rect x="-22.8" y="-6.8" width="45.6" height="13.7" fill="#fff"/><text transform="scale(0.900 1)" y="5.8" font-size="16" fill="#1a3a9c" text-anchor="middle">22'-11&quot;</text></g>
<g transform="translate(577 2632.5) rotate(12)"><rect x="-15.3" y="-6.8" width="30.7" height="13.7" fill="#fff"/><text transform="scale(0.900 1)" y="5.8" font-size="16" fill="#1a3a9c" text-anchor="middle">1'-6&quot;</text></g>
<g transform="translate(614 2564.8) rotate(-78)"><rect x="-19.3" y="-6.8" width="38.7" height="13.7" fill="#fff"/><text transform="scale(0.900 1)" y="5.8" font-size="16" fill="#1a3a9c" text-anchor="middle">48'-5&quot;</text></g>
<g transform="translate(692.5 2583) rotate(-78)"><rect x="-19.3" y="-6.8" width="38.7" height="13.7" fill="#fff"/><text transform="scale(0.900 1)" y="5.8" font-size="16" fill="#1a3a9c" text-anchor="middle">48'-5&quot;</text></g>
<g transform="translate(772.6 2600) rotate(-78)"><rect x="-19.3" y="-6.8" width="38.7" height="13.7" fill="#fff"/><text transform="scale(0.900 1)" y="5.8" font-size="16" fill="#1a3a9c" text-anchor="middle">48'-5&quot;</text></g>
<g transform="translate(852.7 2615.6) rotate(-78)"><rect x="-19.3" y="-6.8" width="38.7" height="13.7" fill="#fff"/><text transform="scale(0.900 1)" y="5.8" font-size="16" fill="#1a3a9c" text-anchor="middle">48'-5&quot;</text></g>
<g transform="translate(932.8 2632.5) rotate(-78)"><rect x="-19.3" y="-6.8" width="38.7" height="13.7" fill="#fff"/><text transform="scale(0.900 1)" y="5.8" font-size="16" fill="#1a3a9c" text-anchor="middle">48'-6&quot;</text></g>
<g transform="translate(986.7 2644.9) rotate(-78)"><rect x="-19.3" y="-6.8" width="38.7" height="13.7" fill="#fff"/><text transform="scale(0.900 1)" y="5.8" font-size="16" fill="#1a3a9c" text-anchor="middle">48'-4&quot;</text></g>
<g transform="translate(1076.3 2669.8) rotate(97.1)"><rect x="-34.6" y="-14.8" width="69.1" height="29.5" fill="#fff"/><text transform="scale(0.890 1)" y="-2.7" font-size="11" text-anchor="middle">A21</text><text transform="scale(0.890 1)" y="10.8" font-size="11" text-anchor="middle">267.90SQ.YD.</text></g>
<g transform="translate(1080.3 2585) rotate(7.1)"><rect x="-10.4" y="-6.8" width="20.8" height="13.7" fill="#fff"/><text transform="scale(0.900 1)" y="5.8" font-size="16" fill="#1a3a9c" text-anchor="middle">44'</text></g>
<g transform="translate(1005.3 2656) rotate(-82.9)"><rect x="-23.3" y="-6.8" width="46.7" height="13.7" fill="#fff"/><text transform="scale(0.900 1)" y="5.8" font-size="16" fill="#1a3a9c" text-anchor="middle">54'-10&quot;</text></g>
<g transform="translate(1128.6 2671.8) rotate(-82.9)"><rect x="-10.4" y="-6.8" width="20.8" height="13.7" fill="#fff"/><text transform="scale(0.900 1)" y="5.8" font-size="16" fill="#1a3a9c" text-anchor="middle">55'</text></g>
<g transform="translate(1047.6 2745.2) rotate(7.1)"><rect x="-10.4" y="-6.8" width="20.8" height="13.7" fill="#fff"/><text transform="scale(0.900 1)" y="5.8" font-size="16" fill="#1a3a9c" text-anchor="middle">44'</text></g>
<g transform="translate(1048.2 2779.8) rotate(7.1)"><rect x="-31.8" y="-15.5" width="63.7" height="31" fill="#fff"/><text transform="scale(0.890 1)" y="-3.5" font-size="11" text-anchor="middle">A20</text><text transform="scale(0.890 1)" y="11.5" font-size="11" text-anchor="middle">97.77SQ.YD.</text></g>
<g transform="translate(982.2 2777) rotate(-82.9)"><rect x="-10.4" y="-6.8" width="20.8" height="13.7" fill="#fff"/><text transform="scale(0.900 1)" y="5.8" font-size="16" fill="#1a3a9c" text-anchor="middle">20'</text></g>
<g transform="translate(1106.1 2792.6) rotate(-82.9)"><rect x="-10.4" y="-6.8" width="20.8" height="13.7" fill="#fff"/><text transform="scale(0.900 1)" y="5.8" font-size="16" fill="#1a3a9c" text-anchor="middle">20'</text></g>
<g transform="translate(1036.6 2809.5) rotate(7.1)"><rect x="-22.8" y="-6.8" width="45.6" height="13.7" fill="#fff"/><text transform="scale(0.900 1)" y="5.8" font-size="16" fill="#1a3a9c" text-anchor="middle">43'-11&quot;</text></g>
<g transform="translate(1037.1 2844.1) rotate(7.1)"><rect x="-31.8" y="-15.5" width="63.7" height="31" fill="#fff"/><text transform="scale(0.890 1)" y="-3.5" font-size="11" text-anchor="middle">A19</text><text transform="scale(0.890 1)" y="11.5" font-size="11" text-anchor="middle">97.77SQ.YD.</text></g>
<g transform="translate(971.3 2841.4) rotate(-82.9)"><rect x="-10.4" y="-6.8" width="20.8" height="13.7" fill="#fff"/><text transform="scale(0.900 1)" y="5.8" font-size="16" fill="#1a3a9c" text-anchor="middle">20'</text></g>
<g transform="translate(1094.9 2856.9) rotate(-82.9)"><rect x="-10.4" y="-6.8" width="20.8" height="13.7" fill="#fff"/><text transform="scale(0.900 1)" y="5.8" font-size="16" fill="#1a3a9c" text-anchor="middle">20'</text></g>
<g transform="translate(1025.5 2873.8) rotate(7.1)"><rect x="-10.4" y="-6.8" width="20.8" height="13.7" fill="#fff"/><text transform="scale(0.900 1)" y="5.8" font-size="16" fill="#1a3a9c" text-anchor="middle">44'</text></g>
<g transform="translate(1026 2908.4) rotate(7.1)"><rect x="-31.8" y="-15.5" width="63.7" height="31" fill="#fff"/><text transform="scale(0.890 1)" y="-3.5" font-size="11" text-anchor="middle">A18</text><text transform="scale(0.890 1)" y="11.5" font-size="11" text-anchor="middle">97.77SQ.YD.</text></g>
<g transform="translate(960.3 2905.8) rotate(-82.9)"><rect x="-10.4" y="-6.8" width="20.8" height="13.7" fill="#fff"/><text transform="scale(0.900 1)" y="5.8" font-size="16" fill="#1a3a9c" text-anchor="middle">20'</text></g>
<g transform="translate(1083.8 2921.1) rotate(-82.9)"><rect x="-10.4" y="-6.8" width="20.8" height="13.7" fill="#fff"/><text transform="scale(0.900 1)" y="5.8" font-size="16" fill="#1a3a9c" text-anchor="middle">20'</text></g>
<g transform="translate(1014.4 2938.2) rotate(7.1)"><rect x="-23.3" y="-6.8" width="46.7" height="13.7" fill="#fff"/><text transform="scale(0.900 1)" y="5.8" font-size="16" fill="#1a3a9c" text-anchor="middle">43'-10&quot;</text></g>
<g transform="translate(1015 2972.8) rotate(7.1)"><rect x="-31.8" y="-15.5" width="63.7" height="31" fill="#fff"/><text transform="scale(0.890 1)" y="-3.5" font-size="11" text-anchor="middle">A17</text><text transform="scale(0.890 1)" y="11.5" font-size="11" text-anchor="middle">97.77SQ.YD.</text></g>
<g transform="translate(949.3 2970.2) rotate(-82.9)"><rect x="-10.4" y="-6.8" width="20.8" height="13.7" fill="#fff"/><text transform="scale(0.900 1)" y="5.8" font-size="16" fill="#1a3a9c" text-anchor="middle">20'</text></g>
<g transform="translate(1072.6 2985.3) rotate(-82.9)"><rect x="-10.4" y="-6.8" width="20.8" height="13.7" fill="#fff"/><text transform="scale(0.900 1)" y="5.8" font-size="16" fill="#1a3a9c" text-anchor="middle">20'</text></g>
<g transform="translate(1003.3 3002.5) rotate(7.1)"><rect x="-23.3" y="-6.8" width="46.7" height="13.7" fill="#fff"/><text transform="scale(0.900 1)" y="5.8" font-size="16" fill="#1a3a9c" text-anchor="middle">43'-10&quot;</text></g>
<g transform="translate(1003.9 3037.1) rotate(7.1)"><rect x="-31.8" y="-15.5" width="63.7" height="31" fill="#fff"/><text transform="scale(0.890 1)" y="-3.5" font-size="11" text-anchor="middle">A16</text><text transform="scale(0.890 1)" y="11.5" font-size="11" text-anchor="middle">97.77SQ.YD.</text></g>
<g transform="translate(938.4 3034.6) rotate(-82.9)"><rect x="-10.4" y="-6.8" width="20.8" height="13.7" fill="#fff"/><text transform="scale(0.900 1)" y="5.8" font-size="16" fill="#1a3a9c" text-anchor="middle">20'</text></g>
<g transform="translate(1061.4 3049.6) rotate(-82.9)"><rect x="-10.4" y="-6.8" width="20.8" height="13.7" fill="#fff"/><text transform="scale(0.900 1)" y="5.8" font-size="16" fill="#1a3a9c" text-anchor="middle">20'</text></g>
<g transform="translate(992.3 3066.8) rotate(7.1)"><rect x="-23.3" y="-6.8" width="46.7" height="13.7" fill="#fff"/><text transform="scale(0.900 1)" y="5.8" font-size="16" fill="#1a3a9c" text-anchor="middle">43'-10&quot;</text></g>
<g transform="translate(992.8 3101.4) rotate(7.1)"><rect x="-31.8" y="-15.5" width="63.7" height="31" fill="#fff"/><text transform="scale(0.890 1)" y="-3.5" font-size="11" text-anchor="middle">A15</text><text transform="scale(0.890 1)" y="11.5" font-size="11" text-anchor="middle">97.77SQ.YD.</text></g>
<g transform="translate(927.4 3099) rotate(-82.9)"><rect x="-10.4" y="-6.8" width="20.8" height="13.7" fill="#fff"/><text transform="scale(0.900 1)" y="5.8" font-size="16" fill="#1a3a9c" text-anchor="middle">20'</text></g>
<g transform="translate(1050.3 3113.8) rotate(-82.9)"><rect x="-10.4" y="-6.8" width="20.8" height="13.7" fill="#fff"/><text transform="scale(0.900 1)" y="5.8" font-size="16" fill="#1a3a9c" text-anchor="middle">20'</text></g>
<g transform="translate(981.2 3131.1) rotate(7.1)"><rect x="-22.8" y="-6.8" width="45.6" height="13.7" fill="#fff"/><text transform="scale(0.900 1)" y="5.8" font-size="16" fill="#1a3a9c" text-anchor="middle">43'-11&quot;</text></g>
<g transform="translate(981.8 3165.7) rotate(7.1)"><rect x="-31.8" y="-15.5" width="63.7" height="31" fill="#fff"/><text transform="scale(0.890 1)" y="-3.5" font-size="11" text-anchor="middle">A14</text><text transform="scale(0.890 1)" y="11.5" font-size="11" text-anchor="middle">97.77SQ.YD.</text></g>
<g transform="translate(916.5 3163.4) rotate(-82.9)"><rect x="-10.4" y="-6.8" width="20.8" height="13.7" fill="#fff"/><text transform="scale(0.900 1)" y="5.8" font-size="16" fill="#1a3a9c" text-anchor="middle">20'</text></g>
<g transform="translate(1039.1 3178.1) rotate(-82.9)"><rect x="-10.4" y="-6.8" width="20.8" height="13.7" fill="#fff"/><text transform="scale(0.900 1)" y="5.8" font-size="16" fill="#1a3a9c" text-anchor="middle">20'</text></g>
<g transform="translate(970.1 3195.4) rotate(7.1)"><rect x="-10.4" y="-6.8" width="20.8" height="13.7" fill="#fff"/><text transform="scale(0.900 1)" y="5.8" font-size="16" fill="#1a3a9c" text-anchor="middle">44'</text></g>
<g transform="translate(966.7 3224.2) rotate(7.1)"><rect x="-34.6" y="-15.5" width="69.1" height="31" fill="#fff"/><text transform="scale(0.890 1)" y="-3.5" font-size="11" text-anchor="middle">A12B</text><text transform="scale(0.890 1)" y="11.5" font-size="11" text-anchor="middle">105.72SQ.YD.</text></g>
<g transform="translate(955.6 3257.4) rotate(9.5)"><rect x="-19.3" y="-6.8" width="38.7" height="13.7" fill="#fff"/><text transform="scale(0.900 1)" y="5.8" font-size="16" fill="#1a3a9c" text-anchor="middle">47'-9&quot;</text></g>
<g transform="translate(1027.7 3244.5) rotate(-82.9)"><rect x="-22.8" y="-6.8" width="45.6" height="13.7" fill="#fff"/><text transform="scale(0.900 1)" y="5.8" font-size="16" fill="#1a3a9c" text-anchor="middle">20'-11&quot;</text></g>
<g transform="translate(1310.1 2528.7) rotate(6.7)"><rect x="-10.4" y="-6.8" width="20.8" height="13.7" fill="#fff"/><text transform="scale(0.900 1)" y="5.8" font-size="16" fill="#1a3a9c" text-anchor="middle">44'</text></g>
<g transform="translate(1303.2 2592.7) rotate(6.7)"><rect x="-23.3" y="-6.8" width="46.7" height="13.7" fill="#fff"/><text transform="scale(0.900 1)" y="5.8" font-size="16" fill="#1a3a9c" text-anchor="middle">43'-10&quot;</text></g>
<g transform="translate(1308 2559.5) rotate(6.7)"><rect x="-31.8" y="-15.5" width="63.7" height="31" fill="#fff"/><text transform="scale(0.890 1)" y="-3.5" font-size="11" text-anchor="middle">A01</text><text transform="scale(0.890 1)" y="11.5" font-size="11" text-anchor="middle">97.00SQ.YD.</text></g>
<g transform="translate(1243.9 2546.2) rotate(-83.3)"><rect x="-19.3" y="-6.8" width="38.7" height="13.7" fill="#fff"/><text transform="scale(0.900 1)" y="5.8" font-size="16" fill="#1a3a9c" text-anchor="middle">19'-8&quot;</text></g>
<g transform="translate(1368.1 2560.8) rotate(-83.3)"><rect x="-10.4" y="-6.8" width="20.8" height="13.7" fill="#fff"/><text transform="scale(0.900 1)" y="5.8" font-size="16" fill="#1a3a9c" text-anchor="middle">20'</text></g>
<g transform="translate(1293.1 2657.4) rotate(6.7)"><rect x="-19.3" y="-6.8" width="38.7" height="13.7" fill="#fff"/><text transform="scale(0.900 1)" y="5.8" font-size="16" fill="#1a3a9c" text-anchor="middle">43'-9&quot;</text></g>
<g transform="translate(1298 2623.6) rotate(6.7)"><rect x="-31.8" y="-15.5" width="63.7" height="31" fill="#fff"/><text transform="scale(0.890 1)" y="-3.5" font-size="11" text-anchor="middle">A02</text><text transform="scale(0.890 1)" y="11.5" font-size="11" text-anchor="middle">97.36SQ.YD.</text></g>
<g transform="translate(1234.9 2610.3) rotate(-83.3)"><rect x="-10.4" y="-6.8" width="20.8" height="13.7" fill="#fff"/><text transform="scale(0.900 1)" y="5.8" font-size="16" fill="#1a3a9c" text-anchor="middle">20'</text></g>
<g transform="translate(1357.1 2625) rotate(-83.3)"><rect x="-10.4" y="-6.8" width="20.8" height="13.7" fill="#fff"/><text transform="scale(0.900 1)" y="5.8" font-size="16" fill="#1a3a9c" text-anchor="middle">20'</text></g>
<g transform="translate(1282.9 2722.1) rotate(6.7)"><rect x="-19.3" y="-6.8" width="38.7" height="13.7" fill="#fff"/><text transform="scale(0.900 1)" y="5.8" font-size="16" fill="#1a3a9c" text-anchor="middle">43'-9&quot;</text></g>
<g transform="translate(1287.9 2688.3) rotate(6.7)"><rect x="-31.8" y="-15.5" width="63.7" height="31" fill="#fff"/><text transform="scale(0.890 1)" y="-3.5" font-size="11" text-anchor="middle">A03</text><text transform="scale(0.890 1)" y="11.5" font-size="11" text-anchor="middle">97.22SQ.YD.</text></g>
<g transform="translate(1224.8 2674.8) rotate(-83.3)"><rect x="-10.4" y="-6.8" width="20.8" height="13.7" fill="#fff"/><text transform="scale(0.900 1)" y="5.8" font-size="16" fill="#1a3a9c" text-anchor="middle">20'</text></g>
<g transform="translate(1347 2689.9) rotate(-83.3)"><rect x="-10.4" y="-6.8" width="20.8" height="13.7" fill="#fff"/><text transform="scale(0.900 1)" y="5.8" font-size="16" fill="#1a3a9c" text-anchor="middle">20'</text></g>
<g transform="translate(1272.7 2786.9) rotate(6.7)"><rect x="-19.3" y="-6.8" width="38.7" height="13.7" fill="#fff"/><text transform="scale(0.900 1)" y="5.8" font-size="16" fill="#1a3a9c" text-anchor="middle">43'-8&quot;</text></g>
<g transform="translate(1277.7 2753.1) rotate(6.7)"><rect x="-31.5" y="-15.5" width="63" height="31" fill="#fff"/><text transform="scale(0.890 1)" y="-3.5" font-size="11" text-anchor="middle">A04</text><text transform="scale(0.890 1)" y="11.5" font-size="11" text-anchor="middle">97.11SQ.YD.</text></g>
<g transform="translate(1214.6 2739.3) rotate(-83.3)"><rect x="-10.4" y="-6.8" width="20.8" height="13.7" fill="#fff"/><text transform="scale(0.900 1)" y="5.8" font-size="16" fill="#1a3a9c" text-anchor="middle">20'</text></g>
<g transform="translate(1336.8 2754.8) rotate(-83.3)"><rect x="-10.4" y="-6.8" width="20.8" height="13.7" fill="#fff"/><text transform="scale(0.900 1)" y="5.8" font-size="16" fill="#1a3a9c" text-anchor="middle">20'</text></g>
<g transform="translate(1262.5 2851.6) rotate(6.7)"><rect x="-19.3" y="-6.8" width="38.7" height="13.7" fill="#fff"/><text transform="scale(0.900 1)" y="5.8" font-size="16" fill="#1a3a9c" text-anchor="middle">43'-8&quot;</text></g>
<g transform="translate(1267.6 2817.8) rotate(6.7)"><rect x="-31.8" y="-15.5" width="63.7" height="31" fill="#fff"/><text transform="scale(0.890 1)" y="-3.5" font-size="11" text-anchor="middle">A05</text><text transform="scale(0.890 1)" y="11.5" font-size="11" text-anchor="middle">97.00SQ.YD.</text></g>
<g transform="translate(1204.4 2803.9) rotate(-83.3)"><rect x="-10.4" y="-6.8" width="20.8" height="13.7" fill="#fff"/><text transform="scale(0.900 1)" y="5.8" font-size="16" fill="#1a3a9c" text-anchor="middle">20'</text></g>
<g transform="translate(1326.7 2819.7) rotate(-83.3)"><rect x="-10.4" y="-6.8" width="20.8" height="13.7" fill="#fff"/><text transform="scale(0.900 1)" y="5.8" font-size="16" fill="#1a3a9c" text-anchor="middle">20'</text></g>
<g transform="translate(1252.4 2916.3) rotate(6.7)"><rect x="-19.3" y="-6.8" width="38.7" height="13.7" fill="#fff"/><text transform="scale(0.900 1)" y="5.8" font-size="16" fill="#1a3a9c" text-anchor="middle">43'-8&quot;</text></g>
<g transform="translate(1257.4 2882.5) rotate(6.7)"><rect x="-31.8" y="-15.5" width="63.7" height="31" fill="#fff"/><text transform="scale(0.890 1)" y="-3.5" font-size="11" text-anchor="middle">A06</text><text transform="scale(0.890 1)" y="11.5" font-size="11" text-anchor="middle">97.00SQ.YD.</text></g>
<g transform="translate(1194.3 2868.4) rotate(-83.3)"><rect x="-10.4" y="-6.8" width="20.8" height="13.7" fill="#fff"/><text transform="scale(0.900 1)" y="5.8" font-size="16" fill="#1a3a9c" text-anchor="middle">20'</text></g>
<g transform="translate(1316.6 2884.6) rotate(-83.3)"><rect x="-10.4" y="-6.8" width="20.8" height="13.7" fill="#fff"/><text transform="scale(0.900 1)" y="5.8" font-size="16" fill="#1a3a9c" text-anchor="middle">20'</text></g>
<g transform="translate(1242.2 2981) rotate(6.7)"><rect x="-19.3" y="-6.8" width="38.7" height="13.7" fill="#fff"/><text transform="scale(0.900 1)" y="5.8" font-size="16" fill="#1a3a9c" text-anchor="middle">43'-8&quot;</text></g>
<g transform="translate(1247.3 2947.2) rotate(6.7)"><rect x="-31.8" y="-15.5" width="63.7" height="31" fill="#fff"/><text transform="scale(0.890 1)" y="-3.5" font-size="11" text-anchor="middle">A07</text><text transform="scale(0.890 1)" y="11.5" font-size="11" text-anchor="middle">97.00SQ.YD.</text></g>
<g transform="translate(1184.1 2932.9) rotate(-83.3)"><rect x="-10.4" y="-6.8" width="20.8" height="13.7" fill="#fff"/><text transform="scale(0.900 1)" y="5.8" font-size="16" fill="#1a3a9c" text-anchor="middle">20'</text></g>
<g transform="translate(1306.4 2949.6) rotate(-83.3)"><rect x="-10.4" y="-6.8" width="20.8" height="13.7" fill="#fff"/><text transform="scale(0.900 1)" y="5.8" font-size="16" fill="#1a3a9c" text-anchor="middle">20'</text></g>
<g transform="translate(1232 3045.8) rotate(6.7)"><rect x="-19.3" y="-6.8" width="38.7" height="13.7" fill="#fff"/><text transform="scale(0.900 1)" y="5.8" font-size="16" fill="#1a3a9c" text-anchor="middle">43'-8&quot;</text></g>
<g transform="translate(1237.1 3012) rotate(6.7)"><rect x="-31.8" y="-15.5" width="63.7" height="31" fill="#fff"/><text transform="scale(0.890 1)" y="-3.5" font-size="11" text-anchor="middle">A08</text><text transform="scale(0.890 1)" y="11.5" font-size="11" text-anchor="middle">97.00SQ.YD.</text></g>
<g transform="translate(1174 2997.4) rotate(-83.3)"><rect x="-10.4" y="-6.8" width="20.8" height="13.7" fill="#fff"/><text transform="scale(0.900 1)" y="5.8" font-size="16" fill="#1a3a9c" text-anchor="middle">20'</text></g>
<g transform="translate(1296.3 3014.5) rotate(-83.3)"><rect x="-10.4" y="-6.8" width="20.8" height="13.7" fill="#fff"/><text transform="scale(0.900 1)" y="5.8" font-size="16" fill="#1a3a9c" text-anchor="middle">20'</text></g>
<g transform="translate(1221.9 3110.5) rotate(6.7)"><rect x="-19.3" y="-6.8" width="38.7" height="13.7" fill="#fff"/><text transform="scale(0.900 1)" y="5.8" font-size="16" fill="#1a3a9c" text-anchor="middle">43'-7&quot;</text></g>
<g transform="translate(1227 3076.7) rotate(6.7)"><rect x="-31.8" y="-15.5" width="63.7" height="31" fill="#fff"/><text transform="scale(0.890 1)" y="-3.5" font-size="11" text-anchor="middle">A09</text><text transform="scale(0.890 1)" y="11.5" font-size="11" text-anchor="middle">97.00SQ.YD.</text></g>
<g transform="translate(1163.8 3062) rotate(-83.3)"><rect x="-10.4" y="-6.8" width="20.8" height="13.7" fill="#fff"/><text transform="scale(0.900 1)" y="5.8" font-size="16" fill="#1a3a9c" text-anchor="middle">20'</text></g>
<g transform="translate(1286.2 3079.4) rotate(-83.3)"><rect x="-10.4" y="-6.8" width="20.8" height="13.7" fill="#fff"/><text transform="scale(0.900 1)" y="5.8" font-size="16" fill="#1a3a9c" text-anchor="middle">20'</text></g>
<g transform="translate(1211.7 3175.2) rotate(6.7)"><rect x="-19.3" y="-6.8" width="38.7" height="13.7" fill="#fff"/><text transform="scale(0.900 1)" y="5.8" font-size="16" fill="#1a3a9c" text-anchor="middle">43'-6&quot;</text></g>
<g transform="translate(1216.8 3141.4) rotate(6.7)"><rect x="-31.8" y="-15.5" width="63.7" height="31" fill="#fff"/><text transform="scale(0.890 1)" y="-3.5" font-size="11" text-anchor="middle">A10</text><text transform="scale(0.890 1)" y="11.5" font-size="11" text-anchor="middle">96.71SQ.YD.</text></g>
<g transform="translate(1153.6 3126.5) rotate(-83.3)"><rect x="-10.4" y="-6.8" width="20.8" height="13.7" fill="#fff"/><text transform="scale(0.900 1)" y="5.8" font-size="16" fill="#1a3a9c" text-anchor="middle">20'</text></g>
<g transform="translate(1276 3144.3) rotate(-83.3)"><rect x="-10.4" y="-6.8" width="20.8" height="13.7" fill="#fff"/><text transform="scale(0.900 1)" y="5.8" font-size="16" fill="#1a3a9c" text-anchor="middle">20'</text></g>
<g transform="translate(1201.5 3239.9) rotate(6.7)"><rect x="-19.3" y="-6.8" width="38.7" height="13.7" fill="#fff"/><text transform="scale(0.900 1)" y="5.8" font-size="16" fill="#1a3a9c" text-anchor="middle">43'-5&quot;</text></g>
<g transform="translate(1206.7 3206.1) rotate(6.7)"><rect x="-31.8" y="-15.5" width="63.7" height="31" fill="#fff"/><text transform="scale(0.890 1)" y="-3.5" font-size="11" text-anchor="middle">A11</text><text transform="scale(0.890 1)" y="11.5" font-size="11" text-anchor="middle">96.53SQ.YD.</text></g>
<g transform="translate(1143.5 3191) rotate(-83.3)"><rect x="-10.4" y="-6.8" width="20.8" height="13.7" fill="#fff"/><text transform="scale(0.900 1)" y="5.8" font-size="16" fill="#1a3a9c" text-anchor="middle">20'</text></g>
<g transform="translate(1265.9 3209.2) rotate(-83.3)"><rect x="-10.4" y="-6.8" width="20.8" height="13.7" fill="#fff"/><text transform="scale(0.900 1)" y="5.8" font-size="16" fill="#1a3a9c" text-anchor="middle">20'</text></g>
<g transform="translate(1196.2 3274.9) rotate(6.7)"><rect x="-34.2" y="-15.5" width="68.4" height="31" fill="#fff"/><text transform="scale(0.890 1)" y="-3.5" font-size="11" text-anchor="middle">A-12</text><text transform="scale(0.890 1)" y="11.5" font-size="11" text-anchor="middle">113.14SQ.YD.</text></g>
<g transform="translate(1133.2 3259.2) rotate(-83.3)"><rect x="-19.3" y="-6.8" width="38.7" height="13.7" fill="#fff"/><text transform="scale(0.900 1)" y="5.8" font-size="16" fill="#1a3a9c" text-anchor="middle">22'-8&quot;</text></g>
<g transform="translate(1255.2 3278.6) rotate(-83.3)"><rect x="-19.3" y="-6.8" width="38.7" height="13.7" fill="#fff"/><text transform="scale(0.900 1)" y="5.8" font-size="16" fill="#1a3a9c" text-anchor="middle">24'-1&quot;</text></g>
<g transform="translate(1146 3290) rotate(9.3)"><rect x="-19.3" y="-6.8" width="38.7" height="13.7" fill="#fff"/><text transform="scale(0.900 1)" y="5.8" font-size="16" fill="#1a3a9c" text-anchor="middle">17'-3&quot;</text></g>
<g transform="translate(1213 3301) rotate(9.3)"><rect x="-19.3" y="-6.8" width="38.7" height="13.7" fill="#fff"/><text transform="scale(0.900 1)" y="5.8" font-size="16" fill="#1a3a9c" text-anchor="middle">26'-1&quot;</text></g>
<g transform="translate(1046 2232.5) rotate(90)"><rect x="-43.5" y="-5.1" width="87.1" height="10.3" fill="#fff"/><text transform="scale(0.850 1)" y="3.6" font-size="10" fill="#1a3a9c" text-anchor="middle">86.10SQ.YD.TEMPLE</text></g>
<g transform="translate(1054 2172.4)"><rect x="-13.6" y="-5" width="27.2" height="10" fill="#fff"/><text transform="scale(0.900 1)" y="4" font-size="11" fill="#1a3a9c" text-anchor="middle">17'-4&quot;</text></g>
<g transform="translate(1068 2197) rotate(-79)"><rect x="-15" y="-4.6" width="29.9" height="9.3" fill="#fff"/><text transform="scale(0.900 1)" y="3.6" font-size="10" fill="#1a3a9c" text-anchor="middle">21'-10&quot;</text></g>
<g transform="translate(1035.5 2316) rotate(-90)"><rect x="-12.5" y="-4.6" width="24.9" height="9.3" fill="#fff"/><text transform="scale(0.900 1)" y="3.6" font-size="10" fill="#1a3a9c" text-anchor="middle">93'-8&quot;</text></g>
<g transform="translate(1038.6 2351) rotate(-81)"><rect x="-12.5" y="-4.6" width="24.9" height="9.3" fill="#fff"/><text transform="scale(0.900 1)" y="3.6" font-size="10" fill="#1a3a9c" text-anchor="middle">73'-4&quot;</text></g>
<g transform="translate(1219.4 622.6) rotate(81.8)"><rect x="-33.4" y="-11.8" width="66.8" height="23.7" fill="#fff"/><text transform="scale(0.750 1)" y="9.8" font-size="27" fill="#000" text-anchor="middle" class="bt">219'-6&quot;</text></g>
<g transform="translate(1229.2 1412.4) rotate(-84.5)"><rect x="-33.4" y="-11.8" width="66.8" height="23.7" fill="#fff"/><text transform="scale(0.750 1)" y="9.8" font-size="27" fill="#000" text-anchor="middle" class="bt">264'-2&quot;</text></g>
<g transform="translate(1144.5 2009.4) rotate(-75.6)"><rect x="-33.4" y="-11.8" width="66.8" height="23.7" fill="#fff"/><text transform="scale(0.750 1)" y="9.8" font-size="27" fill="#000" text-anchor="middle" class="bt">105'-9&quot;</text></g>
<g transform="translate(1072.7 2335.7) rotate(-79.7)"><rect x="-33.4" y="-11.8" width="66.8" height="23.7" fill="#fff"/><text transform="scale(0.750 1)" y="9.8" font-size="27" fill="#000" text-anchor="middle" class="bt">97'-10&quot;</text></g>
<g transform="translate(400 1303) rotate(-90)"><rect x="-35" y="-10.7" width="70" height="21.5" fill="#fff"/><text transform="scale(0.886 1)" y="8.7" font-size="24" fill="#000" text-anchor="middle" class="bt">495'-1&quot;</text></g>
<g transform="translate(544.9 2172.2) rotate(12.9)"><rect x="-27.8" y="-11.8" width="55.6" height="23.7" fill="#fff"/><text transform="scale(0.750 1)" y="9.8" font-size="27" fill="#000" text-anchor="middle" class="bt">80'-6&quot;</text></g>
<g transform="translate(608.4 2394.9) rotate(-79.2)"><rect x="-39.1" y="-11.8" width="78.1" height="23.7" fill="#fff"/><text transform="scale(0.750 1)" y="9.8" font-size="27" fill="#000" text-anchor="middle" class="bt">148'-10&quot;</text></g>
<g transform="translate(781.6 2702.7) rotate(11.8)"><rect x="-20.8" y="-11.8" width="41.7" height="23.7" fill="#fff"/><text transform="scale(0.750 1)" y="9.8" font-size="27" fill="#000" text-anchor="middle" class="bt">123'</text></g>
<g transform="translate(922.8 2955.3) rotate(-80.2)"><rect x="-33.4" y="-11.8" width="66.8" height="23.7" fill="#fff"/><text transform="scale(0.750 1)" y="9.8" font-size="27" fill="#000" text-anchor="middle" class="bt">146'-9&quot;</text></g>
<g transform="translate(1349.7 2927.7) rotate(-81.1)"><rect x="-33.4" y="-11.8" width="66.8" height="23.7" fill="#fff"/><text transform="scale(0.750 1)" y="9.8" font-size="27" fill="#000" text-anchor="middle" class="bt">244'-3&quot;</text></g>
<g transform="translate(1066.2 3298.2) rotate(9.3)"><rect x="-32.7" y="-11.8" width="65.3" height="23.7" fill="#fff"/><text transform="scale(0.750 1)" y="9.8" font-size="27" fill="#000" text-anchor="middle" class="bt">118'-4&quot;</text></g>
<g transform="translate(1206.4 2481) rotate(6.5)"><rect x="-38.3" y="-11.8" width="76.6" height="23.7" fill="#fff"/><text transform="scale(0.750 1)" y="9.8" font-size="27" fill="#000" text-anchor="middle" class="bt">110'-10&quot;</text></g>
<g transform="translate(872.4 3222.3) rotate(-80)"><rect x="-15.2" y="-11.8" width="30.4" height="23.7" fill="#fff"/><text transform="scale(0.750 1)" y="9.8" font-size="27" fill="#000" text-anchor="middle" class="bt">19'</text></g>
<g transform="translate(892.8 3185.4) rotate(-80)"><text transform="scale(0.750 1)" y="9.8" font-size="27" fill="#000" text-anchor="middle" class="bt">4'</text></g>
<g transform="translate(763.5 873.5)"><text transform="scale(0.695 1)" y="7.5" font-size="20.6" fill="#000" text-anchor="middle" class="bt">25'-0&quot;  WIDE ROAD  ROAD</text></g>
<g transform="translate(1088.5 873.5)"><text transform="scale(0.695 1)" y="7.5" font-size="20.6" fill="#000" text-anchor="middle" class="bt">25'-0&quot;  WIDE ROAD  ROAD</text></g>
<g transform="translate(763.5 1323.5)"><text transform="scale(0.695 1)" y="7.5" font-size="20.6" fill="#000" text-anchor="middle" class="bt">25'-0&quot;  WIDE ROAD  ROAD</text></g>
<g transform="translate(1088.5 1323.5)"><text transform="scale(0.695 1)" y="7.5" font-size="20.6" fill="#000" text-anchor="middle" class="bt">25'-0&quot;  WIDE ROAD  ROAD</text></g>
<g transform="translate(746.5 1751)"><text transform="scale(0.695 1)" y="7.5" font-size="20.6" fill="#000" text-anchor="middle" class="bt">25'-0&quot;  WIDE ROAD  ROAD</text></g>
<g transform="translate(1071.5 1751)"><text transform="scale(0.695 1)" y="7.5" font-size="20.6" fill="#000" text-anchor="middle" class="bt">25'-0&quot;  WIDE ROAD  ROAD</text></g>
<g transform="translate(812.5 2120)"><text transform="scale(0.695 1)" y="7.5" font-size="20.6" fill="#000" text-anchor="middle" class="bt">25'-0&quot;  WIDE ROAD  ROAD</text></g>
<g transform="translate(615 622) rotate(90)"><text transform="scale(0.695 1)" y="7.5" font-size="20.6" fill="#000" text-anchor="middle" class="bt">25'-0&quot;  WIDE ROAD  ROAD</text></g>
<g transform="translate(615 1362.5) rotate(90)"><text transform="scale(0.695 1)" y="7.5" font-size="20.6" fill="#000" text-anchor="middle" class="bt">25'-0&quot;  WIDE ROAD  ROAD</text></g>
<g transform="translate(615 1991) rotate(90)"><text transform="scale(0.695 1)" y="7.5" font-size="20.6" fill="#000" text-anchor="middle" class="bt">25'-0&quot;  WIDE ROAD  ROAD</text></g>
<g transform="translate(985 2280) rotate(90)"><text transform="scale(0.695 1)" y="7.5" font-size="20.6" fill="#000" text-anchor="middle" class="bt">25'-0&quot;  WIDE ROAD  ROAD</text></g>
<g transform="translate(754 2468) rotate(12.3)"><text transform="scale(0.695 1)" y="7.5" font-size="20.6" fill="#000" text-anchor="middle" class="bt">25'-0&quot;  WIDE ROAD  ROAD</text></g>
<g transform="translate(1120 2544.8) rotate(10.5)"><text transform="scale(0.695 1)" y="7.5" font-size="20.6" fill="#000" text-anchor="middle" class="bt">25'-0&quot;  WIDE ROAD  ROAD</text></g>
<g transform="translate(1159 2773) rotate(98.5)"><text transform="scale(0.695 1)" y="7.5" font-size="20.6" fill="#000" text-anchor="middle" class="bt">25'-0&quot;  WIDE ROAD  ROAD</text></g>
<g transform="translate(1094.5 3167) rotate(98.5)"><text transform="scale(0.695 1)" y="7.5" font-size="20.6" fill="#000" text-anchor="middle" class="bt">25'-0&quot;  WIDE ROAD  ROAD</text></g>
<g transform="translate(512.5 371.5) rotate(-17.2)"><text transform="scale(0.964 1)" y="5.5" font-size="15" fill="#000" text-anchor="middle" class="bt">MAIN  ROAD</text></g>
<g transform="translate(890 257.5) rotate(-17.2)"><text transform="scale(0.964 1)" y="5.5" font-size="15" fill="#000" text-anchor="middle" class="bt">MAIN  ROAD</text></g>
<g transform="translate(632.5 3252.5) rotate(189.2)"><text transform="scale(0.904 1)" y="3.8" font-size="10.5" fill="#000" text-anchor="middle" class="bt">25'-0&quot;  WIDE ROAD  ROAD</text></g>
<g transform="translate(955 3309) rotate(189.2)"><text transform="scale(0.904 1)" y="3.8" font-size="10.5" fill="#000" text-anchor="middle" class="bt">25'-0&quot;  WIDE ROAD  ROAD</text></g>
<g transform="translate(1182.5 3344) rotate(189.2)"><text transform="scale(0.904 1)" y="3.8" font-size="10.5" fill="#000" text-anchor="middle" class="bt">25'-0&quot;  WIDE ROAD  ROAD</text></g>
<use href="#tr" x="217.3" y="327"/>
<use href="#tr" x="352.5" y="287.5"/>
<use href="#tr" x="502.5" y="242.5"/>
<use href="#tr" x="672.5" y="185"/>
<use href="#tr" x="847.5" y="132.5"/>
<use href="#tr" x="1030" y="80"/>
<use href="#tr" x="1167.5" y="37.5"/>
<use href="#tr" x="1222.5" y="360"/>
<use href="#tr" x="1240" y="485"/>
<use href="#tr" x="1285" y="670"/>
<use href="#tr" x="1302.5" y="840"/>
<use href="#tr" x="1320" y="992.5"/>
<use href="#tr" x="1287.5" y="1212.5"/>
<use href="#tr" x="1265" y="1490"/>
<use href="#tr" x="1246" y="1660"/>
<use href="#tr" x="1232.5" y="1812.5"/>
<use href="#tr" x="1210" y="1960"/>
<use href="#tr" x="1165" y="2108"/>
<use href="#tr" x="1126.4" y="2275.6"/>
<use href="#tr" x="1103.3" y="2430"/>
<use href="#tr" x="1379" y="2459.5"/>
<use href="#tr" x="1454.4" y="2575.6"/>
<use href="#tr" x="1432" y="2765"/>
<use href="#tr" x="1394.2" y="3005"/>
<use href="#tr" x="1368" y="3139"/>
<use href="#tr" x="1350" y="3277.5"/>
<use href="#tr" x="342.5" y="570"/>
<use href="#tr" x="357.5" y="692.5"/>
<use href="#tr" x="357.5" y="807.5"/>
<use href="#tr" x="357.5" y="976"/>
<use href="#tr" x="357.5" y="1134"/>
<use href="#tr" x="357.5" y="1298"/>
<use href="#tr" x="357.5" y="1468.9"/>
<use href="#tr" x="357.5" y="1641"/>
<use href="#tr" x="357.5" y="1790"/>
<use href="#tr" x="357.5" y="1937.5"/>
<use href="#tr" x="357.5" y="2137.5"/>
<use href="#tr" x="495" y="2207.5"/>
<use href="#tr" x="615.3" y="2263"/>
<use href="#tr" x="571" y="2484"/>
<use href="#tr" x="708" y="2740.4"/>
<use href="#tr" x="901.5" y="2771"/>
<use href="#tr" x="878.5" y="2955"/>
<use href="#tr" x="830" y="3172.5"/>
<use href="#pl" x="154.5" y="353"/>
<use href="#pl" x="282.5" y="316"/>
<use href="#pl" x="420" y="272.5"/>
<use href="#pl" x="585" y="225"/>
<use href="#pl" x="750" y="169"/>
<use href="#pl" x="945" y="115"/>
<use href="#pl" x="1107.5" y="60"/>
<use href="#pl" x="1225" y="290"/>
<use href="#pl" x="1227.5" y="425"/>
<use href="#pl" x="1241" y="571"/>
<use href="#pl" x="1282.5" y="767.5"/>
<use href="#pl" x="1297.5" y="915"/>
<use href="#pl" x="1286" y="1086"/>
<use href="#pl" x="1267.5" y="1305"/>
<use href="#pl" x="1262.5" y="1390"/>
<use href="#pl" x="1240" y="1577.5"/>
<use href="#pl" x="1192.5" y="1895"/>
<use href="#pl" x="1170" y="2007.5"/>
<use href="#pl" x="1124" y="2170.5"/>
<use href="#pl" x="1106.4" y="2358.8"/>
<use href="#pl" x="1173" y="2435"/>
<use href="#pl" x="1297.4" y="2465.6"/>
<use href="#pl" x="1431.3" y="2507.8"/>
<use href="#pl" x="1428.2" y="2665"/>
<use href="#pl" x="1403.4" y="2827.5"/>
<use href="#pl" x="1385" y="2910.7"/>
<use href="#pl" x="1348" y="3064"/>
<use href="#pl" x="1330" y="3200"/>
<use href="#pl" x="245" y="585"/>
<use href="#pl" x="380" y="630"/>
<use href="#pl" x="377.5" y="747.5"/>
<use href="#pl" x="372.5" y="885"/>
<use href="#pl" x="374" y="1049.5"/>
<use href="#pl" x="372.7" y="1211"/>
<use href="#pl" x="372.7" y="1369.5"/>
<use href="#pl" x="372.7" y="1552.5"/>
<use href="#pl" x="370" y="1722.5"/>
<use href="#pl" x="367.5" y="1855"/>
<use href="#pl" x="365" y="2035"/>
<use href="#pl" x="416.5" y="2170"/>
<use href="#pl" x="566" y="2210"/>
<use href="#pl" x="598.5" y="2394"/>
<use href="#pl" x="562.7" y="2566.7"/>
<use href="#pl" x="587.8" y="2705"/>
<use href="#pl" x="786.5" y="2751"/>
<use href="#pl" x="893.3" y="2859"/>
<use href="#pl" x="859" y="3065.5"/>
<text class="lt" x="1568" y="191" font-size="107.8" textLength="569" lengthAdjust="spacingAndGlyphs">N.S. ENCLAVE</text>
<text class="lt" x="1454" y="280.5" font-size="63" textLength="839.5" lengthAdjust="spacingAndGlyphs">BY - ARDICON REALTORS PVT.LTD.</text>
<text class="lt" x="1356.8" y="360" font-size="60.4" textLength="1020" lengthAdjust="spacingAndGlyphs">LOCATED:-RABUPURA-SEC-35,NEAR FILM CITY</text>
<text class="lt" x="1356.8" y="421.7" font-size="60.4" textLength="387" lengthAdjust="spacingAndGlyphs">OPPOSIT SEC - 20</text>
<text class="lt" transform="translate(222.2 1618) rotate(-90)" font-size="76.5" textLength="689" lengthAdjust="spacingAndGlyphs">FOR FUTURE EXTENTION</text>
<rect x="1387.6" y="950" width="149.9" height="97.5" fill="#7cd4f7"/>
<rect x="1387.6" y="950" width="149.9" height="97.5" fill="url(#hw)"/>
<rect x="1387.6" y="950" width="149.9" height="97.5" fill="none" stroke="#555" stroke-width="2"/>
<path d="M1565 996.7H1893" stroke="#000" stroke-width="5.5" stroke-linecap="round"/>
<text class="lt" x="1916" y="1017.4" font-size="74" textLength="336.4" lengthAdjust="spacingAndGlyphs">BLOCK - (A)</text>
<rect x="1387.6" y="1095" width="149.9" height="97.5" fill="#c1f680"/>
<rect x="1387.6" y="1095" width="149.9" height="97.5" fill="url(#hw)"/>
<rect x="1387.6" y="1095" width="149.9" height="97.5" fill="none" stroke="#555" stroke-width="2"/>
<path d="M1565 1140.4H1893" stroke="#000" stroke-width="5.5" stroke-linecap="round"/>
<text class="lt" x="1916" y="1161" font-size="74" textLength="336.4" lengthAdjust="spacingAndGlyphs">BLOCK - (B)</text>
<rect x="1387.6" y="1238.5" width="149.9" height="97.5" fill="#20d6a0"/>
<rect x="1387.6" y="1238.5" width="149.9" height="97.5" fill="url(#hw)"/>
<rect x="1387.6" y="1238.5" width="149.9" height="97.5" fill="none" stroke="#555" stroke-width="2"/>
<path d="M1565 1288.9H1893" stroke="#000" stroke-width="5.5" stroke-linecap="round"/>
<text class="lt" x="1916" y="1314.4" font-size="74" textLength="338" lengthAdjust="spacingAndGlyphs">BLOCK - (C)</text>
<rect x="1387.6" y="1381.5" width="149.9" height="97.5" fill="#dd7ff4"/>
<rect x="1387.6" y="1381.5" width="149.9" height="97.5" fill="url(#hw)"/>
<rect x="1387.6" y="1381.5" width="149.9" height="97.5" fill="none" stroke="#555" stroke-width="2"/>
<path d="M1565 1430.5H1893" stroke="#000" stroke-width="5.5" stroke-linecap="round"/>
<text class="lt" x="1916" y="1458" font-size="74" textLength="339" lengthAdjust="spacingAndGlyphs">BLOCK - (D)</text>
<rect x="1387.6" y="1526.5" width="149.9" height="97.5" fill="#f5a17f"/>
<rect x="1387.6" y="1526.5" width="149.9" height="97.5" fill="url(#hw)"/>
<rect x="1387.6" y="1526.5" width="149.9" height="97.5" fill="none" stroke="#555" stroke-width="2"/>
<path d="M1565 1574.8H1893" stroke="#000" stroke-width="5.5" stroke-linecap="round"/>
<text class="lt" x="1916" y="1603" font-size="74" textLength="373" lengthAdjust="spacingAndGlyphs">COMM. PLOT</text>
<rect x="1387.6" y="1675" width="149.9" height="97.5" fill="#ff8000"/>
<rect x="1387.6" y="1675" width="149.9" height="97.5" fill="none" stroke="#555" stroke-width="2"/>
<path d="M1565 1723.3H1893" stroke="#000" stroke-width="5.5" stroke-linecap="round"/>
<text class="lt" x="1916" y="1753" font-size="74" textLength="230" lengthAdjust="spacingAndGlyphs">MANDIR</text>
<text class="lt" transform="translate(523 3159.6) rotate(-90)" font-size="76.5" textLength="690" lengthAdjust="spacingAndGlyphs">FOR FUTURE EXTENTION</text>
<g stroke-linejoin="miter">
<circle cx="1856.7" cy="3061.5" r="130" fill="none" stroke="#000" stroke-width="1.6"/><circle cx="1856.7" cy="3061.5" r="113.5" fill="none" stroke="#000" stroke-width="1.6"/>
<polygon points="1856.7,3061.5 1807.9,2784.8 1825.6,3039.7" fill="#fff" stroke="#000" stroke-width="1.5"/>
<polygon points="1856.7,3061.5 1807.9,2784.8 1867.4,2997.4" fill="#000" stroke="#000" stroke-width="1"/>
<polygon points="1856.7,3061.5 1580,3110.3 1834.9,3092.6" fill="#fff" stroke="#000" stroke-width="1.5"/>
<polygon points="1856.7,3061.5 1580,3110.3 1792.6,3050.8" fill="#000" stroke="#000" stroke-width="1"/>
<polygon points="1856.7,3061.5 1905.5,3338.2 1887.8,3083.3" fill="#fff" stroke="#000" stroke-width="1.5"/>
<polygon points="1856.7,3061.5 1905.5,3338.2 1846,3125.6" fill="#000" stroke="#000" stroke-width="1"/>
<polygon points="1856.7,3061.5 1867.4,2997.4 1974,2894" fill="#fff" stroke="#19e6e6" stroke-width="1.6"/>
<polygon points="1856.7,3061.5 1974,2894 1912.1,3027.5" fill="#00ffff" stroke="#19e6e6" stroke-width="1"/>
<polygon points="1856.7,3061.5 1920.8,3072.2 2024.2,3178.8" fill="#fff" stroke="#19e6e6" stroke-width="1.6"/>
<polygon points="1856.7,3061.5 2024.2,3178.8 1890.7,3116.9" fill="#00ffff" stroke="#19e6e6" stroke-width="1"/>
<polygon points="1856.7,3061.5 1846,3125.6 1739.4,3229" fill="#fff" stroke="#19e6e6" stroke-width="1.6"/>
<polygon points="1856.7,3061.5 1739.4,3229 1801.3,3095.5" fill="#00ffff" stroke="#19e6e6" stroke-width="1"/>
<polygon points="1856.7,3061.5 1792.6,3050.8 1689.2,2944.2" fill="#fff" stroke="#19e6e6" stroke-width="1.6"/>
<polygon points="1856.7,3061.5 1689.2,2944.2 1822.7,3006.1" fill="#00ffff" stroke="#19e6e6" stroke-width="1"/>
<polygon points="1856.7,3061.5 1913,3029 2133.4,3012.7 1921.2,3072.9" fill="#ff0000" stroke="#3030c0" stroke-width="1.6"/>
<path d="M1913 3029L1921.2 3072.9" stroke="#3030c0" stroke-width="2"/>
</g>
<text transform="translate(2174.8 3001.7) rotate(80)" font-size="62" text-anchor="middle" y="22.6" textLength="185" lengthAdjust="spacingAndGlyphs">NORTH</text>
<text transform="translate(1806 2741.5) rotate(80)" font-size="62" text-anchor="middle" y="22.6" textLength="48" lengthAdjust="spacingAndGlyphs">W</text>
<text transform="translate(1545.7 3111.4) rotate(80)" font-size="62" text-anchor="middle" y="22.6" textLength="34" lengthAdjust="spacingAndGlyphs">S</text>
<text transform="translate(1912 3368) rotate(80)" font-size="62" text-anchor="middle" y="22.6" textLength="34" lengthAdjust="spacingAndGlyphs">E</text>
</svg>
</body></html>
